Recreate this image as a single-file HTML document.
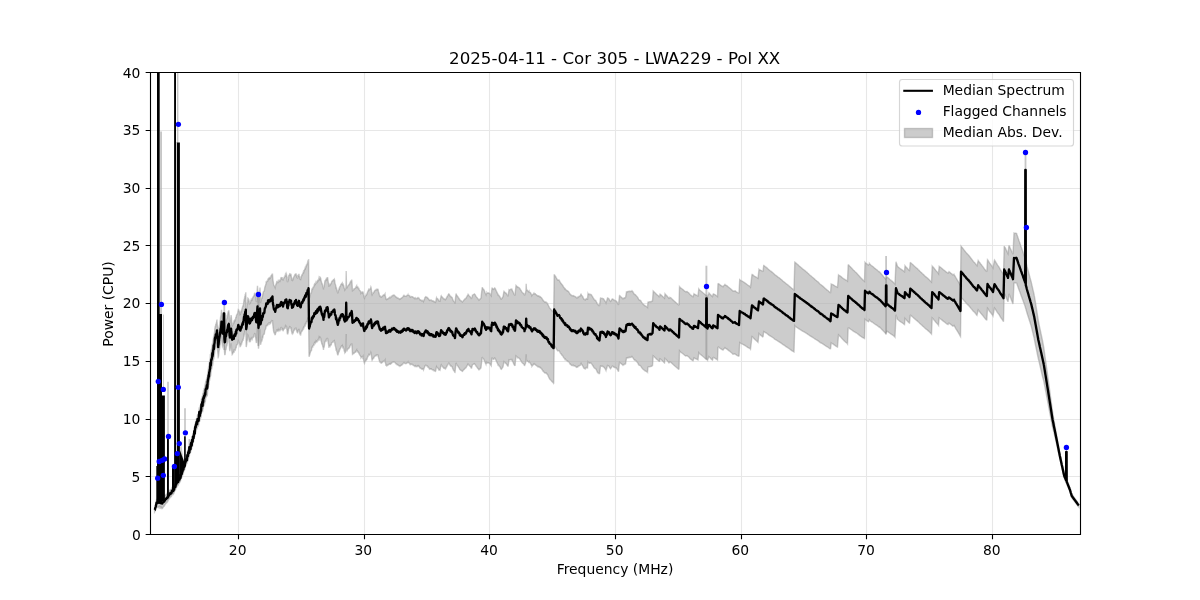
<!DOCTYPE html>
<html lang="en">
<head>
<meta charset="utf-8">
<title>2025-04-11 - Cor 305 - LWA229 - Pol XX</title>
<style>
html,body{margin:0;padding:0;background:#fff;overflow:hidden}
body{width:1200px;height:600px}
svg text{white-space:pre}
</style>
</head>
<body>
<svg width="1200" height="600" viewBox="0 0 1200 600" style="display:block">
<defs><clipPath id="ax"><rect x="150" y="72" width="930" height="462"/></clipPath></defs>
<rect width="1200" height="600" fill="#fff"/>
<g clip-path="url(#ax)">
<path d="M154.6 508.19 L154.9 507.66 L155.2 506.16 L155.5 505.25 L155.8 503.99 L156.1 502.05 L156.4 500.51 L156.5 499.58 L156.7 499.43 L157 499.13 L157.3 498.79 L157.6 498.39 L157.9 497.45 L158.2 496.85 L158.5 496.91 L158.8 497.38 L159.1 496.51 L159.1 496.75 L159.4 497.37 L159.7 496.56 L160 497.29 L160.3 497.78 L160.6 497.15 L160.9 497.62 L161.2 498.13 L161.5 497.43 L161.8 497.97 L162.1 498.34 L162.4 498.38 L162.4 498.16 L162.7 497.53 L163 497.49 L163.3 497.08 L163.6 496.91 L163.9 496.5 L164.2 496.74 L164.5 496.38 L164.8 495.58 L165.1 495.59 L165.4 494.97 L165.7 494.89 L166 494.48 L166.3 494.55 L166.6 493.93 L166.9 493.75 L167.2 493.78 L167.3 493.32 L167.5 493.69 L167.8 492.51 L168.1 492.87 L168.4 492.17 L168.7 491.86 L169 491.79 L169.3 491.34 L169.6 490.89 L169.9 490.06 L170.2 489.8 L170.5 490.2 L170.8 489.58 L171.1 489.42 L171.4 489.4 L171.7 488.64 L172 487.36 L172.3 487.33 L172.6 487.36 L172.9 486.44 L173.2 487.17 L173.5 486.76 L173.8 486.24 L174 485.38 L174.1 485.78 L174.4 484.03 L174.7 483.74 L175 483.41 L175.3 483.32 L175.6 482.29 L175.9 481.07 L176.2 480.86 L176.5 480.24 L176.8 479.6 L177.1 478.76 L177.4 478.65 L177.7 478.13 L178 478.2 L178.3 477.67 L178.6 476.53 L178.9 475.82 L179.2 475.9 L179.5 475.56 L179.8 474.53 L180.1 474.23 L180.4 473.97 L180.5 471.75 L180.7 473.1 L181 470.86 L181.3 470.49 L181.6 470.44 L181.9 469.42 L182.2 467.13 L182.5 467.61 L182.8 465.21 L183.1 465.13 L183.4 465.54 L183.7 463.63 L184 463.28 L184.3 462.82 L184.6 462.27 L184.9 461.26 L185 458.71 L185.2 459.35 L185.5 458.56 L185.8 456.36 L186.1 456.98 L186.4 456.29 L186.7 456.11 L187 455.59 L187.3 451.92 L187.6 451.35 L187.9 451.92 L188.2 449.15 L188.5 448.55 L188.8 448.89 L188.8 447.43 L189.1 448.66 L189.4 447.95 L189.7 443.92 L190 444.77 L190.3 444.78 L190.6 444.47 L190.9 440.81 L191.2 439.41 L191.5 441.15 L191.8 440.29 L192.1 436.51 L192.4 436.48 L192.6 436.92 L192.7 437.05 L193 433.21 L193.3 434.08 L193.6 433.53 L193.9 431.35 L194.2 428.63 L194.2 428.09 L194.5 427.96 L194.8 429.02 L195.1 424.62 L195.4 423.19 L195.7 423.44 L196 420.89 L196.3 420 L196.6 418.2 L196.9 419.11 L197.1 419.01 L197.2 417.45 L197.5 414.99 L197.8 414.64 L198.1 414.56 L198.4 414.87 L198.7 413.89 L199 409.46 L199.3 407.27 L199.6 409.6 L199.9 408.81 L200.2 405.6 L200.3 406.55 L200.5 406.16 L200.8 403.87 L201.1 403.8 L201.4 398.97 L201.7 398.84 L202 397.67 L202.3 395.81 L202.6 398.01 L202.9 393.04 L203.2 394.6 L203.5 390.83 L203.8 390.88 L203.8 391.13 L204.1 388.81 L204.4 388.96 L204.7 387.72 L205 385.48 L205.3 386 L205.6 382.26 L205.9 381.12 L206.2 380.54 L206.5 379.37 L206.8 377.36 L207.1 379.13 L207.4 377.47 L207.6 373.54 L207.7 373.92 L208 371.1 L208.3 369.8 L208.6 366.85 L208.9 365.55 L209 366.52 L209.2 363.04 L209.5 362.19 L209.8 360.05 L210.1 358.72 L210.4 354.16 L210.7 354.82 L210.8 354.92 L211 352.52 L211.3 349.67 L211.6 349.37 L211.9 347.81 L212.2 345.91 L212.3 343.6 L212.5 345.29 L212.8 343.52 L213.1 340.06 L213.4 338.92 L213.7 335.46 L213.8 337.9 L214 335.96 L214.3 333.29 L214.6 331.57 L214.9 327.78 L215 327.44 L215.2 326.53 L215.5 326.43 L215.8 323.88 L216.1 325.05 L216.4 322.71 L216.7 321.55 L217 319.5 L217 321.1 L217.3 324.89 L217.6 327.82 L217.9 330.21 L218.2 335.1 L218.2 333.4 L218.5 333.05 L218.8 330.25 L219.1 327.34 L219.4 325.76 L219.7 323.89 L220 320.81 L220.3 320.15 L220.6 316.95 L220.9 315.97 L221.2 313.69 L221.5 309.76 L221.5 311.07 L221.8 313.45 L222.1 317.67 L222.4 320.35 L222.5 321.21 L222.7 320.67 L223 316.44 L223.3 315.39 L223.6 312.71 L223.6 312.06 L223.9 317.66 L224.2 321.26 L224.5 325.99 L224.8 329.28 L224.8 328.73 L225.1 328.46 L225.4 325 L225.7 323.23 L226 323.02 L226.3 320.65 L226.6 319.08 L226.9 318.62 L227 316.95 L227.2 317.33 L227.5 315.6 L227.8 313.73 L228.1 312.05 L228.4 311.33 L228.7 311.75 L228.8 310.2 L229 312.33 L229.3 316.6 L229.6 321.67 L229.8 322.61 L229.9 323.33 L230.2 320.3 L230.5 320.34 L230.8 317.75 L231.1 315.11 L231.2 316.48 L231.4 317.51 L231.7 321.62 L232 324.52 L232.2 325.84 L232.3 325.67 L232.6 325.15 L232.9 324.39 L233.2 323.38 L233.5 322.59 L233.8 323.69 L234.1 321.11 L234.4 321.37 L234.7 320.03 L235 319.71 L235 320.85 L235.3 320.43 L235.6 318.67 L235.9 316.86 L236.2 317.98 L236.5 315.03 L236.8 314.79 L237.1 314.14 L237.4 313.92 L237.7 312.67 L238 311.12 L238.3 309.57 L238.5 309.74 L238.6 310.1 L238.9 310.96 L239.2 311.68 L239.5 311.54 L239.8 313.1 L240 314.25 L240.1 314.07 L240.4 314.1 L240.7 312.16 L241 312.25 L241.3 310.86 L241.6 310.9 L241.9 308.9 L242.2 308.69 L242.5 306.96 L242.8 306.22 L243 307.08 L243.1 305.28 L243.4 304.93 L243.7 302.61 L244 300.2 L244.3 300.42 L244.6 297.55 L244.9 297.82 L245.2 294.79 L245.5 294.8 L245.8 292.32 L245.8 292.69 L246.1 307.69 L246.2 311.3 L246.4 310.17 L246.7 308.12 L247 304.59 L247.3 303.93 L247.6 301.92 L247.9 298.19 L248 298.27 L248.2 298.47 L248.5 300.53 L248.8 300.22 L249.1 302.4 L249.4 304.16 L249.5 304.43 L249.7 302.73 L250 303.6 L250.3 301.73 L250.6 302.21 L250.9 300.87 L251.2 299.47 L251.5 299.96 L251.5 300.11 L251.8 299.58 L252.1 299.83 L252.4 298.06 L252.7 297.71 L253 297.23 L253 298.03 L253.3 297.09 L253.6 296.32 L253.9 295.82 L254.2 294.74 L254.5 293.48 L254.8 293.73 L255 292.86 L255.1 293.83 L255.4 296.66 L255.7 296.96 L256 299.75 L256.3 301.61 L256.5 302.09 L256.6 300.74 L256.9 296.58 L257.2 290.11 L257.5 285.68 L257.5 285.95 L257.8 291.63 L258.1 299.58 L258.4 305.33 L258.5 307.21 L258.7 304.99 L259 300.4 L259.3 297 L259.6 292.11 L259.9 289.53 L260 287.49 L260.2 292.71 L260.5 301.85 L260.5 302.79 L260.8 301.71 L261.1 300.15 L261.4 298.98 L261.7 297.93 L262 298.06 L262.3 295.19 L262.6 295.67 L262.9 294.5 L263.2 292.28 L263.5 291.68 L263.8 291.29 L264 291.2 L264.1 291.19 L264.4 290.35 L264.7 287.92 L265 286.63 L265.3 286.12 L265.6 285.16 L265.9 284.25 L266.2 282.03 L266.5 282.15 L266.8 281.74 L267 281.08 L267.1 281.1 L267.4 280.94 L267.7 280.89 L268 278.71 L268.3 280.04 L268.6 278.29 L268.9 277.96 L269.2 277.8 L269.5 278.49 L269.8 277.73 L270 277.18 L270.1 277.13 L270.4 277.94 L270.7 277.51 L271 275.86 L271.3 275.6 L271.6 275.37 L271.9 274.57 L272.2 274.78 L272.5 273.61 L272.5 274.32 L272.8 278.11 L273.1 281.01 L273.4 282.56 L273.5 283.81 L273.7 284.64 L274 285.73 L274.3 285.84 L274.6 286.19 L274.9 287.01 L275 286.93 L275.2 287.56 L275.5 286.18 L275.8 284.56 L276.1 284.27 L276.4 283.02 L276.7 282.16 L277 280.96 L277 281.2 L277.3 282.6 L277.6 282.37 L277.9 282.51 L278.2 281.16 L278.5 281.98 L278.8 281.76 L279 281.24 L279.1 281.69 L279.4 280.57 L279.7 280.41 L280 281.06 L280.3 280.36 L280.6 279.9 L280.9 277.9 L281 277.82 L281.2 277.53 L281.5 277.67 L281.8 277.67 L282.1 279.39 L282.4 279.54 L282.7 278.58 L283 279.11 L283 280.53 L283.3 279.35 L283.6 278.55 L283.9 278.25 L284.2 277.16 L284.5 277.07 L284.8 276.65 L285 275.76 L285.1 276.27 L285.4 274.55 L285.7 275.23 L286 275.71 L286.3 273.76 L286.5 274.28 L286.6 275.32 L286.9 277.07 L287.2 280.65 L287.5 282 L287.5 281.99 L287.8 281.55 L288.1 278.5 L288.4 278.92 L288.7 276.16 L289 275.37 L289 275.59 L289.3 275.26 L289.6 274.08 L289.9 274.33 L290.2 274.1 L290.5 275.06 L290.8 274.74 L291 273.92 L291.1 275.31 L291.4 277.26 L291.7 278.37 L292 279.98 L292 280.95 L292.3 279.74 L292.6 278.47 L292.9 279.76 L293.2 279.09 L293.5 277.55 L293.8 276.96 L294 276.56 L294.1 276.94 L294.4 275.65 L294.7 275.5 L295 274.41 L295.3 274.22 L295.6 274.56 L295.9 273.76 L296 273.29 L296.2 274.55 L296.5 276.18 L296.8 275.94 L297.1 277.69 L297.4 277.97 L297.5 278.07 L297.7 278 L298 275.58 L298.3 275.09 L298.6 276.06 L298.9 275.58 L299 273.79 L299.2 276.25 L299.5 276.38 L299.8 278.24 L300 279.06 L300.1 279.2 L300.4 278.73 L300.7 279.11 L301 277.51 L301.3 276.24 L301.6 275.96 L301.9 274.9 L302 274.77 L302.2 275.11 L302.5 274.58 L302.8 273.38 L303.1 272.97 L303.4 271.78 L303.7 272.23 L304 271.07 L304 270.61 L304.3 270.56 L304.6 269.27 L304.9 268.77 L305.2 267.77 L305.5 268.39 L305.8 266.74 L306 267.62 L306.1 266.26 L306.4 265.02 L306.7 265.4 L307 264.75 L307.3 264.35 L307.6 262.18 L307.9 262.69 L308.2 261.89 L308.5 259.87 L308.6 259.85 L308.8 279.63 L309 298.35 L309.1 299.28 L309.4 298.07 L309.7 297.53 L310 295.88 L310.3 295.16 L310.6 293.67 L310.9 293.05 L311.2 292.92 L311.5 292.39 L311.8 289.87 L312 289.03 L312.1 288.83 L312.4 288.87 L312.7 288.91 L313 287.27 L313.3 287.18 L313.6 286.69 L313.9 286.73 L314.2 284.9 L314.5 284.14 L314.8 284.57 L315 283.96 L315.1 283.71 L315.4 284.21 L315.7 283.66 L316 282.2 L316.3 282.72 L316.6 282.84 L316.9 282.7 L317.2 280.71 L317.5 281.75 L317.8 279.78 L318 280.53 L318.1 280.23 L318.4 280.42 L318.7 279.41 L319 277.97 L319.3 278.88 L319.6 277.99 L319.9 278.85 L320.2 277.3 L320.5 277.67 L320.5 278.29 L320.8 278.57 L321.1 280.55 L321.4 281.77 L321.7 282.96 L322 284.34 L322 283.54 L322.3 284.07 L322.6 285.38 L322.9 286.72 L323.2 287.26 L323.5 289.48 L323.5 288.39 L323.8 286.9 L324.1 286.71 L324.4 284.84 L324.7 282.27 L325 280.76 L325 281.56 L325.3 280.86 L325.6 279.84 L325.9 279.66 L326.2 279.85 L326.5 277.97 L326.8 279.1 L327.1 278 L327.4 277.11 L327.5 278.02 L327.7 278.01 L328 280.29 L328.3 282.28 L328.6 283.5 L328.9 286.36 L329 286.68 L329.2 285.57 L329.5 285.16 L329.8 284.62 L330.1 285.02 L330.4 283.93 L330.7 283.94 L331 283.83 L331.3 283.38 L331.6 281.67 L331.9 281.41 L332 281.3 L332.2 281.04 L332.5 280.77 L332.8 280.51 L333.1 280.63 L333.4 279.63 L333.7 279.59 L334 279.57 L334.3 279.13 L334.5 279.78 L334.6 280.04 L334.9 282.59 L335.2 284.02 L335.5 284.63 L335.8 286.13 L336 287.9 L336.1 287.8 L336.4 287.7 L336.7 289.38 L337 290.01 L337.3 291.53 L337.6 292.44 L337.8 293.33 L337.9 292.74 L338.2 292.2 L338.5 290.49 L338.8 289.74 L339.1 288.53 L339.4 288.83 L339.7 287.02 L340 286.55 L340 286.5 L340.3 286.44 L340.6 285.38 L340.9 284.57 L341.2 284.42 L341.5 283.62 L341.8 283.87 L342.1 284.21 L342.4 283.35 L342.7 284.5 L343 283.79 L343 283.48 L343.3 285.18 L343.6 285.25 L343.9 286.49 L344.2 288.29 L344.5 288.37 L344.8 289.79 L345 289.38 L345.1 289.81 L345.4 289.5 L345.7 288.45 L345.9 288.28 L346 282.73 L346.2 271.1 L346.3 276.12 L346.5 287.59 L346.6 288.23 L346.9 287.05 L347.2 287.31 L347.5 286.25 L347.5 286.58 L347.8 285.96 L348.1 285.66 L348.4 285.41 L348.7 285.1 L349 284.58 L349.3 284.31 L349.6 283.86 L349.9 282.56 L350 282.97 L350.2 282.36 L350.5 281.7 L350.8 281.25 L351.1 281.57 L351.4 280.92 L351.7 279.76 L351.8 280.21 L352 282.6 L352.3 287.57 L352.5 290.82 L352.6 290.76 L352.9 289.89 L353.2 289.47 L353.5 289.81 L353.8 289.8 L354.1 289.48 L354.4 288.68 L354.7 288.61 L355 288.46 L355.3 288.33 L355.6 287.58 L355.9 287.67 L356.2 286.64 L356.5 286.13 L356.5 286.21 L356.8 286.83 L357.1 287.14 L357.4 286.81 L357.7 287.51 L358 287.34 L358.3 288.19 L358.6 288.56 L358.9 289 L359 288.89 L359.2 289.63 L359.5 290.08 L359.8 290.45 L360.1 290.96 L360.4 291.07 L360.7 292.01 L361 292.48 L361 292.81 L361.3 292.33 L361.6 292.66 L361.9 292.16 L362.2 292.06 L362.5 292.73 L362.8 291.94 L363 291.47 L363.1 292.51 L363.4 294.17 L363.7 295.34 L364 296.81 L364.3 297.96 L364.5 298.28 L364.6 297.8 L364.9 296.84 L365.2 296.25 L365.5 295.95 L365.8 295.83 L366.1 294.55 L366.4 294.95 L366.7 294.51 L367 294.05 L367.3 292.69 L367.6 291.81 L367.9 291.65 L368 291.29 L368.2 290.62 L368.5 289.99 L368.8 289.34 L369.1 290 L369.4 289.62 L369.7 289.51 L370 289.13 L370.3 288.44 L370.6 288.19 L370.9 286.99 L371 287.22 L371.2 288.29 L371.5 290.63 L371.8 293.25 L372 294.56 L372.1 294.86 L372.4 294.26 L372.7 293.66 L373 293.29 L373.3 292.73 L373.6 292.74 L373.9 292.42 L374.2 291.33 L374.5 291 L374.8 290.87 L375 290 L375.1 290.43 L375.4 290.26 L375.7 289.9 L376 289.93 L376.3 289.38 L376.6 289.67 L376.9 289.84 L377.2 289.37 L377.5 289.19 L377.8 289.14 L378 289.23 L378.1 289.71 L378.4 291.38 L378.7 292.29 L379 293.54 L379.3 294.56 L379.5 295.34 L379.6 295.68 L379.9 296.2 L380.2 295.96 L380.5 296.37 L380.8 296.74 L381.1 297.19 L381.4 296.87 L381.5 297.12 L381.7 297.02 L382 296.34 L382.3 296.34 L382.6 296.26 L382.9 295.38 L383.2 295.34 L383.5 294.95 L383.8 295.13 L384.1 295.34 L384.4 294.91 L384.7 294.4 L385 293.9 L385 294.12 L385.3 295.9 L385.6 297.22 L385.9 298.85 L386 299.61 L386.2 298.89 L386.5 299.45 L386.8 299.08 L387.1 298.96 L387.4 299.24 L387.7 298.85 L388 298.6 L388.3 298.43 L388.6 298.46 L388.9 297.82 L389.2 297.81 L389.5 297.47 L389.8 297.59 L390 297.27 L390.1 297.67 L390.4 297.7 L390.7 297.24 L391 297.19 L391.3 296.97 L391.6 296.68 L391.9 295.87 L392.2 295.88 L392.5 295.59 L392.8 295.45 L393.1 295.23 L393.4 295.47 L393.7 295.31 L394 295.09 L394.3 295.14 L394.5 295.28 L394.6 295.39 L394.9 295.91 L395.2 296.23 L395.5 296.31 L395.8 296.8 L396.1 297.2 L396.4 297.19 L396.7 297.23 L397 297.82 L397.3 297.72 L397.5 297.83 L397.6 297.99 L397.9 298.03 L398.2 298.17 L398.5 298.54 L398.8 298.76 L399.1 298.68 L399.4 298.64 L399.7 298.9 L400 298.95 L400 298.97 L400.3 298.71 L400.6 298.84 L400.9 298.33 L401.2 298.04 L401.5 298.19 L401.8 298.01 L402.1 297.54 L402.4 297.17 L402.7 296.99 L403 296.77 L403.3 296.01 L403.6 295.76 L403.9 295.36 L404 295.63 L404.2 295.61 L404.5 295.75 L404.8 296.09 L405.1 296.22 L405.4 296.23 L405.7 296.19 L406 296.33 L406.3 296.09 L406.6 295.78 L406.9 295.7 L407.2 295.25 L407.5 295.21 L407.8 295.29 L408 294.79 L408.1 295.22 L408.4 295.16 L408.7 295.19 L409 295.37 L409.3 295.57 L409.6 296.02 L409.9 296.61 L410 296.55 L410.2 296.99 L410.5 296.63 L410.8 296.92 L411.1 296.9 L411.4 296.78 L411.7 296.47 L412 296.58 L412.3 296.66 L412.6 296.82 L412.9 297.36 L413.2 297.39 L413.5 297.7 L413.8 297.62 L414.1 297.82 L414.4 298.28 L414.7 298.51 L415 298.2 L415 298.56 L415.3 298.46 L415.6 298.19 L415.9 298.54 L416.2 298.38 L416.5 298.44 L416.8 298.7 L417.1 298.46 L417.4 297.97 L417.7 298.18 L418 297.71 L418.3 298.16 L418.6 298.23 L418.9 298.47 L419 298.21 L419.2 298.53 L419.5 299.19 L419.8 299.53 L420.1 299.94 L420.4 299.84 L420.7 300.08 L421 300.12 L421.3 300.5 L421.6 300.81 L421.9 300.46 L422.2 300.76 L422.5 300.45 L422.8 300.85 L423.1 300.8 L423.4 301.01 L423.5 301.5 L423.7 301.1 L424 300.02 L424.3 299.32 L424.6 298.71 L424.9 297.63 L425 297.46 L425.2 297.34 L425.5 296.95 L425.8 296.69 L426.1 296.88 L426.4 296.98 L426.7 297.03 L427 297.44 L427.3 297.86 L427.6 297.65 L427.9 298.02 L428.2 298.72 L428.5 298.78 L428.8 299.18 L429.1 299.63 L429.4 300.36 L429.7 300.05 L430 300.05 L430 300.33 L430.3 300.38 L430.6 300.36 L430.9 300.17 L431.2 300.51 L431.5 300.25 L431.8 300.55 L432.1 300.65 L432.4 300.89 L432.7 300.83 L433 300.9 L433.3 301.43 L433.6 301.17 L433.9 301.36 L434.2 301.67 L434.5 301.61 L434.8 301.9 L435.1 302.26 L435.4 302.27 L435.5 302.34 L435.7 301.82 L436 300.31 L436.3 298.72 L436.5 297.87 L436.6 298.14 L436.9 298.34 L437.2 298.38 L437.5 298.49 L437.8 299.26 L438.1 299.37 L438.4 300.1 L438.7 300.23 L439 301.08 L439.3 301.04 L439.6 300.94 L439.9 300.95 L440 301.03 L440.2 300.1 L440.5 298.58 L440.8 297.43 L441.1 296 L441.2 295.81 L441.4 296.22 L441.7 296.4 L442 297.03 L442.3 297.16 L442.6 297.4 L442.9 298.06 L443.2 298.18 L443.5 298.6 L443.8 299.01 L444.1 299.22 L444.4 298.98 L444.7 299.42 L445 299.37 L445.3 299.36 L445.5 299.42 L445.6 299.58 L445.9 299.05 L446.2 298.33 L446.5 297.72 L446.8 297.53 L447.1 296.53 L447.4 296.04 L447.7 295.76 L448 295.31 L448.3 294.5 L448.6 294.09 L448.9 293.89 L449 293.93 L449.2 294.28 L449.5 294.84 L449.8 295.42 L450.1 296.13 L450.4 296.19 L450.5 296.51 L450.7 296.44 L451 296.48 L451.3 296.93 L451.6 297.19 L451.9 297.31 L452.2 297.78 L452.5 298.78 L452.8 299.49 L453.1 300.22 L453.4 300.79 L453.7 301.18 L454 301.5 L454.3 301.91 L454.6 302.27 L454.9 303.11 L455 303.13 L455.2 301.18 L455.5 298.37 L455.8 295.74 L456 294.17 L456.1 294.08 L456.4 294.56 L456.7 295.22 L457 295.56 L457.3 296.11 L457.6 296.41 L457.9 296.73 L458.2 297.35 L458.5 297.83 L458.8 298.01 L459.1 298.61 L459.4 299.24 L459.5 299.25 L459.7 299.84 L460 300.14 L460.3 300.15 L460.6 300.71 L460.9 300.78 L461.2 300.87 L461.5 301.29 L461.8 301.49 L462.1 301.69 L462.4 301.99 L462.5 302.01 L462.7 301.54 L463 301.21 L463.3 300.66 L463.6 300.51 L463.9 300.05 L464.2 299.68 L464.5 299.68 L464.8 299.01 L465.1 298.82 L465.4 298.85 L465.7 298.56 L466 298.25 L466 298.44 L466.3 297.53 L466.6 296.97 L466.9 296.58 L467.2 295.82 L467.5 295.57 L467.8 295.15 L468 294.59 L468.1 294.74 L468.4 294.65 L468.7 295.15 L469 295.71 L469.3 296 L469.6 296.24 L469.9 296.66 L470.2 296.85 L470.5 297.24 L470.8 297.53 L471.1 298.35 L471.4 298.49 L471.5 299 L471.7 297.74 L472 297 L472.3 295.73 L472.5 294.72 L472.6 295.06 L472.9 294.88 L473.2 294.69 L473.5 294.49 L473.8 294.29 L474.1 294.14 L474.4 293.98 L474.7 294.42 L475 294.34 L475 294.23 L475.3 295.2 L475.6 295.44 L475.9 296.06 L476.2 296.61 L476.5 297.09 L476.8 297.27 L477.1 297.55 L477.4 298.24 L477.7 298.57 L478 298.96 L478.3 299.05 L478.6 299.65 L478.9 299.95 L479 300.1 L479.2 299.88 L479.5 299.59 L479.8 299.28 L480.1 299.17 L480.4 298.61 L480.7 298.46 L481 297.93 L481 297.92 L481.3 295 L481.6 292.5 L481.9 290.21 L482.2 287.53 L482.2 287.22 L482.5 287.79 L482.8 288.35 L483.1 288.78 L483.4 289.01 L483.7 289.21 L484 289.88 L484.3 290.5 L484.6 291.29 L484.9 291.96 L485.2 293 L485.5 293.64 L485.8 293.97 L486 294.5 L486.1 294 L486.4 293.61 L486.7 293.39 L487 292.94 L487 292.73 L487.3 293.14 L487.6 293.01 L487.9 293.02 L488.2 292.91 L488.5 293.04 L488.8 292.9 L489.1 293.2 L489.4 293.55 L489.7 293.71 L490 293.86 L490 293.63 L490.3 294.23 L490.6 295 L490.9 295.42 L491.2 295.8 L491.2 295.43 L491.5 292.57 L491.8 289.76 L492 288.35 L492.1 288.12 L492.4 288.37 L492.7 288.62 L493 289.09 L493.3 289.23 L493.6 289.32 L493.9 288.7 L494.2 288.46 L494.5 288.62 L494.8 288.03 L495 288.17 L495.1 288.34 L495.4 288.82 L495.7 289.53 L496 290.44 L496.3 290.77 L496.6 291.9 L496.9 292.06 L497.2 292.72 L497.5 293.56 L497.8 293.91 L498 294.74 L498.1 294.64 L498.4 294.84 L498.7 295.21 L499 295.72 L499.3 296.21 L499.6 296.23 L499.9 296.73 L500.2 297.43 L500.5 298.09 L500.8 298.74 L501 298.96 L501.1 298.96 L501.4 299.15 L501.7 298.74 L502 298.07 L502.3 297.93 L502.6 297.1 L502.9 296.99 L503 296.89 L503.2 295.61 L503.5 294.01 L503.8 292.04 L504 291.31 L504.1 291.41 L504.4 291.91 L504.7 292.35 L505 292.37 L505.3 292.92 L505.6 292.99 L505.9 293.24 L506.2 293.25 L506.5 293.97 L506.8 294.29 L507.1 295.04 L507.4 295.18 L507.7 295.73 L508 296.26 L508 296.35 L508.3 294.7 L508.6 292.4 L508.9 290.79 L509 289.91 L509.2 290.09 L509.5 290 L509.8 289.73 L510.1 289.68 L510.4 289.41 L510.7 289.17 L511 289.14 L511.3 289.1 L511.6 289.6 L511.9 289.39 L512 289.8 L512.2 289.93 L512.5 291.1 L512.8 291.36 L513.1 291.97 L513.4 292.64 L513.7 293.57 L514 293.98 L514.3 294.54 L514.6 295.11 L514.9 295.18 L515 295.55 L515.2 293.44 L515.5 290.25 L515.8 287.54 L516 285.42 L516.1 285.5 L516.4 286.02 L516.7 286.43 L517 286.45 L517.3 286.73 L517.6 287.31 L517.9 287.15 L518.2 287.3 L518.5 287.36 L518.8 287.64 L519.1 287.65 L519.4 288.19 L519.7 288.47 L520 288.65 L520 288.86 L520.3 289.55 L520.6 289.92 L520.9 290.32 L521.2 290.61 L521.5 291.39 L521.8 291.71 L522.1 292.14 L522.4 292.48 L522.7 292.75 L523 292.97 L523.3 293.19 L523.6 293.53 L523.9 293.72 L524.2 294.48 L524.5 295.25 L524.5 295.47 L524.8 294.48 L525.1 293.78 L525.4 293.17 L525.7 291.82 L525.8 291.34 L525.9 291.2 L526 288.77 L526.2 283.72 L526.3 285.94 L526.5 290.39 L526.6 290.31 L526.9 290.29 L527 290.19 L527.2 290.1 L527.5 290.74 L527.8 290.81 L528.1 291.11 L528.4 291.15 L528.7 291.69 L529 291.3 L529 291.36 L529.3 291.71 L529.6 291.96 L529.9 292.2 L530.2 292.62 L530.5 292.69 L530.8 293.49 L531.1 293.87 L531.4 294.54 L531.7 294.97 L532 295.58 L532 295.61 L532.3 295.24 L532.6 294.6 L532.9 294.46 L533.2 294.24 L533.5 293.8 L533.5 293.88 L533.8 293.63 L534.1 293.44 L534.4 293.77 L534.7 293.56 L535 293.73 L535.3 293.73 L535.6 294.16 L535.9 294.57 L536.2 294.61 L536.5 294.99 L536.8 295.08 L537.1 295.55 L537.4 295.61 L537.7 295.66 L538 295.73 L538 295.94 L538.3 295.82 L538.6 296.17 L538.9 296.01 L539.2 296.4 L539.5 296.34 L539.8 296.39 L540.1 296.99 L540.4 296.86 L540.7 297.37 L541 297.4 L541.3 297.57 L541.6 297.95 L541.9 298.59 L542.2 298.72 L542.5 299.56 L542.8 299.74 L543 299.96 L543.1 300.46 L543.4 300.41 L543.7 300.92 L544 301.42 L544.3 301.5 L544.6 302.04 L544.9 302.07 L545.2 302.16 L545.5 301.98 L545.8 302.31 L546.1 302.44 L546.4 302.3 L546.7 302.92 L547 303.16 L547 302.86 L547.3 303.55 L547.6 303.93 L547.9 304.04 L548.2 305.04 L548.5 305.85 L548.8 306.5 L549.1 306.88 L549.4 307.72 L549.7 308.16 L550 308.43 L550 308.44 L550.3 308.63 L550.6 308.91 L550.9 309.37 L551.2 309.73 L551.5 310.08 L551.8 310.54 L552.1 310.43 L552.4 310.83 L552.7 311.39 L553 311.74 L553.3 311.78 L553.6 312.42 L553.7 312.27 L553.9 297.45 L554.2 274.31 L554.2 274.47 L554.5 274.88 L554.8 275.37 L555.1 275.71 L555.4 276.25 L555.7 276.69 L556 277.34 L556.3 277.76 L556.6 278.35 L556.9 278.84 L557.2 279.41 L557.5 279.93 L557.8 279.83 L558 279.91 L558.1 279.96 L558.4 279.98 L558.7 279.97 L559 279.95 L559.3 280.58 L559.6 280.94 L559.9 281.63 L560.2 282.23 L560.5 282.69 L560.5 282.68 L560.8 282.99 L561.1 283.36 L561.4 283.89 L561.5 284.2 L561.7 284.16 L562 284.38 L562.3 285.12 L562.6 285.34 L562.9 285.72 L563.2 286.43 L563.5 287.03 L563.8 287.43 L564.1 287.62 L564.4 288.14 L564.7 288.29 L565 288.94 L565 289.03 L565.3 288.85 L565.6 289.38 L565.9 289.82 L566.2 290.06 L566.5 290.15 L566.8 290.44 L567.1 290.87 L567.4 290.82 L567.7 291.32 L568 291.3 L568.3 291.35 L568.6 291.69 L568.9 291.96 L569.2 292.62 L569.5 293.14 L569.8 293.49 L570 294.15 L570.1 294.25 L570.4 294.32 L570.7 294.66 L571 294.84 L571.3 295.35 L571.6 295.46 L571.9 295.75 L572.2 295.69 L572.5 295.73 L572.8 295.54 L573.1 295.81 L573.4 295.6 L573.7 295.98 L574 296.09 L574.3 296.15 L574.6 296.16 L574.9 296.51 L575 296.57 L575.2 296.76 L575.5 296.72 L575.8 297.05 L576.1 297.43 L576.4 297.8 L576.7 297.65 L577 297.85 L577.3 297.78 L577.6 297.28 L577.9 297.47 L578 297.29 L578.2 296.94 L578.5 296.8 L578.8 296.69 L579.1 296.36 L579.4 296.5 L579.7 296.21 L580 296.16 L580 296.39 L580.3 295.77 L580.6 294.87 L580.9 294.13 L581 294.04 L581.2 294.43 L581.5 295.29 L581.8 295.47 L582.1 295.85 L582.4 296.25 L582.7 296.77 L583 297.19 L583.3 298.1 L583.6 298.53 L583.9 299.03 L584 299.37 L584.2 299.38 L584.5 299.66 L584.8 299.5 L585.1 299.56 L585.4 299.72 L585.5 299.82 L585.7 299.29 L586 298.95 L586.3 298.61 L586.6 298.68 L586.9 298.88 L587.2 299.1 L587.5 299.19 L587.5 299.01 L587.8 295.76 L588 293.63 L588.1 293.84 L588.4 294.1 L588.7 293.88 L589 294.31 L589.3 294.47 L589.6 294.17 L589.9 294.54 L590.2 294.41 L590.5 294.53 L590.8 294.47 L591.1 294.6 L591.4 295.07 L591.7 295.41 L592 295.63 L592 295.62 L592.3 296.48 L592.6 296.76 L592.9 297.33 L593.2 297.74 L593.5 298.34 L593.8 298.97 L594.1 299.31 L594.4 299.7 L594.7 299.95 L595 300.01 L595 300.18 L595.3 300.26 L595.6 300.36 L595.9 300.88 L596.2 301.47 L596.5 302.08 L596.8 302.62 L597.1 303.64 L597.4 303.95 L597.5 304.18 L597.7 304.43 L598 304.83 L598.3 304.79 L598.6 304.95 L598.9 305.45 L599.2 305.76 L599.5 305.74 L599.5 305.98 L599.8 303.4 L600.1 301.37 L600.4 298.7 L600.5 298.24 L600.7 298.38 L601 298.16 L601.3 298.45 L601.6 298.38 L601.9 298.3 L602.2 298.22 L602.5 298.64 L602.8 298.66 L603.1 298.87 L603.4 298.87 L603.5 298.84 L603.7 299.15 L604 299.79 L604.3 299.97 L604.6 300.45 L604.9 300.98 L605.2 301.24 L605.5 301.78 L605.8 302.33 L606 302.87 L606.1 302.43 L606.4 301.53 L606.7 300.99 L607 299.79 L607.3 298.79 L607.5 297.98 L607.6 297.9 L607.9 298.22 L608.2 298.37 L608.5 298.4 L608.8 298.7 L609.1 299.1 L609.4 299.92 L609.7 300.46 L610 300.64 L610.3 301.11 L610.5 301.49 L610.6 301.4 L610.9 301 L611.2 300.53 L611.5 300.05 L611.8 299.59 L612.1 299.02 L612.4 298.91 L612.5 298.91 L612.7 298.94 L613 299.22 L613.3 299.61 L613.6 299.88 L613.9 299.83 L614.2 300.32 L614.5 300.48 L614.8 300.44 L615.1 300.58 L615.4 300.58 L615.7 300.72 L616 301 L616 300.75 L616.3 301.33 L616.6 301.35 L616.9 301.91 L617.2 302.55 L617.5 302.93 L617.8 303.44 L618.1 304.21 L618.4 304.6 L618.5 304.93 L618.7 302.85 L619 300.08 L619.3 297.53 L619.5 295.53 L619.6 295.46 L619.9 295.95 L620.2 296.11 L620.5 296.39 L620.8 296.9 L621.1 297.01 L621.4 297.35 L621.7 297.55 L622 297.83 L622.3 298.24 L622.6 298.39 L622.9 298.72 L623 298.86 L623.2 298.61 L623.5 298.37 L623.8 298.17 L624.1 298.3 L624.4 297.83 L624.7 297.72 L625 297.82 L625.3 297.8 L625.5 297.74 L625.6 297.27 L625.9 295.46 L626.2 293.65 L626.5 292.01 L626.5 291.94 L626.8 292.04 L627.1 291.73 L627.4 291.86 L627.7 291.51 L628 291.6 L628.3 291.51 L628.6 291.33 L628.9 291.57 L629.2 291.5 L629.5 291.21 L629.8 291.41 L630.1 291.5 L630.4 291.37 L630.7 291.29 L631 291.43 L631.3 291.19 L631.6 291.14 L631.9 291.06 L632 290.86 L632.2 291.18 L632.5 291.34 L632.8 291.8 L633.1 292.17 L633.4 292.88 L633.7 293.13 L634 293.78 L634.3 294.2 L634.6 294.15 L634.9 294.66 L635.2 294.73 L635.5 294.7 L635.8 295.2 L636.1 295.48 L636.4 295.92 L636.7 296.16 L637 296.43 L637.3 296.9 L637.6 297.2 L637.9 297.8 L638 297.95 L638.2 298.31 L638.5 299.12 L638.8 299.5 L639.1 299.9 L639.4 299.96 L639.7 300.04 L640 300.11 L640.3 300.52 L640.6 300.55 L640.9 300.98 L641.2 301.55 L641.5 302.17 L641.8 302.5 L642.1 302.98 L642.4 303.4 L642.7 303.66 L643 304.07 L643.3 304.36 L643.6 304.61 L643.9 304.82 L644.2 305.02 L644.5 305.15 L644.8 305.69 L645 305.84 L645.1 305.74 L645.4 305.88 L645.7 306.15 L646 306.16 L646.3 306.46 L646.6 306.79 L646.9 306.76 L647.2 306.88 L647.5 307.24 L647.5 307.22 L647.8 303.95 L648 302.11 L648.1 302.09 L648.4 302 L648.7 301.9 L649 301.87 L649.3 301.87 L649.6 301.86 L649.9 301.69 L650.2 301.7 L650.5 301.64 L650.8 301.72 L651.1 301.5 L651.4 301.44 L651.7 301.44 L652 301.05 L652.3 300.87 L652.5 300.77 L652.6 299.54 L652.9 295.32 L653.2 291.02 L653.2 291.01 L653.5 291.26 L653.8 291.71 L654.1 291.87 L654.4 292.24 L654.7 292.51 L655 292.81 L655.3 293.04 L655.6 293.31 L655.9 293.68 L656.2 294.08 L656.5 294.4 L656.8 294.55 L657.1 294.8 L657.4 295.08 L657.7 295.25 L658 295.46 L658.3 295.74 L658.6 296.11 L658.9 296.41 L659.2 296.84 L659.5 297.15 L659.5 297.19 L659.8 295.41 L660 294.14 L660.1 294.17 L660.4 294.41 L660.7 294.74 L661 294.93 L661.3 295.08 L661.6 295.41 L661.9 295.73 L662.2 296.03 L662.5 296.32 L662.8 296.61 L663.1 296.85 L663.4 297.19 L663.7 297.42 L664 297.82 L664.3 298.11 L664.5 298.28 L664.6 297.4 L664.9 294.77 L665 293.8 L665.2 294.05 L665.5 294.39 L665.8 294.79 L666.1 295.05 L666.4 295.35 L666.7 295.68 L667 296.07 L667.3 296.29 L667.6 296.68 L667.9 297.01 L668.2 297.37 L668.5 297.76 L668.8 298.17 L669 298.36 L669.1 298.31 L669.4 298.08 L669.7 297.66 L670 297.35 L670 297.31 L670.3 297.47 L670.6 297.68 L670.9 297.9 L671.2 298.2 L671.5 298.51 L671.8 298.75 L672.1 298.97 L672.4 299.33 L672.7 299.67 L673 299.84 L673.3 300.18 L673.6 300.42 L673.9 300.8 L674.2 301.03 L674.5 301.41 L674.8 301.59 L675.1 301.87 L675.4 302.09 L675.7 302.34 L676 302.57 L676.3 302.99 L676.6 303.19 L676.9 303.47 L677.2 303.78 L677.5 304.02 L677.8 304.25 L678.1 304.47 L678.4 304.79 L678.7 304.99 L679 305.12 L679 305.2 L679.3 294.05 L679.5 286.77 L679.6 286.91 L679.9 287.13 L680.2 287.43 L680.5 287.84 L680.8 288.06 L681.1 288.31 L681.4 288.39 L681.7 288.59 L682 288.77 L682.3 289.04 L682.6 289.26 L682.9 289.61 L683.2 289.79 L683.5 290.11 L683.8 290.38 L684.1 290.56 L684.4 290.9 L684.7 291.19 L685 291.34 L685.3 291.6 L685.5 291.77 L685.6 291.84 L685.9 291.77 L686.2 291.74 L686.5 291.61 L686.8 291.55 L687 291.48 L687.1 291.56 L687.4 291.91 L687.7 292.07 L688 292.26 L688.3 292.43 L688.6 292.76 L688.9 293 L689.2 293.45 L689.5 293.81 L689.8 294.19 L690.1 294.56 L690.4 294.82 L690.7 295.02 L691 295.23 L691.3 295.5 L691.6 295.63 L691.9 295.89 L692.2 296.23 L692.5 296.51 L692.8 296.74 L693 296.83 L693.1 296.64 L693.4 295.75 L693.7 294.78 L694 293.89 L694 293.88 L694.3 294.08 L694.6 294.18 L694.9 294.33 L695.2 294.63 L695.5 294.72 L695.8 294.89 L696.1 295.03 L696.4 295.16 L696.7 295.32 L697 295.45 L697.3 295.67 L697.6 295.81 L697.9 295.97 L698 296.01 L698.2 294.13 L698.5 291.53 L698.8 289.06 L698.8 289 L699.1 289.4 L699.4 289.63 L699.7 289.93 L700 290.19 L700.3 290.43 L700.6 290.72 L700.9 290.92 L701.2 291.29 L701.5 291.51 L701.8 291.76 L702.1 292.01 L702.4 292.22 L702.7 292.49 L703 292.71 L703.3 292.95 L703.6 293.16 L703.9 293.51 L704.2 293.79 L704.5 294.1 L704.8 294.37 L705.1 294.57 L705.4 294.73 L705.7 294.97 L706 295.32 L706 295.32 L706.3 295.52 L706.6 295.73 L706.9 295.98 L707.2 296.24 L707.5 296.6 L707.5 296.53 L707.8 295.79 L708.1 295.16 L708.4 294.38 L708.7 293.74 L709 293.06 L709 293.03 L709.3 293.3 L709.6 293.67 L709.9 293.94 L710.2 294.3 L710.5 294.63 L710.8 294.92 L711.1 295.35 L711.4 295.59 L711.7 295.92 L712 296.21 L712.3 296.4 L712.5 296.57 L712.6 296.26 L712.9 294.92 L713.2 293.67 L713.2 293.69 L713.5 293.8 L713.8 294.03 L714.1 294.17 L714.4 294.34 L714.7 294.5 L715 294.71 L715.3 294.9 L715.6 295.16 L715.9 295.32 L716.2 295.56 L716.5 295.69 L716.8 295.89 L717.1 296.15 L717.4 296.31 L717.5 296.43 L717.7 291.16 L718 283.33 L718 283.4 L718.3 283.51 L718.6 283.78 L718.9 283.92 L719.2 284.1 L719.5 284.42 L719.8 284.66 L720.1 284.82 L720.4 285.11 L720.7 285.34 L721 285.57 L721.3 285.68 L721.6 285.93 L721.9 286.18 L722.2 286.23 L722.5 286.49 L722.8 286.6 L723 286.73 L723.1 286.55 L723.4 286.15 L723.7 285.73 L724 285.46 L724.3 285.17 L724.6 284.9 L724.9 284.62 L725 284.44 L725.2 284.72 L725.5 285.02 L725.8 285.08 L726.1 285.34 L726.4 285.49 L726.7 285.6 L727 285.84 L727.3 286.11 L727.6 286.38 L727.9 286.56 L728.2 286.96 L728.5 287.14 L728.8 287.44 L729.1 287.56 L729.4 287.84 L729.7 287.97 L730 288.26 L730.3 288.51 L730.6 288.76 L730.9 289.1 L731.2 289.36 L731.5 289.59 L731.8 289.88 L732.1 290.15 L732.4 290.45 L732.7 290.79 L733 290.97 L733 291.04 L733.3 291.03 L733.6 291.02 L733.9 290.98 L734.2 290.89 L734.5 290.95 L734.8 290.86 L735 290.91 L735.1 290.86 L735.4 291.12 L735.7 291.37 L736 291.71 L736.3 291.86 L736.6 292.16 L736.9 292.29 L737.2 292.41 L737.5 292.5 L737.8 292.71 L738.1 292.77 L738.4 292.94 L738.7 293.26 L739 293.46 L739 293.54 L739.3 287.54 L739.6 281.72 L739.7 279.63 L739.9 279.81 L740.2 279.99 L740.5 280.23 L740.8 280.4 L741.1 280.6 L741.4 280.79 L741.7 280.96 L742 281.06 L742.3 281.22 L742.6 281.36 L742.9 281.5 L743.2 281.75 L743.5 282 L743.8 282.2 L744.1 282.41 L744.4 282.49 L744.7 282.78 L745 282.89 L745.3 283.2 L745.6 283.41 L745.9 283.56 L746.2 283.83 L746.5 284.01 L746.8 284.28 L747.1 284.5 L747.4 284.82 L747.7 285.04 L748 285.23 L748.3 285.4 L748.6 285.62 L748.9 285.7 L749.2 285.96 L749.5 286.09 L749.8 286.38 L750.1 286.63 L750.4 286.97 L750.5 287.12 L750.7 285.4 L751 282.96 L751.3 280.46 L751.6 277.82 L751.9 275.3 L752 274.46 L752.2 274.49 L752.5 274.73 L752.8 274.88 L753.1 275.17 L753.4 275.36 L753.7 275.74 L754 275.89 L754.3 276.16 L754.6 276.27 L754.9 276.44 L755.2 276.6 L755.5 276.8 L755.8 276.92 L756.1 277.14 L756.4 277.32 L756.7 277.43 L757 277.68 L757.3 277.75 L757.6 278.06 L757.9 278.35 L758 278.41 L758.2 276.54 L758.5 273.86 L758.8 271.17 L759 269.39 L759.1 269.5 L759.4 269.73 L759.7 269.8 L760 270.02 L760.3 270.11 L760.6 270.37 L760.9 270.43 L761.2 270.55 L761.5 270.69 L761.8 270.83 L762.1 270.97 L762.4 271.26 L762.7 271.41 L763 271.52 L763 271.58 L763.3 268.95 L763.6 266.29 L763.7 265.55 L763.9 265.55 L764.2 265.8 L764.5 266 L764.8 266.24 L765.1 266.54 L765.4 266.73 L765.7 266.9 L766 267.2 L766.3 267.41 L766.6 267.62 L766.9 267.91 L767.2 268.13 L767.5 268.49 L767.8 268.7 L768.1 268.95 L768.4 269.34 L768.7 269.51 L769 269.83 L769.3 270.09 L769.6 270.31 L769.9 270.58 L770.2 270.73 L770.5 270.95 L770.8 271.2 L771.1 271.34 L771.4 271.68 L771.7 271.85 L772 272.09 L772.3 272.33 L772.6 272.57 L772.9 272.77 L773.2 273.01 L773.5 273.3 L773.8 273.57 L774.1 273.96 L774.4 274.2 L774.7 274.61 L775 274.8 L775.3 275.02 L775.6 275.28 L775.9 275.43 L776.2 275.59 L776.5 275.82 L776.8 276.01 L777.1 276.23 L777.4 276.6 L777.7 276.84 L778 277.07 L778.3 277.25 L778.6 277.49 L778.9 277.65 L779.2 277.86 L779.5 278.2 L779.8 278.34 L780.1 278.54 L780.4 278.85 L780.7 279.05 L781 279.3 L781.3 279.45 L781.6 279.77 L781.9 280.06 L782.2 280.34 L782.5 280.62 L782.8 281.01 L783.1 281.25 L783.4 281.44 L783.7 281.61 L784 281.87 L784.3 282.05 L784.6 282.2 L784.9 282.58 L785.2 282.87 L785.5 283.2 L785.8 283.46 L786.1 283.65 L786.4 283.91 L786.7 284.07 L787 284.27 L787.3 284.52 L787.6 284.69 L787.9 284.88 L788.2 285.22 L788.5 285.51 L788.8 285.75 L789.1 285.9 L789.4 286.19 L789.7 286.42 L790 286.74 L790.3 287.08 L790.6 287.24 L790.9 287.58 L791.2 287.8 L791.5 288.05 L791.8 288.34 L792.1 288.52 L792.4 288.77 L792.7 289.06 L793 289.19 L793.3 289.4 L793.6 289.65 L793.9 289.86 L794 289.92 L794.2 282.94 L794.5 272.64 L794.8 262.18 L794.8 262.17 L795.1 262.31 L795.4 262.61 L795.7 262.88 L796 263.18 L796.3 263.31 L796.6 263.6 L796.9 263.9 L797.2 264.17 L797.5 264.32 L797.8 264.68 L798.1 264.88 L798.4 265.19 L798.7 265.52 L799 265.81 L799.3 265.97 L799.6 266.25 L799.9 266.6 L800.2 266.8 L800.5 267.06 L800.8 267.28 L801.1 267.57 L801.4 267.81 L801.7 268.06 L802 268.35 L802.3 268.63 L802.6 268.84 L802.9 269.06 L803.2 269.24 L803.5 269.47 L803.8 269.74 L804.1 269.99 L804.4 270.23 L804.7 270.39 L805 270.69 L805.3 270.95 L805.6 271.14 L805.9 271.42 L806.2 271.72 L806.5 271.96 L806.8 272.21 L807.1 272.39 L807.4 272.68 L807.7 273.05 L808 273.32 L808.3 273.56 L808.6 273.82 L808.9 274.12 L809.2 274.44 L809.5 274.68 L809.8 274.98 L810.1 275.18 L810.4 275.51 L810.7 275.68 L811 276.04 L811.3 276.2 L811.6 276.41 L811.9 276.77 L812.2 276.95 L812.5 277.22 L812.8 277.43 L813.1 277.69 L813.4 277.97 L813.7 278.24 L814 278.55 L814.3 278.8 L814.6 279.11 L814.9 279.34 L815.2 279.66 L815.5 279.93 L815.8 280.22 L816.1 280.44 L816.4 280.61 L816.7 280.89 L817 281.18 L817.3 281.42 L817.6 281.56 L817.9 281.8 L818.2 282.1 L818.5 282.42 L818.8 282.71 L819.1 283.05 L819.4 283.4 L819.7 283.78 L820 283.98 L820.3 284.29 L820.6 284.52 L820.9 284.68 L821.2 284.99 L821.5 285.12 L821.8 285.39 L822.1 285.59 L822.4 285.85 L822.7 286.07 L823 286.37 L823.3 286.65 L823.6 286.86 L823.9 287.14 L824.2 287.49 L824.5 287.66 L824.8 287.98 L825.1 288.28 L825.4 288.57 L825.7 288.78 L826 289.09 L826.3 289.32 L826.6 289.63 L826.9 289.84 L827.2 290.08 L827.5 290.24 L827.8 290.41 L828.1 290.82 L828.4 291.01 L828.7 291.32 L829 291.59 L829.3 291.94 L829.6 292.27 L829.9 292.58 L830.2 292.8 L830.5 293.02 L830.5 293.13 L830.8 289.18 L831.1 285.34 L831.2 284.04 L831.4 284.19 L831.7 284.23 L832 284.38 L832.3 284.44 L832.6 284.53 L832.9 284.74 L833.2 284.84 L833.5 285.03 L833.8 285.29 L834.1 285.42 L834.4 285.57 L834.7 285.78 L835 285.98 L835.3 286.15 L835.6 286.3 L835.9 286.48 L836.2 286.56 L836.5 286.72 L836.8 286.9 L837.1 287.04 L837.4 287.05 L837.5 287.12 L837.7 284.69 L838 281.06 L838.3 277.41 L838.5 274.98 L838.6 275.07 L838.9 275.22 L839.2 275.46 L839.5 275.53 L839.8 275.83 L840.1 275.89 L840.4 276.15 L840.7 276.33 L841 276.64 L841.3 276.86 L841.6 277.12 L841.9 277.44 L842.2 277.66 L842.5 277.9 L842.8 278.13 L843.1 278.28 L843.4 278.58 L843.7 278.74 L844 278.94 L844.3 279.15 L844.6 279.36 L844.9 279.45 L845.2 279.64 L845.5 279.81 L845.8 280.08 L846.1 280.17 L846.4 280.36 L846.7 280.45 L847 280.71 L847.3 280.83 L847.5 281.06 L847.6 278.61 L847.9 271.63 L848.2 264.48 L848.2 264.51 L848.5 264.85 L848.8 265.13 L849.1 265.5 L849.4 265.76 L849.7 266.2 L850 266.48 L850.3 266.78 L850.6 267.08 L850.9 267.37 L851.2 267.63 L851.5 267.94 L851.8 268.27 L852.1 268.6 L852.4 269.01 L852.7 269.33 L853 269.68 L853.3 269.94 L853.6 270.29 L853.9 270.54 L854.2 270.82 L854.5 271.11 L854.8 271.42 L855.1 271.67 L855.4 271.93 L855.7 272.19 L856 272.54 L856.3 272.72 L856.6 273.05 L856.9 273.4 L857.2 273.68 L857.5 274.07 L857.8 274.4 L858.1 274.71 L858.4 275.06 L858.7 275.36 L859 275.73 L859.3 276.08 L859.6 276.47 L859.9 276.86 L860.2 277.16 L860.5 277.51 L860.8 277.76 L861.1 278.11 L861.4 278.39 L861.7 278.68 L862 279.06 L862.3 279.3 L862.6 279.64 L862.9 279.91 L863.2 280.23 L863.5 280.42 L863.8 280.65 L864.1 280.98 L864.4 281.22 L864.5 281.32 L864.7 273.66 L865 262.41 L865 262.32 L865.3 262.67 L865.6 262.91 L865.9 263.13 L866.2 263.3 L866.5 263.61 L866.8 263.92 L867.1 264.14 L867.4 264.4 L867.7 264.58 L868 264.79 L868.3 265.05 L868.5 265.16 L868.6 265 L868.9 264.48 L869.2 264.02 L869.5 263.66 L869.5 263.59 L869.8 263.99 L870.1 264.2 L870.4 264.57 L870.7 264.9 L871 265.23 L871.3 265.46 L871.6 265.67 L871.9 265.89 L872.2 266 L872.5 266.22 L872.8 266.48 L873.1 266.75 L873.4 267.09 L873.7 267.33 L874 267.62 L874.3 267.87 L874.6 268.1 L874.9 268.29 L875.2 268.62 L875.5 268.84 L875.8 269.08 L876.1 269.33 L876.4 269.49 L876.7 269.72 L877 269.95 L877.3 270.16 L877.6 270.45 L877.9 270.76 L878.2 271.05 L878.5 271.29 L878.8 271.65 L879.1 271.83 L879.4 272.04 L879.7 272.26 L880 272.51 L880 272.43 L880.3 272.8 L880.6 273.06 L880.9 273.44 L881.2 273.76 L881.5 274.22 L881.8 274.54 L882.1 274.84 L882.4 275.28 L882.7 275.58 L883 275.96 L883.3 276.28 L883.6 276.66 L883.9 277 L884.2 277.34 L884.5 277.72 L884.8 278 L885.1 278.47 L885.4 278.83 L885.5 278.98 L885.7 278.7 L886 278.3 L886.3 277.94 L886.6 277.53 L886.9 277.13 L887 277.07 L887.2 277.17 L887.5 277.36 L887.8 277.6 L888.1 277.88 L888.4 278.13 L888.7 278.39 L889 278.58 L889.3 278.9 L889.6 279.21 L889.9 279.43 L890.2 279.68 L890.5 279.91 L890.8 280.21 L891.1 280.36 L891.4 280.7 L891.7 280.95 L892 281.15 L892.3 281.42 L892.6 281.62 L892.9 281.86 L893.2 282.15 L893.5 282.41 L893.8 282.73 L894.1 283 L894.4 283.37 L894.7 283.57 L895 283.95 L895 283.92 L895.3 277.26 L895.6 270.73 L895.9 264.07 L896 261.8 L896.2 262.48 L896.5 263.27 L896.8 264.23 L897.1 265.17 L897.4 266.11 L897.5 266.42 L897.7 266.6 L898 266.84 L898.3 267.02 L898.6 267.34 L898.9 267.6 L899.2 267.82 L899.5 268.13 L899.8 268.44 L900.1 268.59 L900.4 268.78 L900.7 268.98 L901 269.19 L901.3 269.4 L901.6 269.61 L901.9 269.74 L902.2 269.94 L902.5 270.14 L902.8 270.41 L903.1 270.64 L903.4 270.83 L903.7 271.15 L904 271.38 L904.3 271.69 L904.5 271.82 L904.6 270.68 L904.9 267.04 L905 265.82 L905.2 266.11 L905.5 266.38 L905.8 266.78 L906.1 267.09 L906.4 267.39 L906.7 267.73 L907 268.11 L907.3 268.35 L907.6 268.64 L907.9 269.06 L908.2 269.26 L908.5 269.58 L908.8 269.91 L909.1 270.25 L909.4 270.57 L909.5 270.6 L909.7 268.51 L910 265.48 L910.3 262.28 L910.3 262.32 L910.6 262.59 L910.9 262.9 L911.2 263.27 L911.5 263.46 L911.8 263.74 L912.1 264.02 L912.4 264.29 L912.7 264.54 L913 264.83 L913.3 265.08 L913.6 265.4 L913.9 265.69 L914.2 265.93 L914.5 266.14 L914.8 266.47 L915.1 266.76 L915.4 266.95 L915.7 267.26 L916 267.59 L916.3 267.83 L916.6 268.05 L916.9 268.29 L917.2 268.54 L917.5 268.8 L917.8 269.1 L918.1 269.42 L918.4 269.7 L918.7 269.95 L919 270.26 L919.3 270.56 L919.6 270.91 L919.9 271.22 L920.2 271.52 L920.5 271.76 L920.8 272.09 L921.1 272.34 L921.4 272.55 L921.7 272.83 L922 273.18 L922.3 273.47 L922.6 273.74 L922.9 273.99 L923.2 274.28 L923.5 274.57 L923.8 274.85 L924.1 275.09 L924.4 275.44 L924.7 275.73 L925 276.05 L925.3 276.35 L925.6 276.57 L925.9 276.9 L926.2 277.1 L926.5 277.38 L926.8 277.52 L927.1 277.77 L927.4 278.04 L927.7 278.41 L928 278.63 L928.3 278.94 L928.6 279.12 L928.9 279.49 L929.2 279.69 L929.5 280.08 L929.8 280.31 L930.1 280.65 L930.4 280.92 L930.7 281.23 L931 281.49 L931.3 281.87 L931.5 282.09 L931.6 279.8 L931.9 272.97 L932.2 266.09 L932.2 266.07 L932.5 266.38 L932.8 266.68 L933.1 266.99 L933.4 267.33 L933.7 267.73 L934 268.1 L934.3 268.41 L934.6 268.81 L934.9 269.24 L935.2 269.6 L935.5 269.99 L935.8 270.35 L936.1 270.69 L936.4 271 L936.7 271.37 L937 271.74 L937.3 272 L937.6 272.37 L937.9 272.68 L938.2 273.11 L938.5 273.58 L938.5 273.46 L938.8 270.34 L939.1 267.21 L939.2 266.24 L939.4 266.4 L939.7 266.69 L940 266.95 L940.3 267.14 L940.6 267.33 L940.9 267.57 L941.2 267.78 L941.5 267.96 L941.8 268.28 L942.1 268.5 L942.4 268.9 L942.7 269.08 L943 269.42 L943.3 269.69 L943.6 269.81 L943.9 270.02 L944.2 270.28 L944.5 270.46 L944.8 270.69 L945.1 271.01 L945.4 271.33 L945.7 271.59 L946 271.82 L946.3 272.12 L946.6 272.33 L946.9 272.41 L947.2 272.65 L947.5 272.81 L947.8 273.01 L948 273.12 L948.1 272.99 L948.4 272.57 L948.7 272.21 L949 271.72 L949 271.72 L949.3 272.02 L949.6 272.17 L949.9 272.41 L950.2 272.66 L950.5 272.86 L950.8 273.11 L951.1 273.34 L951.4 273.55 L951.7 273.82 L952 274.17 L952.3 274.4 L952.6 274.63 L952.9 274.81 L953 274.92 L953.2 274.85 L953.5 274.58 L953.8 274.5 L954 274.25 L954.1 274.48 L954.4 275.01 L954.7 275.53 L955 276.03 L955.3 276.57 L955.6 277.14 L955.9 277.7 L956.2 278.13 L956.5 278.6 L956.8 279.09 L957.1 279.65 L957.4 280.04 L957.7 280.53 L958 281.12 L958.3 281.53 L958.6 282.12 L958.9 282.6 L959.2 283.19 L959.5 283.69 L959.8 284.33 L960.1 284.81 L960.4 285.48 L960.5 285.61 L960.7 269.85 L961 246.19 L961 246.17 L961.3 246.5 L961.6 246.85 L961.9 247.26 L962.2 247.59 L962.5 247.93 L962.8 248.32 L963.1 248.75 L963.4 249.03 L963.7 249.43 L964 249.86 L964.3 250.23 L964.6 250.6 L964.9 250.95 L965.2 251.32 L965.5 251.74 L965.8 252.14 L966.1 252.44 L966.4 252.88 L966.7 253.2 L967 253.54 L967.3 253.89 L967.6 254.14 L967.9 254.53 L968.2 254.77 L968.5 255.04 L968.8 255.52 L969.1 255.85 L969.4 256.28 L969.7 256.57 L970 256.97 L970.3 257.39 L970.6 257.82 L970.9 258.1 L971.2 258.54 L971.5 258.94 L971.8 259.28 L972.1 259.7 L972.4 260.17 L972.7 260.53 L973 260.96 L973.3 261.37 L973.6 261.73 L973.9 261.96 L974.2 262.29 L974.5 262.55 L974.8 262.86 L975.1 263.26 L975.4 263.7 L975.7 264.05 L976 264.53 L976.3 264.93 L976.6 265.37 L976.9 265.65 L977 265.76 L977.2 264.88 L977.5 263.63 L977.8 262.28 L978.1 261.1 L978.2 260.59 L978.4 260.9 L978.7 261.27 L979 261.64 L979.3 262.1 L979.6 262.48 L979.9 262.85 L980.2 263.16 L980.5 263.59 L980.8 264 L981.1 264.32 L981.4 264.78 L981.7 265.19 L982 265.6 L982.3 265.94 L982.6 266.28 L982.9 266.69 L983.2 267.18 L983.5 267.51 L983.8 267.98 L984.1 268.4 L984.4 268.79 L984.7 269.24 L985 269.53 L985.3 269.97 L985.6 270.32 L985.9 270.75 L986.2 271.07 L986.5 271.39 L986.8 271.74 L986.8 271.77 L987.1 266.54 L987.4 261.47 L987.5 259.72 L987.7 259.95 L988 260.46 L988.3 261 L988.6 261.46 L988.9 261.93 L989.2 262.47 L989.5 262.94 L989.8 263.31 L990.1 263.63 L990.4 263.99 L990.7 264.41 L991 264.8 L991.3 265.3 L991.6 265.66 L991.9 266.2 L992.2 266.56 L992.5 267.04 L992.8 267.52 L993 267.9 L993.1 267.39 L993.4 265.72 L993.7 264.19 L994 262.67 L994.3 261.08 L994.5 260.09 L994.6 260.21 L994.9 260.65 L995.2 261.15 L995.5 261.63 L995.8 262.12 L996.1 262.64 L996.4 263.11 L996.7 263.67 L997 264.22 L997.3 264.68 L997.6 265.16 L997.9 265.55 L998.2 265.95 L998.5 266.35 L998.8 266.75 L999.1 267.24 L999.4 267.79 L999.7 268.36 L1000 268.91 L1000.3 269.47 L1000.6 270.02 L1000.9 270.43 L1001.2 270.86 L1001.5 271.3 L1001.8 271.75 L1002.1 272.2 L1002.4 272.62 L1002.7 273.21 L1003 273.65 L1003.3 274.15 L1003.5 274.59 L1003.6 270.47 L1003.9 258.35 L1004.2 245.99 L1004.2 245.99 L1004.5 246.58 L1004.8 247.1 L1005.1 247.54 L1005.4 248.18 L1005.7 248.74 L1006 249.45 L1006.3 250.14 L1006.6 250.78 L1006.9 251.39 L1007.2 252.05 L1007.5 252.6 L1007.8 253.13 L1008 253.6 L1008.1 252.74 L1008.4 250.25 L1008.7 247.81 L1009 245.32 L1009 245.37 L1009.3 246.01 L1009.6 246.61 L1009.9 247.29 L1010.2 247.93 L1010.5 248.69 L1010.8 249.29 L1011.1 250.02 L1011.4 250.71 L1011.7 251.39 L1012 252.03 L1012.3 252.68 L1012.6 253.32 L1012.9 254 L1013 254.29 L1013.2 250 L1013.5 243.68 L1013.8 237.31 L1014 233.06 L1014.1 233.1 L1014.4 233.19 L1014.7 233.16 L1015 233.18 L1015.3 233.22 L1015.6 233.21 L1015.9 233.22 L1016.2 233.25 L1016.5 233.32 L1016.5 233.24 L1016.8 234.12 L1017.1 235.07 L1017.4 235.9 L1017.7 236.78 L1018 237.68 L1018.3 238.61 L1018.6 239.47 L1018.9 240.33 L1019.2 241.13 L1019.5 242.04 L1019.8 242.82 L1020.1 243.74 L1020.4 244.62 L1020.7 245.49 L1021 246.41 L1021.3 247.27 L1021.6 248.12 L1021.9 249.01 L1022.2 249.87 L1022.5 250.69 L1022.8 251.57 L1023.1 252.45 L1023.4 253.39 L1023.7 254.26 L1024 255.11 L1024.3 256.04 L1024.6 256.85 L1024.9 257.73 L1025 258 L1025.2 258.84 L1025.5 260.1 L1025.8 261.32 L1026.1 262.49 L1026.4 263.75 L1026.7 265.05 L1027 266.26 L1027.1 266.72 L1027.3 267.46 L1027.6 268.6 L1027.9 269.73 L1028.2 270.84 L1028.5 271.94 L1028.8 273.1 L1029.1 274.21 L1029.4 275.35 L1029.7 276.43 L1030 277.57 L1030.3 278.72 L1030.6 279.86 L1030.9 280.96 L1031.2 282.07 L1031.25 282.2 L1031.5 283.29 L1031.8 284.64 L1032.1 285.97 L1032.4 287.24 L1032.7 288.55 L1033 289.86 L1033.3 291.18 L1033.6 292.48 L1033.9 293.78 L1034.2 295.12 L1034.2 295.07 L1034.5 296.84 L1034.8 298.54 L1035.1 300.33 L1035.4 302.22 L1035.7 304.12 L1036 305.99 L1036.3 307.92 L1036.6 309.81 L1036.9 311.7 L1037.2 313.62 L1037.5 315.51 L1037.8 317.44 L1038.1 319.32 L1038.3 320.6 L1038.4 321.13 L1038.7 322.69 L1039 324.28 L1039.3 325.66 L1039.6 327.05 L1039.9 328.48 L1040.2 329.86 L1040.5 331.26 L1040.8 332.67 L1041.1 334.05 L1041.4 335.41 L1041.7 336.84 L1042 338.24 L1042.3 339.64 L1042.6 341.14 L1042.9 342.78 L1043.2 344.45 L1043.5 346.09 L1043.75 347.48 L1043.8 347.81 L1044.1 349.96 L1044.4 352.14 L1044.7 354.33 L1045 356.49 L1045.3 358.65 L1045.6 360.79 L1045.9 362.94 L1046.2 365.09 L1046.5 367.27 L1046.8 369.43 L1047.1 371.62 L1047.4 373.75 L1047.7 375.91 L1047.9 377.34 L1048 378.04 L1048.3 380.26 L1048.6 382.48 L1048.9 384.68 L1049.2 386.89 L1049.5 389.06 L1049.8 391.3 L1050.1 393.55 L1050.4 395.79 L1050.7 398 L1051 400.29 L1051.3 402.53 L1051.6 404.77 L1051.9 406.98 L1052.2 409.28 L1052.5 411.51 L1052.5 411.48 L1052.8 413.33 L1053.1 415.13 L1053.4 416.95 L1053.7 418.81 L1054 420.64 L1054.3 422.29 L1054.6 423.93 L1054.9 425.6 L1055.2 427.25 L1055.5 428.92 L1055.8 430.57 L1056.1 432.26 L1056.4 433.93 L1056.7 435.58 L1056.7 435.58 L1057 437.25 L1057.3 438.99 L1057.6 440.66 L1057.9 442.33 L1058.2 444.04 L1058.5 445.73 L1058.8 447.45 L1059.1 449.14 L1059.4 450.79 L1059.7 452.52 L1060 454.17 L1060 454.2 L1060.3 455.6 L1060.6 456.94 L1060.9 458.35 L1061.2 459.71 L1061.5 461.07 L1061.8 462.5 L1062.1 463.87 L1062.4 465.22 L1062.7 466.6 L1063 467.98 L1063.3 469.39 L1063.6 470.78 L1063.9 472.13 L1064.2 473.48 L1064.2 473.48 L1064.5 474.22 L1064.8 474.97 L1065.1 475.66 L1065.4 476.41 L1065.7 477.1 L1066 477.84 L1066.3 478.58 L1066.6 479.3 L1066.7 479.51 L1066.9 480.03 L1067.2 480.8 L1067.5 481.57 L1067.8 482.35 L1068.1 483.14 L1068.4 483.87 L1068.7 484.65 L1069 485.43 L1069.3 486.22 L1069.6 486.99 L1069.9 487.72 L1070 488 L1070.2 488.7 L1070.5 489.73 L1070.8 490.79 L1071.1 491.78 L1071.4 492.85 L1071.7 493.9 L1071.7 493.91 L1072 494.28 L1072.3 494.75 L1072.6 495.15 L1072.9 495.6 L1073.2 496.01 L1073.5 496.45 L1073.8 496.84 L1074.1 497.31 L1074.4 497.7 L1074.7 498.15 L1075 498.55 L1075.3 498.96 L1075.6 499.4 L1075.9 499.84 L1076.2 500.28 L1076.5 500.68 L1076.8 501.1 L1077.1 501.56 L1077.4 501.97 L1077.7 502.38 L1078 502.82 L1078.3 503.22 L1078.6 503.66 L1078.8 503.93 L1078.8 507.05 L1078.6 506.8 L1078.3 506.39 L1078 506.02 L1077.7 505.61 L1077.4 505.23 L1077.1 504.85 L1076.8 504.42 L1076.5 504.03 L1076.2 503.66 L1075.9 503.25 L1075.6 502.84 L1075.3 502.43 L1075 502.05 L1074.7 501.68 L1074.4 501.26 L1074.1 500.9 L1073.8 500.46 L1073.5 500.1 L1073.2 499.69 L1072.9 499.31 L1072.6 498.89 L1072.3 498.52 L1072 498.08 L1071.7 497.74 L1071.7 497.73 L1071.4 496.71 L1071.1 495.67 L1070.8 494.71 L1070.5 493.68 L1070.2 492.68 L1070 492 L1069.9 491.73 L1069.6 491.03 L1069.3 490.29 L1069 489.53 L1068.7 488.78 L1068.4 488.03 L1068.1 487.33 L1067.8 486.57 L1067.5 485.82 L1067.2 485.08 L1066.9 484.34 L1066.7 483.84 L1066.6 483.64 L1066.3 482.95 L1066 482.24 L1065.7 481.53 L1065.4 480.87 L1065.1 480.15 L1064.8 479.49 L1064.5 478.77 L1064.2 478.06 L1064.2 478.06 L1063.9 476.74 L1063.6 475.42 L1063.3 474.06 L1063 472.68 L1062.7 471.33 L1062.4 469.98 L1062.1 468.66 L1061.8 467.32 L1061.5 465.92 L1061.2 464.59 L1060.9 463.26 L1060.6 461.88 L1060.3 460.57 L1060 459.2 L1060 459.17 L1059.7 457.87 L1059.4 456.49 L1059.1 455.19 L1058.8 453.85 L1058.5 452.48 L1058.2 451.14 L1057.9 449.78 L1057.6 448.46 L1057.3 447.14 L1057 445.75 L1056.7 444.43 L1056.7 444.43 L1056.4 443.13 L1056.1 441.81 L1055.8 440.47 L1055.5 439.17 L1055.2 437.85 L1054.9 436.55 L1054.6 435.23 L1054.3 433.94 L1054 432.64 L1053.7 431.5 L1053.4 430.31 L1053.1 429.17 L1052.8 428.05 L1052.5 426.89 L1052.5 426.92 L1052.2 425.37 L1051.9 423.76 L1051.6 422.22 L1051.3 420.67 L1051 419.11 L1050.7 417.5 L1050.4 415.98 L1050.1 414.41 L1049.8 412.84 L1049.5 411.25 L1049.2 409.67 L1048.9 408.04 L1048.6 406.43 L1048.3 404.79 L1048 403.17 L1047.9 402.66 L1047.7 401.61 L1047.4 400.04 L1047.1 398.49 L1046.8 396.89 L1046.5 395.32 L1046.2 393.72 L1045.9 392.16 L1045.6 390.6 L1045.3 389.05 L1045 387.49 L1044.7 385.93 L1044.4 384.34 L1044.1 382.76 L1043.8 381.21 L1043.75 380.98 L1043.5 380.09 L1043.2 379.05 L1042.9 377.98 L1042.6 376.94 L1042.3 375.7 L1042 374.38 L1041.7 373.07 L1041.4 371.72 L1041.1 370.45 L1040.8 369.16 L1040.5 367.83 L1040.2 366.52 L1039.9 365.22 L1039.6 363.88 L1039.3 362.58 L1039 361.28 L1038.7 360.14 L1038.4 359.03 L1038.3 358.65 L1038.1 357.67 L1037.8 356.24 L1037.5 354.76 L1037.2 353.32 L1036.9 351.85 L1036.6 350.41 L1036.3 348.97 L1036 347.49 L1035.7 346.07 L1035.4 344.62 L1035.1 343.18 L1034.8 341.59 L1034.5 339.96 L1034.2 338.27 L1034.2 338.32 L1033.9 337.06 L1033.6 335.83 L1033.3 334.6 L1033 333.36 L1032.7 332.12 L1032.4 330.89 L1032.1 329.69 L1031.8 328.44 L1031.5 327.17 L1031.25 326.14 L1031.2 326.02 L1030.9 325.03 L1030.6 324.13 L1030.3 323.19 L1030 322.24 L1029.7 321.3 L1029.4 320.41 L1029.1 319.48 L1028.8 318.57 L1028.5 317.6 L1028.2 316.71 L1027.9 315.79 L1027.6 314.86 L1027.3 313.93 L1027.1 313.32 L1027 312.93 L1026.7 311.91 L1026.4 310.82 L1026.1 309.76 L1025.8 308.78 L1025.5 307.76 L1025.2 306.71 L1025 306 L1024.9 305.75 L1024.6 304.93 L1024.3 304.17 L1024 303.29 L1023.7 302.5 L1023.4 301.68 L1023.1 300.8 L1022.8 299.97 L1022.5 299.14 L1022.2 298.38 L1021.9 297.57 L1021.6 296.74 L1021.3 295.94 L1021 295.14 L1020.7 294.27 L1020.4 293.46 L1020.1 292.63 L1019.8 291.77 L1019.5 291.04 L1019.2 290.18 L1018.9 289.44 L1018.6 288.64 L1018.3 287.83 L1018 286.95 L1017.7 286.11 L1017.4 285.28 L1017.1 284.51 L1016.8 283.61 L1016.5 282.79 L1016.5 282.87 L1016.2 282.85 L1015.9 282.87 L1015.6 282.92 L1015.3 282.98 L1015 283 L1014.7 283.03 L1014.4 283.12 L1014.1 283.09 L1014 283.06 L1013.8 287.25 L1013.5 293.53 L1013.2 299.76 L1013 303.99 L1012.9 303.67 L1012.6 302.9 L1012.3 302.17 L1012 301.43 L1011.7 300.7 L1011.4 299.93 L1011.1 299.15 L1010.8 298.33 L1010.5 297.64 L1010.2 296.79 L1009.9 296.06 L1009.6 295.29 L1009.3 294.6 L1009 293.87 L1009 293.82 L1008.7 296.22 L1008.4 298.57 L1008.1 300.97 L1008 301.8 L1007.8 301.27 L1007.5 300.65 L1007.2 300.01 L1006.9 299.26 L1006.6 298.56 L1006.3 297.83 L1006 297.05 L1005.7 296.25 L1005.4 295.6 L1005.1 294.87 L1004.8 294.34 L1004.5 293.73 L1004.2 293.05 L1004.2 293.05 L1003.9 305.36 L1003.6 317.51 L1003.5 321.64 L1003.3 321.22 L1003 320.75 L1002.7 320.34 L1002.4 319.77 L1002.1 319.38 L1001.8 318.96 L1001.5 318.54 L1001.2 318.12 L1000.9 317.72 L1000.6 317.33 L1000.3 316.81 L1000 316.29 L999.7 315.76 L999.4 315.21 L999.1 314.69 L998.8 314.23 L998.5 313.86 L998.2 313.49 L997.9 313.11 L997.6 312.75 L997.3 312.31 L997 311.87 L996.7 311.35 L996.4 310.82 L996.1 310.38 L995.8 309.88 L995.5 309.42 L995.2 308.97 L994.9 308.49 L994.6 308.08 L994.5 307.98 L994.3 308.98 L994 310.6 L993.7 312.15 L993.4 313.71 L993.1 315.4 L993 315.93 L992.8 315.56 L992.5 315.11 L992.2 314.65 L991.9 314.33 L991.6 313.81 L991.3 313.48 L991 313.01 L990.7 312.64 L990.4 312.25 L990.1 311.93 L989.8 311.63 L989.5 311.29 L989.2 310.85 L988.9 310.34 L988.6 309.89 L988.3 309.46 L988 308.94 L987.7 308.47 L987.5 308.25 L987.4 310.01 L987.1 315.11 L986.8 320.37 L986.8 320.34 L986.5 320.01 L986.2 319.73 L985.9 319.44 L985.6 319.03 L985.3 318.71 L985 318.3 L984.7 318.03 L984.4 317.62 L984.1 317.25 L983.8 316.86 L983.5 316.42 L983.2 316.11 L982.9 315.66 L982.6 315.27 L982.3 314.96 L982 314.64 L981.7 314.26 L981.4 313.88 L981.1 313.45 L980.8 313.16 L980.5 312.78 L980.2 312.38 L979.9 312.09 L979.6 311.75 L979.3 311.4 L979 310.97 L978.7 310.62 L978.4 310.28 L978.2 309.99 L978.1 310.51 L977.8 311.72 L977.5 313.09 L977.2 314.37 L977 315.27 L976.9 315.17 L976.6 314.92 L976.3 314.5 L976 314.13 L975.7 313.68 L975.4 313.36 L975.1 312.95 L974.8 312.58 L974.5 312.29 L974.2 312.06 L973.9 311.76 L973.6 311.56 L973.3 311.23 L973 310.84 L972.7 310.44 L972.4 310.11 L972.1 309.66 L971.8 309.27 L971.5 308.97 L971.2 308.59 L970.9 308.18 L970.6 307.93 L970.3 307.52 L970 307.13 L969.7 306.76 L969.4 306.5 L969.1 306.09 L968.8 305.79 L968.5 305.34 L968.2 305.1 L967.9 304.89 L967.6 304.53 L967.3 304.3 L967 303.99 L966.7 303.67 L966.4 303.38 L966.1 302.97 L965.8 302.69 L965.5 302.32 L965.2 301.93 L964.9 301.59 L964.6 301.26 L964.3 300.93 L964 300.58 L963.7 300.18 L963.4 299.8 L963.1 299.55 L962.8 299.16 L962.5 298.79 L962.2 298.48 L961.9 298.18 L961.6 297.79 L961.3 297.48 L961 297.17 L961 297.19 L960.7 320.86 L960.5 336.63 L960.4 336.49 L960.1 335.84 L959.8 335.37 L959.5 334.74 L959.2 334.25 L958.9 333.66 L958.6 333.2 L958.3 332.61 L958 332.22 L957.7 331.63 L957.4 331.15 L957.1 330.77 L956.8 330.22 L956.5 329.74 L956.2 329.27 L955.9 328.86 L955.6 328.31 L955.3 327.75 L955 327.21 L954.7 326.72 L954.4 326.21 L954.1 325.69 L954 325.47 L953.8 325.72 L953.5 325.81 L953.2 326.09 L953 326.16 L952.9 326.06 L952.6 325.89 L952.3 325.66 L952 325.45 L951.7 325.11 L951.4 324.85 L951.1 324.65 L950.8 324.42 L950.5 324.18 L950.2 323.99 L949.9 323.75 L949.6 323.52 L949.3 323.38 L949 323.09 L949 323.09 L948.7 323.59 L948.4 323.96 L948.1 324.38 L948 324.52 L947.8 324.41 L947.5 324.22 L947.2 324.07 L946.9 323.85 L946.6 323.77 L946.3 323.57 L946 323.28 L945.7 323.06 L945.4 322.81 L945.1 322.5 L944.8 322.19 L944.5 321.97 L944.2 321.8 L943.9 321.54 L943.6 321.35 L943.3 321.23 L943 320.98 L942.7 320.64 L942.4 320.47 L942.1 320.08 L941.8 319.87 L941.5 319.56 L941.2 319.39 L940.9 319.19 L940.6 318.96 L940.3 318.77 L940 318.6 L939.7 318.35 L939.4 318.07 L939.2 317.91 L939.1 318.89 L938.8 322.03 L938.5 325.16 L938.5 325.27 L938.2 324.81 L937.9 324.39 L937.6 324.09 L937.3 323.73 L937 323.47 L936.7 323.12 L936.4 322.76 L936.1 322.46 L935.8 322.13 L935.5 321.78 L935.2 321.39 L934.9 321.04 L934.6 320.62 L934.3 320.23 L934 319.93 L933.7 319.57 L933.4 319.18 L933.1 318.84 L932.8 318.55 L932.5 318.26 L932.2 317.96 L932.2 317.98 L931.9 324.86 L931.6 331.71 L931.5 334 L931.3 333.78 L931 333.42 L930.7 333.16 L930.4 332.86 L930.1 332.61 L929.8 332.27 L929.5 332.05 L929.2 331.67 L928.9 331.48 L928.6 331.12 L928.3 330.94 L928 330.65 L927.7 330.43 L927.4 330.08 L927.1 329.81 L926.8 329.57 L926.5 329.45 L926.2 329.17 L925.9 328.98 L925.6 328.66 L925.3 328.45 L925 328.16 L924.7 327.84 L924.4 327.56 L924.1 327.22 L923.8 327 L923.5 326.72 L923.2 326.45 L922.9 326.17 L922.6 325.92 L922.3 325.66 L922 325.38 L921.7 325.04 L921.4 324.77 L921.1 324.57 L920.8 324.33 L920.5 324.01 L920.2 323.78 L919.9 323.48 L919.6 323.18 L919.3 322.84 L919 322.56 L918.7 322.25 L918.4 322.01 L918.1 321.74 L917.8 321.43 L917.5 321.14 L917.2 320.89 L916.9 320.65 L916.6 320.42 L916.3 320.21 L916 319.97 L915.7 319.65 L915.4 319.36 L915.1 319.17 L914.8 318.9 L914.5 318.57 L914.2 318.37 L913.9 318.14 L913.6 317.86 L913.3 317.55 L913 317.3 L912.7 317.03 L912.4 316.79 L912.1 316.53 L911.8 316.25 L911.5 315.98 L911.2 315.8 L910.9 315.45 L910.6 315.14 L910.3 314.88 L910.3 314.84 L910 318.05 L909.7 321.09 L909.5 323.18 L909.4 323.16 L909.1 322.84 L908.8 322.51 L908.5 322.19 L908.2 321.89 L907.9 321.7 L907.6 321.29 L907.3 321 L907 320.77 L906.7 320.4 L906.4 320.07 L906.1 319.78 L905.8 319.48 L905.5 319.09 L905.2 318.82 L905 318.54 L904.9 319.77 L904.6 323.41 L904.5 324.56 L904.3 324.44 L904 324.13 L903.7 323.92 L903.4 323.6 L903.1 323.42 L902.8 323.2 L902.5 322.94 L902.2 322.75 L901.9 322.56 L901.6 322.44 L901.3 322.24 L901 322.03 L900.7 321.84 L900.4 321.64 L900.1 321.46 L899.8 321.32 L899.5 321.02 L899.2 320.72 L898.9 320.51 L898.6 320.26 L898.3 319.95 L898 319.78 L897.7 319.55 L897.5 319.38 L897.4 319.07 L897.1 318.14 L896.8 317.2 L896.5 316.26 L896.2 315.48 L896 314.8 L895.9 317.08 L895.6 323.78 L895.3 330.35 L895 337.04 L895 337.08 L894.7 336.74 L894.4 336.58 L894.1 336.25 L893.8 336.02 L893.5 335.74 L893.2 335.51 L892.9 335.26 L892.6 335.06 L892.3 334.9 L892 334.67 L891.7 334.5 L891.4 334.29 L891.1 333.99 L890.8 333.88 L890.5 333.62 L890.2 333.43 L889.9 333.22 L889.6 333.03 L889.3 332.76 L889 332.49 L888.7 332.34 L888.4 332.11 L888.1 331.9 L887.8 331.65 L887.5 331.46 L887.2 331.31 L887 331.23 L886.9 331.31 L886.6 331.74 L886.3 332.19 L886 332.59 L885.7 333.03 L885.5 333.33 L885.4 333.2 L885.1 332.88 L884.8 332.45 L884.5 332.21 L884.2 331.86 L883.9 331.56 L883.6 331.26 L883.3 330.92 L883 330.64 L882.7 330.29 L882.4 330.04 L882.1 329.63 L881.8 329.38 L881.5 329.09 L881.2 328.67 L880.9 328.39 L880.6 328.05 L880.3 327.83 L880 327.5 L880 327.57 L879.7 327.36 L879.4 327.18 L879.1 327.01 L878.8 326.87 L878.5 326.55 L878.2 326.35 L877.9 326.1 L877.6 325.83 L877.3 325.58 L877 325.4 L876.7 325.21 L876.4 325.02 L876.1 324.9 L875.8 324.69 L875.5 324.49 L875.2 324.3 L874.9 324.01 L874.6 323.86 L874.3 323.67 L874 323.46 L873.7 323.21 L873.4 323.01 L873.1 322.71 L872.8 322.47 L872.5 322.25 L872.2 322.07 L871.9 322 L871.6 321.81 L871.3 321.64 L871 321.45 L870.7 321.17 L870.4 320.87 L870.1 320.54 L869.8 320.37 L869.5 320.01 L869.5 320.08 L869.2 320.48 L868.9 320.98 L868.6 321.54 L868.5 321.71 L868.3 321.63 L868 321.4 L867.7 321.23 L867.4 321.09 L867.1 320.87 L866.8 320.68 L866.5 320.41 L866.2 320.15 L865.9 320.01 L865.6 319.83 L865.3 319.63 L865 319.32 L865 319.41 L864.7 330.77 L864.5 338.5 L864.4 338.43 L864.1 338.3 L863.8 338.08 L863.5 337.95 L863.2 337.87 L862.9 337.66 L862.6 337.49 L862.3 337.26 L862 337.13 L861.7 336.86 L861.4 336.67 L861.1 336.51 L860.8 336.26 L860.5 336.12 L860.2 335.87 L859.9 335.68 L859.6 335.4 L859.3 335.12 L859 334.87 L858.7 334.61 L858.4 334.42 L858.1 334.18 L857.8 333.98 L857.5 333.74 L857.2 333.47 L856.9 333.29 L856.6 333.05 L856.3 332.83 L856 332.75 L855.7 332.51 L855.4 332.36 L855.1 332.21 L854.8 332.06 L854.5 331.86 L854.2 331.67 L853.9 331.5 L853.6 331.36 L853.3 331.12 L853 330.97 L852.7 330.72 L852.4 330.51 L852.1 330.21 L851.8 329.99 L851.5 329.76 L851.2 329.55 L850.9 329.41 L850.6 329.22 L850.3 329.03 L850 328.84 L849.7 328.66 L849.4 328.34 L849.1 328.17 L848.8 327.92 L848.5 327.74 L848.2 327.51 L848.2 327.48 L847.9 334.54 L847.6 341.42 L847.5 343.84 L847.3 343.55 L847 343.33 L846.7 342.98 L846.4 342.81 L846.1 342.52 L845.8 342.34 L845.5 341.98 L845.2 341.72 L844.9 341.43 L844.6 341.25 L844.3 340.94 L844 340.64 L843.7 340.35 L843.4 340.09 L843.1 339.7 L842.8 339.46 L842.5 339.14 L842.2 338.81 L841.9 338.49 L841.6 338.08 L841.3 337.72 L841 337.41 L840.7 337.01 L840.4 336.74 L840.1 336.39 L839.8 336.23 L839.5 335.84 L839.2 335.68 L838.9 335.34 L838.6 335.1 L838.5 334.98 L838.3 337.39 L838 340.99 L837.7 344.58 L837.5 346.98 L837.4 346.9 L837.1 346.85 L836.8 346.67 L836.5 346.45 L836.2 346.24 L835.9 346.12 L835.6 345.9 L835.3 345.71 L835 345.5 L834.7 345.26 L834.4 345.01 L834.1 344.82 L833.8 344.64 L833.5 344.34 L833.2 344.12 L832.9 343.98 L832.6 343.72 L832.3 343.59 L832 343.49 L831.7 343.29 L831.4 343.22 L831.2 343.04 L831.1 343.91 L830.8 346.47 L830.5 349.13 L830.5 349.02 L830.2 348.87 L829.9 348.71 L829.6 348.47 L829.3 348.21 L829 347.93 L828.7 347.73 L828.4 347.48 L828.1 347.36 L827.8 347.01 L827.5 346.92 L827.2 346.82 L826.9 346.65 L826.6 346.5 L826.3 346.27 L826 346.1 L825.7 345.86 L825.4 345.72 L825.1 345.49 L824.8 345.26 L824.5 345.01 L824.2 344.91 L823.9 344.62 L823.6 344.42 L823.3 344.28 L823 344.06 L822.7 343.83 L822.4 343.67 L822.1 343.48 L821.8 343.35 L821.5 343.15 L821.2 343.09 L820.9 342.84 L820.6 342.76 L820.3 342.58 L820 342.34 L819.7 342.22 L819.4 341.9 L819.1 341.62 L818.8 341.34 L818.5 341.13 L818.2 340.87 L817.9 340.64 L817.6 340.47 L817.3 340.39 L817 340.23 L816.7 340 L816.4 339.79 L816.1 339.69 L815.8 339.53 L815.5 339.31 L815.2 339.11 L814.9 338.85 L814.6 338.69 L814.3 338.45 L814 338.27 L813.7 338.03 L813.4 337.83 L813.1 337.61 L812.8 337.42 L812.5 337.27 L812.2 337.08 L811.9 336.96 L811.6 336.67 L811.3 336.52 L811 336.43 L810.7 336.14 L810.4 336.04 L810.1 335.78 L809.8 335.65 L809.5 335.41 L809.2 335.24 L808.9 334.99 L808.6 334.76 L808.3 334.56 L808 334.39 L807.7 334.19 L807.4 333.88 L807.1 333.66 L806.8 333.55 L806.5 333.36 L806.2 333.2 L805.9 332.96 L805.6 332.75 L805.3 332.63 L805 332.44 L804.7 332.2 L804.4 332.12 L804.1 331.94 L803.8 331.76 L803.5 331.55 L803.2 331.4 L802.9 331.28 L802.6 331.13 L802.3 330.99 L802 330.77 L801.7 330.55 L801.4 330.37 L801.1 330.2 L800.8 329.97 L800.5 329.82 L800.2 329.63 L799.9 329.5 L799.6 329.21 L799.3 329 L799 328.91 L798.7 328.69 L798.4 328.43 L798.1 328.19 L797.8 328.05 L797.5 327.75 L797.2 327.67 L796.9 327.47 L796.6 327.24 L796.3 327.02 L796 326.95 L795.7 326.72 L795.4 326.52 L795.1 326.28 L794.8 325.77 L794.8 325.78 L794.5 335.64 L794.2 345.34 L794 351.92 L793.9 351.88 L793.6 351.71 L793.3 351.49 L793 351.32 L792.7 351.23 L792.4 350.98 L792.1 350.77 L791.8 350.64 L791.5 350.39 L791.2 350.18 L790.9 350 L790.6 349.7 L790.3 349.57 L790 349.27 L789.7 348.99 L789.4 348.8 L789.1 348.55 L788.8 348.45 L788.5 348.24 L788.2 347.99 L787.9 347.7 L787.6 347.54 L787.3 347.42 L787 347.2 L786.7 347.04 L786.4 346.92 L786.1 346.7 L785.8 346.56 L785.5 346.33 L785.2 346.04 L784.9 345.79 L784.6 345.46 L784.3 345.34 L784 345.2 L783.7 344.98 L783.4 344.85 L783.1 344.71 L782.8 344.5 L782.5 344.15 L782.2 343.91 L781.9 343.67 L781.6 343.42 L781.3 343.14 L781 343.03 L780.7 342.82 L780.4 342.67 L780.1 342.4 L779.8 342.23 L779.5 342.13 L779.2 341.83 L778.9 341.66 L778.6 341.55 L778.3 341.34 L778 341.21 L777.7 341.01 L777.4 340.81 L777.1 340.48 L776.8 340.3 L776.5 340.15 L776.2 339.96 L775.9 339.85 L775.6 339.73 L775.3 339.51 L775 339.33 L774.7 339.18 L774.4 338.82 L774.1 338.61 L773.8 338.27 L773.5 338.04 L773.2 337.79 L772.9 337.59 L772.6 337.42 L772.3 337.22 L772 337.02 L771.7 336.82 L771.4 336.69 L771.1 336.4 L770.8 336.3 L770.5 336.09 L770.2 335.9 L769.9 335.79 L769.6 335.56 L769.3 335.38 L769 335.16 L768.7 334.88 L768.4 334.75 L768.1 334.41 L767.8 334.19 L767.5 334.02 L767.2 333.7 L766.9 333.52 L766.6 333.27 L766.3 333.1 L766 332.94 L765.7 332.67 L765.4 332.54 L765.1 332.39 L764.8 332.13 L764.5 331.93 L764.2 331.78 L763.9 331.52 L763.7 331.45 L763.6 332.15 L763.3 334.72 L763 337.25 L763 337.19 L762.7 336.98 L762.4 336.72 L762.1 336.33 L761.8 336.09 L761.5 335.86 L761.2 335.62 L760.9 335.4 L760.6 335.24 L760.3 334.88 L760 334.69 L759.7 334.37 L759.4 334.19 L759.1 333.87 L759 333.73 L758.8 335.44 L758.5 338.03 L758.2 340.6 L758 342.41 L757.9 342.32 L757.6 341.92 L757.3 341.52 L757 341.35 L756.7 341 L756.4 340.79 L756.1 340.5 L755.8 340.18 L755.5 339.96 L755.2 339.67 L754.9 339.41 L754.6 339.14 L754.3 338.93 L754 338.56 L753.7 338.31 L753.4 337.83 L753.1 337.53 L752.8 337.14 L752.5 336.9 L752.2 336.56 L752 336.46 L751.9 337.31 L751.6 339.85 L751.3 342.51 L751 345.04 L750.7 347.51 L750.5 349.24 L750.4 349.1 L750.1 348.78 L749.8 348.56 L749.5 348.3 L749.2 348.19 L748.9 347.96 L748.6 347.91 L748.3 347.71 L748 347.56 L747.7 347.4 L747.4 347.2 L747.1 346.91 L746.8 346.71 L746.5 346.47 L746.2 346.32 L745.9 346.07 L745.6 345.94 L745.3 345.76 L745 345.47 L744.7 345.39 L744.4 345.12 L744.1 345.07 L743.8 344.88 L743.5 344.71 L743.2 344.48 L742.9 344.26 L742.6 344.15 L742.3 344.03 L742 343.9 L741.7 343.82 L741.4 343.67 L741.1 343.51 L740.8 343.33 L740.5 343.19 L740.2 342.97 L739.9 342.81 L739.7 342.63 L739.6 344.73 L739.3 350.56 L739 356.56 L739 356.48 L738.7 356.29 L738.4 355.98 L738.1 355.81 L737.8 355.75 L737.5 355.55 L737.2 355.47 L736.9 355.36 L736.6 355.23 L736.3 354.94 L736 354.79 L735.7 354.46 L735.4 354.22 L735.1 353.96 L735 354.01 L734.8 353.96 L734.5 354.07 L734.2 354.01 L733.9 354.11 L733.6 354.16 L733.3 354.17 L733 354.19 L733 354.12 L732.7 353.95 L732.4 353.61 L732.1 353.31 L731.8 353.06 L731.5 352.77 L731.2 352.55 L730.9 352.3 L730.6 351.96 L730.3 351.71 L730 351.47 L729.7 351.19 L729.4 351.06 L729.1 350.79 L728.8 350.68 L728.5 350.39 L728.2 350.21 L727.9 349.81 L727.6 349.64 L727.3 349.38 L727 349.11 L726.7 348.88 L726.4 348.77 L726.1 348.63 L725.8 348.38 L725.5 348.32 L725.2 348.03 L725 347.76 L724.9 347.94 L724.6 348.22 L724.3 348.5 L724 348.8 L723.7 349.08 L723.4 349.5 L723.1 349.91 L723 350.08 L722.8 349.96 L722.5 349.86 L722.2 349.61 L721.9 349.56 L721.6 349.32 L721.3 349.08 L721 348.97 L720.7 348.74 L720.4 348.53 L720.1 348.24 L719.8 348.08 L719.5 347.85 L719.2 347.54 L718.9 347.36 L718.6 347.23 L718.3 346.97 L718 346.86 L718 346.79 L717.7 354.63 L717.5 359.9 L717.4 359.78 L717.1 359.63 L716.8 359.38 L716.5 359.19 L716.2 359.06 L715.9 358.82 L715.6 358.67 L715.3 358.42 L715 358.24 L714.7 358.03 L714.4 357.88 L714.1 357.71 L713.8 357.58 L713.5 357.36 L713.2 357.26 L713.2 357.23 L712.9 358.49 L712.6 359.84 L712.5 360.15 L712.3 359.98 L712 359.8 L711.7 359.51 L711.4 359.2 L711.1 358.96 L710.8 358.54 L710.5 358.25 L710.2 357.92 L709.9 357.58 L709.6 357.31 L709.3 356.95 L709 356.69 L709 356.71 L708.7 357.4 L708.4 358.05 L708.1 358.83 L707.8 359.47 L707.5 360.21 L707.5 360.29 L707.2 359.93 L706.9 359.68 L706.6 359.43 L706.3 359.23 L706 359.03 L706 359.03 L705.7 358.69 L705.4 358.46 L705.1 358.31 L704.8 358.11 L704.5 357.85 L704.2 357.55 L703.9 357.27 L703.6 356.93 L703.3 356.72 L703 356.49 L702.7 356.28 L702.4 356.01 L702.1 355.81 L701.8 355.56 L701.5 355.32 L701.2 355.1 L700.9 354.74 L700.6 354.55 L700.3 354.27 L700 354.04 L699.7 353.78 L699.4 353.49 L699.1 353.26 L698.8 352.87 L698.8 352.93 L698.5 355.41 L698.2 358.01 L698 359.9 L697.9 359.85 L697.6 359.7 L697.3 359.57 L697 359.35 L696.7 359.23 L696.4 359.08 L696.1 358.95 L695.8 358.82 L695.5 358.66 L695.2 358.57 L694.9 358.28 L694.6 358.13 L694.3 358.04 L694 357.85 L694 357.85 L693.7 358.76 L693.4 359.73 L693.1 360.62 L693 360.81 L692.8 360.73 L692.5 360.51 L692.2 360.23 L691.9 359.9 L691.6 359.65 L691.3 359.53 L691 359.26 L690.7 359.06 L690.4 358.86 L690.1 358.61 L689.8 358.25 L689.5 357.87 L689.2 357.52 L688.9 357.07 L688.6 356.85 L688.3 356.52 L688 356.36 L687.7 356.17 L687.4 356.01 L687.1 355.67 L687 355.59 L686.8 355.67 L686.5 355.74 L686.2 355.88 L685.9 355.91 L685.6 355.99 L685.5 355.91 L685.3 355.76 L685 355.5 L684.7 355.35 L684.4 355.07 L684.1 354.74 L683.8 354.56 L683.5 354.3 L683.2 353.99 L682.9 353.81 L682.6 353.47 L682.3 353.25 L682 353 L681.7 352.81 L681.4 352.62 L681.1 352.55 L680.8 352.3 L680.5 352.09 L680.2 351.69 L679.9 351.4 L679.6 351.19 L679.5 351.04 L679.3 358.33 L679 369.49 L679 369.41 L678.7 369.28 L678.4 369.09 L678.1 368.77 L677.8 368.56 L677.5 368.33 L677.2 368.1 L676.9 367.8 L676.6 367.52 L676.3 367.33 L676 366.92 L675.7 366.7 L675.4 366.45 L675.1 366.24 L674.8 365.96 L674.5 365.79 L674.2 365.41 L673.9 365.19 L673.6 364.82 L673.3 364.58 L673 364.25 L672.7 364.08 L672.4 363.76 L672.1 363.4 L671.8 363.18 L671.5 362.95 L671.2 362.65 L670.9 362.35 L670.6 362.14 L670.3 361.94 L670 361.79 L670 361.82 L669.7 362.14 L669.4 362.56 L669.1 362.81 L669 362.85 L668.8 362.67 L668.5 362.26 L668.2 361.89 L667.9 361.53 L667.6 361.2 L667.3 360.82 L667 360.61 L666.7 360.23 L666.4 359.9 L666.1 359.6 L665.8 359.35 L665.5 358.96 L665.2 358.62 L665 358.38 L664.9 359.35 L664.6 361.99 L664.5 362.87 L664.3 362.7 L664 362.42 L663.7 362.02 L663.4 361.8 L663.1 361.47 L662.8 361.24 L662.5 360.95 L662.2 360.66 L661.9 360.38 L661.6 360.06 L661.3 359.74 L661 359.59 L660.7 359.41 L660.4 359.09 L660.1 358.86 L660 358.82 L659.8 360.1 L659.5 361.89 L659.5 361.85 L659.2 361.54 L658.9 361.12 L658.6 360.83 L658.3 360.46 L658 360.18 L657.7 359.98 L657.4 359.82 L657.1 359.54 L656.8 359.3 L656.5 359.16 L656.2 358.84 L655.9 358.45 L655.6 358.09 L655.3 357.83 L655 357.6 L654.7 357.3 L654.4 357.04 L654.1 356.67 L653.8 356.52 L653.5 356.08 L653.2 355.84 L653.2 355.85 L652.9 360.16 L652.6 364.38 L652.5 365.61 L652.3 365.72 L652 365.9 L651.7 366.3 L651.4 366.31 L651.1 366.37 L650.8 366.6 L650.5 366.52 L650.2 366.59 L649.9 366.59 L649.6 366.76 L649.3 366.78 L649 366.79 L648.7 366.82 L648.4 366.93 L648.1 367.03 L648 367.05 L647.8 368.89 L647.5 372.17 L647.5 372.19 L647.2 371.83 L646.9 371.72 L646.6 371.76 L646.3 371.43 L646 371.13 L645.7 371.13 L645.4 370.87 L645.1 370.74 L645 370.84 L644.8 370.7 L644.5 370.19 L644.2 370.07 L643.9 369.89 L643.6 369.7 L643.3 369.47 L643 369.2 L642.7 368.81 L642.4 368.57 L642.1 368.17 L641.8 367.71 L641.5 367.4 L641.2 366.8 L640.9 366.25 L640.6 365.84 L640.3 365.83 L640 365.44 L639.7 365.39 L639.4 365.32 L639.1 365.29 L638.8 364.9 L638.5 364.55 L638.2 363.76 L638 363.41 L637.9 363.26 L637.6 362.69 L637.3 362.41 L637 361.96 L636.7 361.71 L636.4 361.48 L636.1 361.07 L635.8 360.8 L635.5 360.33 L635.2 360.37 L634.9 360.32 L634.6 359.84 L634.3 359.9 L634 359.5 L633.7 358.88 L633.4 358.64 L633.1 357.96 L632.8 357.6 L632.5 357.17 L632.2 357.02 L632 356.72 L631.9 356.92 L631.6 357.02 L631.3 357.09 L631 357.35 L630.7 357.23 L630.4 357.33 L630.1 357.48 L629.8 357.41 L629.5 357.23 L629.2 357.54 L628.9 357.63 L628.6 357.41 L628.3 357.61 L628 357.72 L627.7 357.65 L627.4 358.02 L627.1 357.91 L626.8 358.24 L626.5 358.16 L626.5 358.23 L626.2 359.89 L625.9 361.72 L625.6 363.55 L625.5 364.02 L625.3 364.1 L625 364.14 L624.7 364.06 L624.4 364.19 L624.1 364.67 L623.8 364.57 L623.5 364.79 L623.2 365.05 L623 365.31 L622.9 365.17 L622.6 364.86 L622.3 364.74 L622 364.35 L621.7 364.09 L621.4 363.9 L621.1 363.58 L620.8 363.5 L620.5 363.01 L620.2 362.74 L619.9 362.6 L619.6 362.14 L619.5 362.21 L619.3 364.23 L619 366.8 L618.7 369.59 L618.5 371.67 L618.4 371.35 L618.1 370.98 L617.8 370.23 L617.5 369.74 L617.2 369.39 L616.9 368.76 L616.6 368.23 L616.3 368.22 L616 367.67 L616 367.91 L615.7 367.66 L615.4 367.54 L615.1 367.55 L614.8 367.43 L614.5 367.49 L614.2 367.35 L613.9 366.88 L613.6 366.95 L613.3 366.7 L613 366.33 L612.7 366.07 L612.5 366.05 L612.4 366.06 L612.1 366.19 L611.8 366.78 L611.5 367.26 L611.2 367.76 L610.9 368.24 L610.6 368.67 L610.5 368.76 L610.3 368.39 L610 367.95 L609.7 367.79 L609.4 367.27 L609.1 366.47 L608.8 366.09 L608.5 365.8 L608.2 365.8 L607.9 365.67 L607.6 365.37 L607.5 365.45 L607.3 366.27 L607 367.29 L606.7 368.51 L606.4 369.07 L606.1 369.99 L606 370.44 L605.8 369.92 L605.5 369.39 L605.2 368.86 L604.9 368.62 L604.6 368.11 L604.3 367.65 L604 367.5 L603.7 366.87 L603.5 366.57 L603.4 366.61 L603.1 366.64 L602.8 366.44 L602.5 366.44 L602.2 366.04 L601.9 366.14 L601.6 366.24 L601.3 366.33 L601 366.06 L600.7 366.3 L600.5 366.17 L600.4 366.64 L600.1 369.33 L599.8 371.38 L599.5 373.98 L599.5 373.74 L599.2 373.78 L598.9 373.49 L598.6 373.01 L598.3 372.87 L598 372.93 L597.7 372.55 L597.5 372.32 L597.4 372.08 L597.1 371.8 L596.8 370.79 L596.5 370.28 L596.2 369.68 L595.9 369.12 L595.6 368.62 L595.3 368.53 L595 368.47 L595 368.31 L594.7 368.26 L594.4 368.04 L594.1 367.67 L593.8 367.35 L593.5 366.74 L593.2 366.15 L592.9 365.76 L592.6 365.21 L592.3 364.95 L592 364.11 L592 364.13 L591.7 363.92 L591.4 363.61 L591.1 363.16 L590.8 363.04 L590.5 363.13 L590.2 363.03 L589.9 363.17 L589.6 362.82 L589.3 363.14 L589 363.01 L588.7 362.59 L588.4 362.83 L588.1 362.6 L588 362.39 L587.8 364.53 L587.5 367.8 L587.5 367.98 L587.2 367.91 L586.9 367.71 L586.6 367.53 L586.3 367.48 L586 367.84 L585.7 368.2 L585.5 368.74 L585.4 368.65 L585.1 368.51 L584.8 368.47 L584.5 368.65 L584.2 368.39 L584 368.39 L583.9 368.05 L583.6 367.58 L583.3 367.16 L583 366.28 L582.7 365.88 L582.4 365.38 L582.1 365 L581.8 364.63 L581.5 364.47 L581.2 363.64 L581 363.25 L580.9 363.35 L580.6 364.11 L580.3 365.03 L580 365.68 L580 365.45 L579.7 365.52 L579.4 365.82 L579.1 365.71 L578.8 366.06 L578.5 366.19 L578.2 366.34 L578 366.71 L577.9 366.89 L577.6 366.73 L577.3 367.25 L577 367.33 L576.7 367.15 L576.4 367.32 L576.1 366.97 L575.8 366.61 L575.5 366.31 L575.2 366.36 L575 366.19 L574.9 366.13 L574.6 365.8 L574.3 365.81 L574 365.77 L573.7 365.68 L573.4 365.32 L573.1 365.55 L572.8 365.3 L572.5 365.51 L572.2 365.49 L571.9 365.57 L571.6 365.3 L571.3 365.21 L571 364.72 L570.7 364.56 L570.4 364.24 L570.1 364.19 L570 364.1 L569.8 363.44 L569.5 363.12 L569.2 362.62 L568.9 361.98 L568.6 361.73 L568.3 361.4 L568 361.38 L567.7 361.41 L567.4 360.94 L567.1 361.01 L566.8 360.59 L566.5 360.33 L566.2 360.25 L565.9 360.04 L565.6 359.62 L565.3 359.11 L565 359.31 L565 359.21 L564.7 358.58 L564.4 358.46 L564.1 357.96 L563.8 357.78 L563.5 357.4 L563.2 356.82 L562.9 356.13 L562.6 355.77 L562.3 355.58 L562 354.86 L561.7 354.65 L561.5 354.71 L561.4 354.4 L561.1 353.89 L560.8 353.54 L560.5 353.26 L560.5 353.26 L560.2 352.82 L559.9 352.24 L559.6 351.57 L559.3 351.23 L559 350.62 L558.7 350.66 L558.4 350.69 L558.1 350.69 L558 350.65 L557.8 350.58 L557.5 350.7 L557.2 350.2 L556.9 349.65 L556.6 349.18 L556.3 348.61 L556 348.21 L555.7 347.58 L555.4 347.16 L555.1 346.64 L554.8 346.32 L554.5 345.84 L554.2 345.45 L554.2 345.29 L553.9 368.45 L553.7 383.27 L553.6 383.41 L553.3 382.77 L553 382.72 L552.7 382.37 L552.4 381.8 L552.1 381.4 L551.8 381.51 L551.5 381.04 L551.2 380.68 L550.9 380.32 L550.6 379.85 L550.3 379.57 L550 379.37 L550 379.37 L549.7 379.08 L549.4 378.64 L549.1 377.8 L548.8 377.41 L548.5 376.76 L548.2 375.95 L547.9 374.94 L547.6 374.82 L547.3 374.44 L547 373.74 L547 374.04 L546.7 373.8 L546.4 373.17 L546.1 373.31 L545.8 373.17 L545.5 372.84 L545.2 373.02 L544.9 372.92 L544.6 372.88 L544.3 372.33 L544 372.25 L543.7 371.75 L543.4 371.23 L543.1 371.28 L543 370.77 L542.8 370.55 L542.5 370.37 L542.2 369.52 L541.9 369.39 L541.6 368.74 L541.3 368.36 L541 368.18 L540.7 368.15 L540.4 367.64 L540.1 367.75 L539.8 367.15 L539.5 367.1 L539.2 367.15 L538.9 366.76 L538.6 366.91 L538.3 366.56 L538 366.67 L538 366.46 L537.7 366.39 L537.4 366.33 L537.1 366.26 L536.8 365.79 L536.5 365.69 L536.2 365.31 L535.9 365.27 L535.6 364.85 L535.3 364.42 L535 364.42 L534.7 364.23 L534.4 364.44 L534.1 364.1 L533.8 364.29 L533.5 364.53 L533.5 364.46 L533.2 364.89 L532.9 365.1 L532.6 365.24 L532.3 365.87 L532 366.24 L532 366.21 L531.7 365.6 L531.4 365.16 L531.1 364.48 L530.8 364.1 L530.5 363.3 L530.2 363.22 L529.9 362.8 L529.6 362.55 L529.3 362.3 L529 361.94 L529 361.88 L528.7 362.26 L528.4 361.72 L528.1 361.68 L527.8 361.37 L527.5 361.29 L527.2 360.64 L527 360.74 L526.9 360.83 L526.6 360.85 L526.5 360.92 L526.3 356.47 L526.2 354.26 L526 359.3 L525.9 361.73 L525.8 361.86 L525.7 362.34 L525.4 363.69 L525.1 364.29 L524.8 364.99 L524.5 365.97 L524.5 365.76 L524.2 364.98 L523.9 364.21 L523.6 364.02 L523.3 363.68 L523 363.44 L522.7 363.23 L522.4 362.95 L522.1 362.6 L521.8 362.17 L521.5 361.85 L521.2 361.06 L520.9 360.76 L520.6 360.36 L520.3 359.98 L520 359.28 L520 359.08 L519.7 358.9 L519.4 358.61 L519.1 358.06 L518.8 358.05 L518.5 357.77 L518.2 357.7 L517.9 357.55 L517.6 357.7 L517.3 357.12 L517 356.83 L516.7 356.8 L516.4 356.39 L516.1 355.86 L516 355.78 L515.8 357.9 L515.5 360.6 L515.2 363.79 L515 365.9 L514.9 365.52 L514.6 365.45 L514.3 364.88 L514 364.3 L513.7 363.89 L513.4 362.96 L513.1 362.28 L512.8 361.67 L512.5 361.4 L512.2 360.22 L512 360.09 L511.9 359.68 L511.6 359.89 L511.3 359.39 L511 359.41 L510.7 359.44 L510.4 359.68 L510.1 359.94 L509.8 359.99 L509.5 360.25 L509.2 360.34 L509 360.16 L508.9 361.03 L508.6 362.64 L508.3 364.93 L508 366.58 L508 366.49 L507.7 365.95 L507.4 365.4 L507.1 365.25 L506.8 364.49 L506.5 364.18 L506.2 363.45 L505.9 363.44 L505.6 363.17 L505.3 363.1 L505 362.54 L504.7 362.52 L504.4 362.08 L504.1 361.57 L504 361.47 L503.8 362.19 L503.5 364.16 L503.2 365.76 L503 367.03 L502.9 367.13 L502.6 367.23 L502.3 368.06 L502 368.2 L501.7 368.86 L501.4 369.26 L501.1 369.07 L501 369.07 L500.8 368.85 L500.5 368.19 L500.2 367.52 L499.9 366.82 L499.6 366.32 L499.3 366.29 L499 365.8 L498.7 365.29 L498.4 364.91 L498.1 364.7 L498 364.8 L497.8 363.96 L497.5 363.61 L497.2 362.77 L496.9 362.1 L496.6 361.94 L496.3 360.8 L496 360.47 L495.7 359.55 L495.4 358.84 L495.1 358.35 L495 358.18 L494.8 358.03 L494.5 358.62 L494.2 358.45 L493.9 358.69 L493.6 359.3 L493.3 359.21 L493 359.07 L492.7 358.59 L492.4 358.33 L492.1 358.08 L492 358.31 L491.8 359.72 L491.5 362.51 L491.2 365.37 L491.2 365.75 L490.9 365.36 L490.6 364.94 L490.3 364.16 L490 363.55 L490 363.79 L489.7 363.63 L489.4 363.46 L489.1 363.11 L488.8 362.81 L488.5 362.94 L488.2 362.81 L487.9 362.91 L487.6 362.89 L487.3 363.02 L487 362.61 L487 362.81 L486.7 363.26 L486.4 363.47 L486.1 363.86 L486 364.36 L485.8 363.83 L485.5 363.49 L485.2 362.84 L484.9 361.8 L484.6 361.13 L484.3 360.33 L484 359.7 L483.7 359.02 L483.4 358.83 L483.1 358.59 L482.8 358.16 L482.5 357.59 L482.2 357.02 L482.2 357.33 L481.9 360 L481.6 362.28 L481.3 364.78 L481 367.69 L481 367.7 L480.7 368.23 L480.4 368.37 L480.1 368.93 L479.8 369.03 L479.5 369.34 L479.2 369.62 L479 369.84 L478.9 369.69 L478.6 369.38 L478.3 368.78 L478 368.68 L477.7 368.29 L477.4 367.95 L477.1 367.25 L476.8 366.97 L476.5 366.78 L476.2 366.31 L475.9 365.75 L475.6 365.12 L475.3 364.87 L475 363.9 L475 364.01 L474.7 364.09 L474.4 363.64 L474.1 363.8 L473.8 363.94 L473.5 364.14 L473.2 364.33 L472.9 364.52 L472.6 364.69 L472.5 364.35 L472.3 365.35 L472 366.62 L471.7 367.36 L471.5 368.61 L471.4 368.1 L471.1 367.96 L470.8 367.13 L470.5 366.83 L470.2 366.44 L469.9 366.25 L469.6 365.82 L469.3 365.58 L469 365.28 L468.7 364.71 L468.4 364.21 L468.1 364.29 L468 364.15 L467.8 364.7 L467.5 365.12 L467.2 365.37 L466.9 366.11 L466.6 366.5 L466.3 367.06 L466 367.96 L466 367.77 L465.7 368.08 L465.4 368.36 L465.1 368.33 L464.8 368.51 L464.5 369.18 L464.2 369.17 L463.9 369.53 L463.6 370 L463.3 370.13 L463 370.68 L462.7 371 L462.5 371.48 L462.4 371.45 L462.1 371.14 L461.8 370.94 L461.5 370.74 L461.2 370.31 L460.9 370.22 L460.6 370.14 L460.3 369.57 L460 369.56 L459.7 369.26 L459.5 368.66 L459.4 368.65 L459.1 368.02 L458.8 367.41 L458.5 367.22 L458.2 366.74 L457.9 366.12 L457.6 365.79 L457.3 365.49 L457 364.93 L456.7 364.58 L456.4 363.92 L456.1 363.43 L456 363.52 L455.8 365.09 L455.5 367.72 L455.2 370.51 L455 372.46 L454.9 372.44 L454.6 371.6 L454.3 371.23 L454 370.82 L453.7 370.5 L453.4 370.1 L453.1 369.52 L452.8 368.79 L452.5 368.07 L452.2 367.07 L451.9 366.59 L451.6 366.46 L451.3 366.21 L451 365.75 L450.7 365.71 L450.5 365.77 L450.4 365.45 L450.1 365.38 L449.8 364.67 L449.5 364.08 L449.2 363.52 L449 363.16 L448.9 363.13 L448.6 363.32 L448.3 363.73 L448 364.53 L447.7 364.98 L447.4 365.25 L447.1 365.73 L446.8 366.73 L446.5 366.91 L446.2 367.52 L445.9 368.24 L445.6 368.76 L445.5 368.59 L445.3 368.53 L445 368.53 L444.7 368.59 L444.4 368.14 L444.1 368.37 L443.8 368.16 L443.5 367.74 L443.2 367.31 L442.9 367.2 L442.6 366.53 L442.3 366.28 L442 366.15 L441.7 365.52 L441.4 365.32 L441.2 364.91 L441.1 365.11 L440.8 366.53 L440.5 367.68 L440.2 369.19 L440 370.12 L439.9 370.03 L439.6 370.02 L439.3 370.11 L439 370.15 L438.7 369.29 L438.4 369.16 L438.1 368.42 L437.8 368.3 L437.5 367.53 L437.2 367.41 L436.9 367.37 L436.6 367.16 L436.5 366.89 L436.3 367.74 L436 369.33 L435.7 370.83 L435.5 371.34 L435.4 371.28 L435.1 371.27 L434.8 370.89 L434.5 370.58 L434.2 370.63 L433.9 370.3 L433.6 370.09 L433.3 370.33 L433 369.79 L432.7 369.7 L432.4 369.74 L432.1 369.49 L431.8 369.37 L431.5 369.05 L431.2 369.29 L430.9 368.94 L430.6 369.11 L430.3 369.12 L430 369.05 L430 368.77 L429.7 368.75 L429.4 369.04 L429.1 368.29 L428.8 367.83 L428.5 367.41 L428.2 367.34 L427.9 366.62 L427.6 366.23 L427.3 366.43 L427 365.99 L426.7 365.56 L426.4 365.5 L426.1 365.38 L425.8 365.17 L425.5 365.41 L425.2 365.79 L425 365.89 L424.9 366.06 L424.6 367.12 L424.3 367.72 L424 368.4 L423.7 369.46 L423.5 369.85 L423.4 369.36 L423.1 369.13 L422.8 369.16 L422.5 368.74 L422.2 369.04 L421.9 368.73 L421.6 369.06 L421.3 368.73 L421 368.33 L420.7 368.28 L420.4 368.02 L420.1 368.1 L419.8 367.67 L419.5 367.31 L419.2 366.64 L419 366.31 L418.9 366.56 L418.6 366.3 L418.3 366.22 L418 365.75 L417.7 366.21 L417.4 365.98 L417.1 366.45 L416.8 366.67 L416.5 366.4 L416.2 366.32 L415.9 366.46 L415.6 366.1 L415.3 366.35 L415 366.43 L415 366.07 L414.7 366.36 L414.4 366.12 L414.1 365.64 L413.8 365.42 L413.5 365.49 L413.2 365.16 L412.9 365.11 L412.6 364.56 L412.3 364.38 L412 364.28 L411.7 364.15 L411.4 364.45 L411.1 364.55 L410.8 364.55 L410.5 364.25 L410.2 364.59 L410 364.14 L409.9 364.19 L409.6 363.59 L409.3 363.12 L409 362.9 L408.7 362.71 L408.4 362.66 L408.1 362.7 L408 362.27 L407.8 362.76 L407.5 362.66 L407.2 362.68 L406.9 363.12 L406.6 363.18 L406.3 363.47 L406 363.69 L405.7 363.54 L405.4 363.56 L405.1 363.53 L404.8 363.39 L404.5 363.04 L404.2 362.88 L404 362.88 L403.9 362.61 L403.6 362.99 L403.3 363.22 L403 363.97 L402.7 364.17 L402.4 364.33 L402.1 364.69 L401.8 365.14 L401.5 365.31 L401.2 365.13 L400.9 365.41 L400.6 365.9 L400.3 365.75 L400 366 L400 365.98 L399.7 365.91 L399.4 365.63 L399.1 365.66 L398.8 365.72 L398.5 365.48 L398.2 365.09 L397.9 364.94 L397.6 364.89 L397.5 364.72 L397.3 364.59 L397 364.68 L396.7 364.08 L396.4 364.02 L396.1 364.01 L395.8 363.59 L395.5 363.09 L395.2 362.99 L394.9 362.65 L394.6 362.11 L394.5 362 L394.3 361.84 L394 361.78 L393.7 361.98 L393.4 362.13 L393.1 361.87 L392.8 362.07 L392.5 362.19 L392.2 362.47 L391.9 362.44 L391.6 363.24 L391.3 363.51 L391 363.71 L390.7 363.74 L390.4 364.18 L390.1 364.14 L390 363.74 L389.8 364.05 L389.5 363.91 L389.2 364.23 L388.9 364.23 L388.6 364.84 L388.3 364.8 L388 364.95 L387.7 365.19 L387.4 365.56 L387.1 365.26 L386.8 365.37 L386.5 365.72 L386.2 365.14 L386 365.85 L385.9 365.08 L385.6 363.43 L385.3 362.1 L385 360.31 L385 360.08 L384.7 360.57 L384.4 361.06 L384.1 361.47 L383.8 361.24 L383.5 361.05 L383.2 361.42 L382.9 361.44 L382.6 362.31 L382.3 362.37 L382 362.35 L381.7 363.02 L381.5 363.11 L381.4 362.85 L381.1 363.15 L380.8 362.68 L380.5 362.3 L380.2 361.87 L379.9 362.09 L379.6 361.56 L379.5 361.21 L379.3 360.42 L379 359.39 L378.7 358.12 L378.4 357.2 L378.1 355.51 L378 355.02 L377.8 354.92 L377.5 354.95 L377.2 355.11 L376.9 355.56 L376.6 355.38 L376.3 355.07 L376 355.61 L375.7 355.55 L375.4 355.9 L375.1 356.06 L375 355.62 L374.8 356.48 L374.5 356.59 L374.2 356.91 L373.9 357.97 L373.6 358.28 L373.3 358.25 L373 358.8 L372.7 359.15 L372.4 359.74 L372.1 360.32 L372 360.01 L371.8 358.69 L371.5 356.05 L371.2 353.7 L371 352.62 L370.9 352.38 L370.6 353.56 L370.3 353.79 L370 354.46 L369.7 354.83 L369.4 354.92 L369.1 355.28 L368.8 354.61 L368.5 355.24 L368.2 355.86 L368 356.51 L367.9 356.87 L367.6 357.01 L367.3 357.88 L367 359.21 L366.7 359.66 L366.4 360.09 L366.1 359.67 L365.8 360.93 L365.5 361.03 L365.2 361.32 L364.9 361.89 L364.6 362.83 L364.5 363.31 L364.3 362.97 L364 361.81 L363.7 360.31 L363.4 359.1 L363.1 357.4 L363 356.36 L362.8 356.81 L362.5 357.56 L362.2 356.86 L361.9 356.92 L361.6 357.38 L361.3 357.03 L361 357.47 L361 357.14 L360.7 356.63 L360.4 355.66 L360.1 355.52 L359.8 354.97 L359.5 354.57 L359.2 354.08 L359 353.32 L358.9 353.42 L358.6 352.94 L358.3 352.54 L358 351.66 L357.7 351.79 L357.4 351.06 L357.1 351.35 L356.8 351.01 L356.5 350.36 L356.5 350.27 L356.2 350.75 L355.9 351.75 L355.6 351.63 L355.3 352.34 L355 352.44 L354.7 352.56 L354.4 352.58 L354.1 353.36 L353.8 353.64 L353.5 353.61 L353.2 353.25 L352.9 353.63 L352.6 354.47 L352.5 354.51 L352.3 351.24 L352 346.24 L351.8 343.82 L351.7 343.36 L351.4 344.49 L351.1 345.1 L350.8 344.75 L350.5 345.17 L350.2 345.8 L350 346.38 L349.9 345.96 L349.6 347.22 L349.3 347.64 L349 347.87 L348.7 348.36 L348.4 348.64 L348.1 348.85 L347.8 349.12 L347.5 349.7 L347.5 349.37 L347.2 350.4 L346.9 350.1 L346.6 351.26 L346.5 350.6 L346.3 339.11 L346.2 334.08 L346 345.68 L345.9 351.22 L345.7 351.37 L345.4 352.38 L345.1 352.66 L345 352.22 L344.8 352.6 L344.5 351.15 L344.2 351.04 L343.9 349.2 L343.6 347.93 L343.3 347.83 L343 346.09 L343 346.41 L342.7 347.08 L342.4 345.89 L342.1 346.73 L341.8 346.35 L341.5 346.06 L341.2 346.83 L340.9 346.94 L340.6 347.72 L340.3 348.75 L340 348.77 L340 348.83 L339.7 349.26 L339.4 351.04 L339.1 350.7 L338.8 351.88 L338.5 352.59 L338.2 354.27 L337.9 354.77 L337.8 355.36 L337.6 354.44 L337.3 353.5 L337 351.94 L336.7 351.28 L336.4 349.56 L336.1 349.63 L336 349.71 L335.8 347.92 L335.5 346.39 L335.2 345.75 L334.9 344.28 L334.6 341.7 L334.5 341.43 L334.3 340.76 L334 341.17 L333.7 341.15 L333.4 341.15 L333.1 342.12 L332.8 341.96 L332.5 342.19 L332.2 342.42 L332 342.67 L331.9 342.76 L331.6 342.98 L331.3 344.66 L331 345.08 L330.7 345.16 L330.4 345.11 L330.1 346.17 L329.8 345.73 L329.5 346.24 L329.2 346.62 L329 347.7 L328.9 347.37 L328.6 344.48 L328.3 343.23 L328 341.2 L327.7 338.89 L327.5 338.87 L327.4 337.95 L327.1 338.8 L326.8 339.87 L326.5 338.71 L326.2 340.55 L325.9 340.33 L325.6 340.48 L325.3 341.47 L325 342.13 L325 341.33 L324.7 342.8 L324.4 345.34 L324.1 347.18 L323.8 347.33 L323.5 348.79 L323.5 349.88 L323.2 347.63 L322.9 347.05 L322.6 345.68 L322.3 344.33 L322 343.77 L322 344.56 L321.7 343.16 L321.4 341.93 L321.1 340.68 L320.8 338.66 L320.5 338.35 L320.5 337.73 L320.2 337.32 L319.9 338.82 L319.6 337.89 L319.3 338.71 L319 337.73 L318.7 339.1 L318.4 340.04 L318.1 339.78 L318 340.05 L317.8 339.26 L317.5 341.16 L317.2 340.06 L316.9 341.97 L316.6 342.04 L316.3 341.85 L316 341.26 L315.7 342.65 L315.4 343.13 L315.1 342.56 L315 342.78 L314.8 343.34 L314.5 342.84 L314.2 343.54 L313.9 345.3 L313.6 345.18 L313.3 345.61 L313 345.62 L312.7 347.19 L312.4 347.08 L312.1 346.98 L312 347.14 L311.8 347.94 L311.5 350.39 L311.2 350.85 L310.9 350.91 L310.6 351.46 L310.3 352.87 L310 353.52 L309.7 355.1 L309.4 355.58 L309.1 356.72 L309 355.76 L308.8 336.99 L308.6 317.17 L308.5 317.16 L308.2 319.12 L307.9 319.85 L307.6 319.26 L307.3 321.36 L307 321.7 L306.7 322.27 L306.4 321.82 L306.1 322.99 L306 324.33 L305.8 323.4 L305.5 324.98 L305.2 324.29 L304.9 325.22 L304.6 325.65 L304.3 326.86 L304 326.85 L304 327.3 L303.7 328.4 L303.4 327.88 L303.1 328.99 L302.8 329.34 L302.5 330.46 L302.2 330.92 L302 330.53 L301.9 330.64 L301.6 331.63 L301.3 331.84 L301 333.04 L300.7 334.57 L300.4 334.12 L300.1 334.52 L300 334.35 L299.8 333.49 L299.5 331.56 L299.2 331.36 L299 328.85 L298.9 330.62 L298.6 331.03 L298.3 329.98 L298 330.4 L297.7 332.76 L297.5 332.77 L297.4 332.65 L297.1 332.3 L296.8 330.48 L296.5 330.65 L296.2 328.95 L296 327.64 L295.9 328.09 L295.6 328.82 L295.3 328.41 L295 328.53 L294.7 329.55 L294.4 329.63 L294.1 330.85 L294 330.44 L293.8 330.79 L293.5 331.32 L293.2 332.79 L292.9 333.38 L292.6 332.03 L292.3 333.22 L292 334.36 L292 333.39 L291.7 331.72 L291.4 330.53 L291.1 328.51 L291 327.1 L290.8 327.87 L290.5 328.12 L290.2 327.09 L289.9 327.25 L289.6 326.93 L289.3 328.04 L289 328.3 L289 328.08 L288.7 328.79 L288.4 331.48 L288.1 330.99 L287.8 333.98 L287.5 334.34 L287.5 334.36 L287.2 332.93 L286.9 329.28 L286.6 327.47 L286.5 326.39 L286.3 325.83 L286 327.71 L285.7 327.11 L285.4 326.3 L285.1 327.9 L285 327.35 L284.8 328.16 L284.5 328.46 L284.2 328.42 L283.9 329.39 L283.6 329.57 L283.3 330.25 L283 331.3 L283 329.89 L282.7 329.23 L282.4 330.06 L282.1 329.79 L281.8 327.95 L281.5 327.83 L281.2 327.56 L281 327.77 L280.9 327.81 L280.6 329.69 L280.3 330.02 L280 330.61 L279.7 329.83 L279.4 329.87 L279.1 330.87 L279 330.37 L278.8 330.81 L278.5 330.91 L278.2 329.96 L277.9 331.2 L277.6 330.93 L277.3 331.04 L277 329.52 L277 329.28 L276.7 330.35 L276.4 331.1 L276.1 332.22 L275.8 332.39 L275.5 333.89 L275.2 335.15 L275 334.43 L274.9 334.47 L274.6 333.53 L274.3 333.05 L274 332.83 L273.7 331.61 L273.5 330.69 L273.4 329.41 L273.1 327.73 L272.8 324.71 L272.5 320.8 L272.5 320.09 L272.2 321.14 L271.9 320.8 L271.6 321.47 L271.3 321.59 L271 321.72 L270.7 323.25 L270.4 323.56 L270.1 322.63 L270 322.63 L269.8 323.1 L269.5 323.74 L269.2 322.92 L268.9 322.96 L268.6 323.17 L268.3 324.8 L268 323.35 L267.7 325.41 L267.4 325.33 L267.1 325.37 L267 325.31 L266.8 325.89 L266.5 326.17 L266.2 325.93 L265.9 328.03 L265.6 328.81 L265.3 329.66 L265 330.04 L264.7 331.2 L264.4 333.51 L264.1 334.23 L264 334.2 L263.8 334.23 L263.5 334.55 L263.2 335.06 L262.9 337.2 L262.6 338.29 L262.3 337.72 L262 340.52 L261.7 340.3 L261.4 341.27 L261.1 342.36 L260.8 343.84 L260.5 344.83 L260.5 343.9 L260.2 334.67 L260 329.4 L259.9 331.42 L259.6 333.91 L259.3 338.72 L259 342.04 L258.7 346.54 L258.5 348.71 L258.4 346.81 L258.1 340.97 L257.8 332.94 L257.5 327.17 L257.5 326.91 L257.2 331.26 L256.9 337.65 L256.6 341.73 L256.5 343.05 L256.3 342.51 L256 340.57 L255.7 337.7 L255.4 337.31 L255.1 334.4 L255 333.41 L254.8 334.22 L254.5 333.89 L254.2 335.07 L253.9 336.07 L253.6 336.48 L253.3 337.17 L253 338.03 L253 337.23 L252.7 337.53 L252.4 337.69 L252.1 339.27 L251.8 338.84 L251.5 339.18 L251.5 339.03 L251.2 338.36 L250.9 339.56 L250.6 340.72 L250.3 340.05 L250 341.74 L249.7 340.68 L249.5 342.26 L249.4 341.93 L249.1 339.98 L248.8 337.62 L248.5 337.74 L248.2 335.49 L248 335.17 L247.9 335.02 L247.6 338.57 L247.3 340.4 L247 340.87 L246.7 344.21 L246.4 346.08 L246.2 347.08 L246.1 343.4 L245.8 328.22 L245.8 327.85 L245.5 330.14 L245.2 329.95 L244.9 332.79 L244.6 332.34 L244.3 335.02 L244 334.61 L243.7 336.84 L243.4 338.97 L243.1 339.13 L243 340.87 L242.8 339.89 L242.5 340.44 L242.2 341.99 L241.9 342.01 L241.6 343.82 L241.3 343.6 L241 344.81 L240.7 344.52 L240.4 346.28 L240.1 346.06 L240 346.18 L239.8 344.9 L239.5 343.16 L239.2 343.12 L238.9 342.21 L238.6 341.16 L238.5 340.74 L238.3 340.5 L238 341.93 L237.7 343.37 L237.4 344.51 L237.1 344.62 L236.8 345.16 L236.5 345.29 L236.2 348.12 L235.9 346.9 L235.6 348.6 L235.3 350.25 L235 350.55 L235 349.41 L234.7 349.62 L234.4 350.86 L234.1 350.49 L233.8 352.95 L233.5 351.74 L233.2 352.42 L232.9 353.32 L232.6 353.96 L232.3 354.37 L232.2 354.51 L232 353.11 L231.7 350.1 L231.4 345.88 L231.2 344.78 L231.1 343.37 L230.8 345.9 L230.5 348.38 L230.2 348.22 L229.9 351.15 L229.8 350.38 L229.6 349.37 L229.3 344.19 L229 339.81 L228.8 337.61 L228.7 339.12 L228.4 338.59 L228.1 339.2 L227.8 340.77 L227.5 342.53 L227.2 344.14 L227 343.69 L226.9 345.33 L226.6 345.68 L226.3 347.13 L226 349.39 L225.7 349.49 L225.4 351.15 L225.1 354.5 L224.8 354.65 L224.8 355.2 L224.5 351.79 L224.2 346.94 L223.9 343.22 L223.6 337.5 L223.6 338.15 L223.3 340.71 L223 341.64 L222.7 345.75 L222.5 346.21 L222.4 345.31 L222.1 342.51 L221.8 338.17 L221.5 335.67 L221.5 334.36 L221.2 338.17 L220.9 340.33 L220.6 341.19 L220.3 344.27 L220 344.81 L219.7 347.77 L219.4 349.52 L219.1 350.98 L218.8 353.77 L218.5 356.45 L218.2 356.68 L218.2 358.38 L217.9 353.37 L217.6 350.86 L217.3 347.81 L217 343.9 L217 342.3 L216.7 344.23 L216.4 345.27 L216.1 347.49 L215.8 346.2 L215.5 348.63 L215.2 348.61 L215 349.44 L214.9 349.72 L214.6 353.33 L214.3 354.87 L214 357.36 L213.8 359.18 L213.7 356.68 L213.4 359.96 L213.1 360.92 L212.8 364.2 L212.5 365.79 L212.3 363.98 L212.2 366.23 L211.9 367.95 L211.6 369.33 L211.3 369.45 L211 372.12 L210.8 374.4 L210.7 374.24 L210.4 373.4 L210.1 377.78 L209.8 378.93 L209.5 380.89 L209.2 381.56 L209 384.92 L208.9 383.89 L208.6 385.01 L208.3 387.78 L208 388.9 L207.7 391.54 L207.6 391.1 L207.4 394.91 L207.1 396.39 L206.8 394.44 L206.5 396.27 L206.2 397.26 L205.9 397.66 L205.6 398.62 L205.3 402.18 L205 401.48 L204.7 403.48 L204.4 404.48 L204.1 404.09 L203.8 406.17 L203.8 405.92 L203.5 405.63 L203.2 409.16 L202.9 407.36 L202.6 412.09 L202.3 409.65 L202 411.27 L201.7 412.2 L201.4 412.09 L201.1 416.68 L200.8 416.51 L200.5 418.56 L200.3 418.79 L200.2 417.76 L199.9 420.73 L199.6 421.28 L199.3 418.71 L199 420.66 L198.7 424.85 L198.4 425.59 L198.1 425.04 L197.8 424.88 L197.5 424.99 L197.2 427.21 L197.1 428.69 L196.9 428.63 L196.6 427.48 L196.3 429.04 L196 429.69 L195.7 432 L195.4 431.51 L195.1 432.7 L194.8 437.01 L194.5 435.94 L194.2 436.06 L194.2 436.6 L193.9 439.31 L193.6 441.48 L193.3 442.01 L193 441.13 L192.7 444.96 L192.6 444.83 L192.4 444.37 L192.1 444.4 L191.8 448.17 L191.5 449.01 L191.2 447.26 L190.9 448.65 L190.6 452.29 L190.3 452.59 L190 452.57 L189.7 451.71 L189.4 455.72 L189.1 456.42 L188.8 455.18 L188.8 456.65 L188.5 456.29 L188.2 456.88 L187.9 459.64 L187.6 459.05 L187.3 459.62 L187 463.27 L186.7 463.78 L186.4 463.94 L186.1 464.63 L185.8 463.99 L185.5 466.18 L185.2 466.95 L185 466.31 L184.9 468.86 L184.6 469.85 L184.3 470.39 L184 470.84 L183.7 471.18 L183.4 473.08 L183.1 472.65 L182.8 472.72 L182.5 475.11 L182.2 474.62 L181.9 476.89 L181.6 477.91 L181.3 477.95 L181 478.3 L180.7 480.52 L180.5 479.17 L180.4 481.39 L180.1 481.63 L179.8 481.92 L179.5 482.94 L179.2 483.27 L178.9 483.17 L178.6 483.87 L178.3 485 L178 485.52 L177.7 485.44 L177.4 485.94 L177.1 486.04 L176.8 486.88 L176.5 487.5 L176.2 488.11 L175.9 488.31 L175.6 489.51 L175.3 490.53 L175 490.61 L174.7 490.93 L174.4 491.21 L174.1 492.95 L174 492.54 L173.8 493.39 L173.5 493.9 L173.2 494.3 L172.9 493.55 L172.6 494.47 L172.3 494.42 L172 494.44 L171.7 495.71 L171.4 496.45 L171.1 496.46 L170.8 496.61 L170.5 497.22 L170.2 496.81 L169.9 497.11 L169.6 498.06 L169.3 498.64 L169 499.22 L168.7 499.41 L168.4 499.85 L168.1 500.68 L167.8 500.45 L167.5 501.77 L167.3 501.48 L167.2 501.98 L166.9 502.08 L166.6 502.39 L166.3 503.14 L166 503.2 L165.7 503.73 L165.4 503.94 L165.1 504.69 L164.8 504.81 L164.5 505.74 L164.2 506.23 L163.9 506.11 L163.6 506.65 L163.3 506.95 L163 507.49 L162.7 507.53 L162.4 508.16 L162.4 508.38 L162.1 508.34 L161.8 507.97 L161.5 507.43 L161.2 508.13 L160.9 507.62 L160.6 507.15 L160.3 507.78 L160 507.29 L159.7 506.56 L159.4 507.37 L159.1 506.75 L159.1 506.51 L158.8 507.38 L158.5 506.91 L158.2 506.85 L157.9 507.21 L157.6 507.43 L157.3 507.11 L157 506.73 L156.7 506.31 L156.5 505.98 L156.4 506.67 L156.1 507.49 L155.8 508.71 L155.5 509.25 L155.2 510.11 L154.9 511.56 L154.6 512.02Z" fill="#808080" fill-opacity="0.4" stroke="#808080" stroke-opacity="0.4" stroke-width="1.389" stroke-linejoin="miter"/>
</g>
<g clip-path="url(#ax)">
<path d="M180.2 446.5 L181.5 446 L183.9 462.5 L180.2 452Z" fill="#808080" fill-opacity="0.4"/>
<path d="M161.05 131.5 V314" stroke="#808080" stroke-opacity="0.45" stroke-width="1.9" fill="none"/>
<path d="M163.5 314.6 V389" stroke="#808080" stroke-opacity="0.45" stroke-width="0.9" fill="none"/>
<path d="M168 381.7 V438" stroke="#808080" stroke-opacity="0.45" stroke-width="1.7" fill="none"/>
<path d="M176.5 142 V455" stroke="#808080" stroke-opacity="0.45" stroke-width="0.9" fill="none"/>
<path d="M177.7 72 V143" stroke="#808080" stroke-opacity="0.45" stroke-width="1.4" fill="none"/>
<path d="M185 408.3 V433" stroke="#808080" stroke-opacity="0.45" stroke-width="1.7" fill="none"/>
<path d="M189.3 439 V446.5" stroke="#808080" stroke-opacity="0.45" stroke-width="1.5" fill="none"/>
<path d="M224.3 302.5 V350" stroke="#808080" stroke-opacity="0.45" stroke-width="1.8" fill="none"/>
<path d="M258.4 294.5 V346" stroke="#808080" stroke-opacity="0.45" stroke-width="1.8" fill="none"/>
<path d="M706.4 265.75 V359.5" stroke="#808080" stroke-opacity="0.45" stroke-width="1.9" fill="none"/>
<path d="M886.1 256 V334.5" stroke="#808080" stroke-opacity="0.45" stroke-width="1.8" fill="none"/>
<path d="M1025.5 152.5 V170" stroke="#808080" stroke-opacity="0.45" stroke-width="1.8" fill="none"/>
</g>
<path d="M238.5 72 V534 M364.5 72 V534 M489.5 72 V534 M615.5 72 V534 M741.5 72 V534 M866.5 72 V534 M992.5 72 V534 M150 534.5 H1080 M150 476.5 H1080 M150 419.5 H1080 M150 361.5 H1080 M150 303.5 H1080 M150 245.5 H1080 M150 188.5 H1080 M150 130.5 H1080 M150 72.5 H1080" fill="none" stroke="#b0b0b0" stroke-opacity="0.3" stroke-width="1.111"/>
<g clip-path="url(#ax)">
<path d="M154.6 509.93 L154.9 509.72 L155.2 508.11 L155.5 507.35 L155.8 506.55 L156.1 504.79 L156.4 503.59 L156.5 502.6 L156.7 502.77 L157 502.93 L157.3 503.02 L157.6 503.04 L157.9 502.28 L158.2 501.66 L158.5 501.81 L158.8 502.56 L159.1 501.38 L159.1 501.73 L159.4 502.57 L159.7 501.35 L160 502.33 L160.3 502.99 L160.6 502.03 L160.9 502.64 L161.2 503.32 L161.5 502.25 L161.8 502.98 L162.1 503.46 L162.4 503.47 L162.4 503.15 L162.7 502.38 L163 502.49 L163.3 501.95 L163.6 501.77 L163.9 501.24 L164.2 501.66 L164.5 501.2 L164.8 500.1 L165.1 500.18 L165.4 499.34 L165.7 499.28 L166 498.77 L166.3 498.93 L166.6 498.09 L166.9 497.9 L167.2 497.99 L167.3 497.35 L167.5 497.95 L167.8 496.31 L168.1 496.91 L168.4 495.97 L168.7 495.59 L169 495.58 L169.3 495 L169.6 494.43 L169.9 493.31 L170.2 493.08 L170.5 493.83 L170.8 493.11 L171.1 493.06 L171.4 493.21 L171.7 492.29 L172 490.61 L172.3 490.75 L172.6 490.98 L172.9 489.81 L173.2 491.06 L173.5 490.65 L173.8 490.07 L174 488.93 L174.1 489.62 L174.4 487.34 L174.7 487.18 L175 486.98 L175.3 487.11 L175.6 485.89 L175.9 484.39 L176.2 484.35 L176.5 483.72 L176.8 483.07 L177.1 482.1 L177.4 482.22 L177.7 481.74 L178 482.11 L178.3 481.61 L178.6 480.22 L178.9 479.46 L179.2 479.86 L179.5 479.64 L179.8 478.4 L180.1 478.24 L180.4 478.14 L180.5 474.97 L180.7 477.21 L181 474.34 L181.3 474.19 L181.6 474.51 L181.9 473.41 L182.2 470.45 L182.5 471.55 L182.8 468.43 L183.1 468.71 L183.4 469.71 L183.7 467.31 L184 467.2 L184.3 466.92 L184.6 466.51 L184.9 465.43 L185 461.81 L185.2 463.04 L185.5 462.32 L185.8 459.51 L186.1 460.87 L186.4 460.28 L186.7 460.46 L187 460.13 L187.3 455.17 L187.6 454.76 L187.9 456.05 L188.2 452.39 L188.5 451.95 L188.8 452.9 L188.8 450.74 L189.1 453.03 L189.4 452.46 L189.7 447 L190 448.73 L190.3 449.21 L190.6 449.23 L190.9 444.32 L191.2 442.73 L191.5 445.78 L191.8 444.99 L192.1 439.89 L192.4 440.32 L192.6 441.29 L192.7 441.66 L193 436.53 L193.3 438.36 L193.6 438.11 L193.9 435.43 L194.2 431.94 L194.2 431.15 L194.5 431.51 L194.8 433.64 L195.1 427.73 L195.4 426.35 L195.7 427.43 L196 424.38 L196.3 423.79 L196.6 421.84 L196.9 423.92 L197.1 424.26 L197.2 422.17 L197.5 419.22 L197.8 419.41 L198.1 419.98 L198.4 421.15 L198.7 420.4 L199 414.52 L199.3 411.96 L199.6 416.13 L199.9 415.67 L200.2 411.59 L200.3 413.24 L200.5 413.13 L200.8 410.42 L201.1 411.03 L201.4 404.52 L201.7 405.04 L202 404 L202.3 401.93 L202.6 405.91 L202.9 399.21 L203.2 402.25 L203.5 397.33 L203.8 398.11 L203.8 398.48 L204.1 395.78 L204.4 396.77 L204.7 395.67 L205 393.09 L205.3 394.6 L205.6 389.72 L205.9 388.74 L206.2 388.6 L206.5 387.56 L206.8 385.28 L207.1 388.65 L207.4 386.89 L207.6 381.48 L207.7 382.45 L208 379.43 L208.3 378.69 L208.6 375.46 L208.9 374.73 L209 376.58 L209.2 372.07 L209.5 371.84 L209.8 369.67 L210.1 368.74 L210.4 362.94 L210.7 364.99 L210.8 365.5 L211 362.51 L211.3 359.17 L211.6 359.66 L211.9 358.25 L212.2 356.35 L212.3 353.17 L212.5 356.35 L212.8 354.62 L213.1 350.36 L213.4 349.59 L213.7 345.34 L213.8 349.32 L214 347.16 L214.3 344.29 L214.6 342.85 L214.9 338.29 L215 338.15 L215.2 337.19 L215.5 337.67 L215.8 334.45 L216.1 336.84 L216.4 333.94 L216.7 332.81 L217 330.34 L217 332.76 L217.3 336.8 L217.6 339.52 L217.9 341.44 L218.2 347.13 L218.2 344.56 L218.5 345.19 L218.8 342.11 L219.1 338.88 L219.4 337.65 L219.7 336 L220 332.5 L220.3 332.65 L220.6 328.97 L220.9 328.64 L221.2 326.34 L221.5 321.57 L221.5 323.55 L221.8 325.58 L222.1 330.4 L222.4 332.88 L222.5 333.66 L222.7 333.68 L223 328.52 L223.3 328.12 L223.6 325.23 L223.6 324.25 L223.7 327.33 L223.8 313.5 L224.2 313.5 L224.3 335.33 L224.5 339.33 L224.8 342.35 L224.8 341.51 L225.1 342.01 L225.4 337.65 L225.7 335.87 L226 336.46 L226.3 333.75 L226.6 332.23 L226.9 332.39 L227 330.13 L227.2 331.16 L227.5 329.22 L227.8 327.06 L228.1 325.14 L228.4 324.68 L228.7 325.95 L228.8 323.8 L229 325.7 L229.3 330.17 L229.6 335.96 L229.8 336.13 L229.9 337.54 L230.2 333.86 L230.5 334.87 L230.8 331.86 L231.1 328.74 L231.2 331.11 L231.4 331.54 L231.7 336.12 L232 338.84 L232.2 339.72 L232.3 339.58 L232.6 339.17 L232.9 338.48 L233.2 337.4 L233.5 336.66 L233.8 338.82 L234.1 335.35 L234.4 336.12 L234.7 334.4 L235 334.24 L235 335.99 L235.3 335.83 L235.6 333.6 L235.9 331.33 L236.2 333.61 L236.5 329.66 L236.8 329.85 L237.1 329.43 L237.4 329.65 L237.7 328.38 L238 326.65 L238.3 324.92 L238.5 325.61 L238.6 326.04 L238.9 327 L239.2 327.64 L239.5 326.9 L239.8 328.78 L240 330.2 L240.1 330.07 L240.4 330.56 L240.7 328.05 L241 328.71 L241.3 327.09 L241.6 327.67 L241.9 325.12 L242.2 325.31 L242.5 323.25 L242.8 322.73 L243 324.47 L243.1 322 L243.4 322.39 L243.7 319.76 L244 316.89 L244.3 318.05 L244.6 314.44 L244.9 315.67 L245.2 311.81 L245.5 312.67 L245.8 309.71 L245.8 310.28 L246.1 326.06 L246.2 329.17 L246.4 328.3 L246.7 326.44 L247 322.29 L247.3 322.55 L247.6 320.72 L247.9 316.21 L248 316.77 L248.2 316.74 L248.5 319.41 L248.8 318.38 L249.1 321.21 L249.4 323.38 L249.5 323.61 L249.7 321.26 L250 323.05 L250.3 320.59 L250.6 321.81 L250.9 320.21 L251.2 318.53 L251.5 319.76 L251.5 319.99 L251.8 319.44 L252.1 320.08 L252.4 317.6 L252.7 317.32 L253 316.82 L253 318.08 L253.3 317.02 L253.6 316.23 L253.9 315.9 L254.2 314.64 L254.5 313.11 L254.8 313.95 L255 312.88 L255.1 314.06 L255.4 317.48 L255.7 316.96 L256 320.32 L256.3 322.22 L256.5 322.32 L256.6 321.2 L256.9 317.65 L257.2 310.5 L257.5 306.54 L257.5 306.95 L257.8 312.12 L258.1 320.84 L258.4 326.21 L258.5 327.96 L258.7 326.02 L259 321.13 L259.3 318.11 L259.6 312.75 L259.9 310.97 L260 308.5 L260.2 313.39 L260.5 322.8 L260.5 324.27 L260.8 323.13 L261.1 321.24 L261.4 319.96 L261.7 318.97 L262 319.85 L262.3 316.01 L262.6 317.43 L262.9 316.26 L263.2 313.35 L263.5 312.94 L263.8 312.84 L264 313.05 L264.1 313.23 L264.4 312.5 L264.7 309.31 L265 307.98 L265.3 307.87 L265.6 307.05 L265.9 306.32 L266.2 303.52 L266.5 304.33 L266.8 304.31 L267 303.68 L267.1 303.75 L267.4 303.62 L267.7 303.69 L268 300.5 L268.3 302.9 L268.6 300.46 L268.9 300.25 L269.2 300.31 L269.5 301.65 L269.8 300.54 L270 299.73 L270.1 299.73 L270.4 301.23 L270.7 300.76 L271 298.37 L271.3 298.3 L271.6 298.27 L271.9 297.35 L272.2 298.03 L272.5 296.52 L272.5 297.65 L272.8 301.92 L273.1 304.78 L273.4 305.51 L273.5 306.9 L273.7 308.02 L274 309.45 L274.3 309.31 L274.6 309.57 L274.9 310.55 L275 310.33 L275.2 311.78 L275.5 310.27 L275.8 308.37 L276.1 308.48 L276.4 307.08 L276.7 306.29 L277 304.96 L277 305.35 L277.3 307.4 L277.6 306.99 L277.9 307.25 L278.2 305.11 L278.5 306.45 L278.8 306.13 L279 305.31 L279.1 306.16 L279.4 304.71 L279.7 304.8 L280 306.19 L280.3 305.41 L280.6 305.03 L280.9 302.36 L281 302.39 L281.2 301.98 L281.5 302.27 L281.8 302.34 L282.1 305.14 L282.4 305.27 L282.7 303.55 L283 304.2 L283 306.47 L283.3 304.88 L283.6 303.91 L283.9 303.78 L284.2 302.52 L284.5 302.87 L284.8 302.68 L285 301.57 L285.1 302.47 L285.4 299.96 L285.7 301.3 L286 302.3 L286.3 299.38 L286.5 300.33 L286.6 301.55 L286.9 302.98 L287.2 307.35 L287.5 308.16 L287.5 308.14 L287.8 308.25 L288.1 304.16 L288.4 305.64 L288.7 302.03 L289 301.58 L289 301.93 L289.3 301.62 L289.6 299.95 L289.9 300.57 L290.2 300.42 L290.5 302.14 L290.8 301.81 L291 300.61 L291.1 302.43 L291.4 304.33 L291.7 304.89 L292 306.22 L292 307.79 L292.3 306.27 L292.6 304.66 L292.9 307.16 L293.2 306.51 L293.5 304.48 L293.8 304.02 L294 303.7 L294.1 304.41 L294.4 302.6 L294.7 302.62 L295 301.14 L295.3 301 L295.6 301.71 L295.9 300.59 L296 299.89 L296.2 301.59 L296.5 303.72 L296.8 302.94 L297.1 305.44 L297.4 305.56 L297.5 305.61 L297.7 305.86 L298 302.47 L298.3 302.14 L298.6 304.04 L298.9 303.6 L299 300.8 L299.2 304.14 L299.5 303.37 L299.8 305.42 L300 306.23 L300.1 306.61 L300.4 306.29 L300.7 307.34 L301 305.2 L301.3 303.58 L301.6 303.52 L301.9 302.17 L302 302.07 L302.2 302.93 L302.5 302.54 L302.8 301.05 L303.1 300.83 L303.4 299.34 L303.7 300.51 L304 299.05 L304 298.32 L304.3 298.71 L304.6 297.1 L304.9 296.74 L305.2 295.57 L305.5 297.04 L305.8 294.8 L306 296.54 L306.1 294.51 L306.4 292.99 L306.7 294.09 L307 293.51 L307.3 293.33 L307.6 290.26 L307.9 291.63 L308.2 290.95 L308.5 288.27 L308.6 288.45 L308.8 308.46 L309 326.74 L309.1 328.46 L309.4 327.07 L309.7 326.76 L310 324.64 L310.3 324.04 L310.6 322.18 L310.9 321.75 L311.2 322.17 L311.5 321.95 L311.8 318.47 L312 317.53 L312.1 317.38 L312.4 317.89 L312.7 318.41 L313 316.11 L313.3 316.37 L313.6 315.96 L313.9 316.42 L314.2 313.82 L314.5 312.91 L314.8 313.96 L315 313.2 L315.1 312.89 L315.4 313.99 L315.7 313.37 L316 311.24 L316.3 312.34 L316.6 312.79 L316.9 312.82 L317.2 309.8 L317.5 311.82 L317.8 308.98 L318 310.5 L318.1 310.12 L318.4 310.76 L318.7 309.41 L319 307.35 L319.3 308.99 L319.6 307.66 L319.9 309.21 L320.2 306.77 L320.5 307.5 L320.5 308.52 L320.8 308.22 L321.1 310.78 L321.4 312.07 L321.7 313.32 L322 314.87 L322 313.56 L322.3 313.8 L322.6 315.26 L322.9 316.76 L323.2 316.95 L323.5 319.91 L323.5 318.11 L323.8 316.63 L324.1 317.42 L324.4 315.43 L324.7 312.26 L325 310.87 L325 312.2 L325.3 311.29 L325.6 309.9 L325.9 309.94 L326.2 310.58 L326.5 307.8 L326.8 310.01 L327.1 308.47 L327.4 307.19 L327.5 308.77 L327.7 308 L328 310.65 L328.3 312.83 L328.6 313.72 L328.9 317.27 L329 317.4 L329.2 315.74 L329.5 315.34 L329.8 314.72 L330.1 315.67 L330.4 314.19 L330.7 314.59 L331 314.79 L331.3 314.42 L331.6 311.92 L331.9 311.91 L332 311.9 L332.2 311.61 L332.5 311.39 L332.8 311.19 L333.1 311.64 L333.4 310.18 L333.7 310.21 L334 310.25 L334.3 309.57 L334.5 310.74 L334.6 310.76 L334.9 313.88 L335.2 315.23 L335.5 315.22 L335.8 316.75 L336 319.11 L336.1 318.78 L336.4 318.1 L336.7 320.47 L337 320.86 L337.3 322.82 L337.6 323.71 L337.8 324.8 L337.9 323.97 L338.2 323.68 L338.5 321.3 L338.8 320.63 L339.1 319.13 L339.4 320.34 L339.7 317.76 L340 317.75 L340 317.64 L340.3 317.94 L340.6 316.43 L340.9 315.36 L341.2 315.5 L341.5 314.34 L341.8 314.89 L342.1 315.62 L342.4 314.13 L342.7 316.34 L343 315.14 L343 314.56 L343.3 316.88 L343.6 316.19 L343.9 317.65 L344.2 320.16 L344.5 319.47 L344.8 321.46 L345 320.33 L345.1 321.27 L345.4 321.12 L345.7 319.58 L345.9 319.56 L346 314.26 L346.2 302.7 L346.3 307.22 L346.5 319 L346.6 320.31 L346.9 318.37 L347.2 319.18 L347.5 317.47 L347.5 318.09 L347.8 317.56 L348.1 317.37 L348.4 317.27 L348.7 317.07 L349 316.46 L349.3 316.33 L349.6 315.99 L349.9 314.06 L350 315.05 L350.2 314.1 L350.5 313.16 L350.8 312.62 L351.1 313.64 L351.4 312.87 L351.7 311.06 L351.8 312.12 L352 313.89 L352.3 319.28 L352.5 322.75 L352.6 322.79 L352.9 321.37 L353.2 320.83 L353.5 321.8 L353.8 322.09 L354.1 321.77 L354.4 320.47 L354.7 320.68 L355 320.71 L355.3 320.77 L355.6 319.6 L355.9 320.16 L356.2 318.48 L356.5 317.87 L356.5 318.04 L356.8 319.19 L357.1 319.7 L357.4 318.9 L357.7 319.88 L358 319.07 L358.3 320.38 L358.6 320.67 L358.9 321.13 L359 320.73 L359.2 322 L359.5 322.53 L359.8 322.87 L360.1 323.53 L360.4 323.31 L360.7 324.74 L361 324.9 L361 325.59 L361.3 324.57 L361.6 325.26 L361.9 324.17 L362.2 323.96 L362.5 325.66 L362.8 324.22 L363 323.37 L363.1 325.1 L363.4 327.15 L363.7 328.15 L364 329.89 L364.3 330.99 L364.5 330.74 L364.6 329.99 L364.9 328.84 L365.2 328.51 L365.5 328.65 L365.8 328.88 L366.1 326.5 L366.4 327.9 L366.7 327.41 L367 326.86 L367.3 324.83 L367.6 323.87 L367.9 324.55 L368 324.07 L368.2 323.08 L368.5 322.43 L368.8 321.4 L369.1 323.24 L369.4 322.68 L369.7 322.75 L370 322.18 L370.3 321.06 L370.6 321.29 L370.9 319.32 L371 320.13 L371.2 320.67 L371.5 323.21 L371.8 326.43 L372 327.19 L372.1 328.08 L372.4 327.12 L372.7 326.15 L373 325.75 L373.3 324.88 L373.6 325.6 L373.9 325.61 L374.2 323.78 L374.5 323.77 L374.8 324.27 L375 322.68 L375.1 323.79 L375.4 323.48 L375.7 322.72 L376 322.94 L376.3 321.68 L376.6 322.54 L376.9 323.02 L377.2 321.91 L377.5 321.51 L377.8 321.45 L378 321.7 L378.1 322.28 L378.4 324.67 L378.7 325.16 L379 326.51 L379.3 327.25 L379.5 328.02 L379.6 328.69 L379.9 329.45 L380.2 328.52 L380.5 329.25 L380.8 329.89 L381.1 330.74 L381.4 329.57 L381.5 329.98 L381.7 330.1 L382 328.9 L382.3 329.5 L382.6 329.88 L382.9 328.13 L383.2 328.35 L383.5 327.52 L383.8 328.21 L384.1 329 L384.4 328.04 L384.7 327.13 L385 326.75 L385 327.37 L385.3 329.44 L385.6 330.27 L385.9 331.95 L386 333.12 L386.2 331.52 L386.5 333.15 L386.8 332.18 L387.1 331.9 L387.4 332.75 L387.7 331.71 L388 331.33 L388.3 331.31 L388.6 331.87 L388.9 330.52 L389.2 330.96 L389.5 330.36 L389.8 330.88 L390 330.05 L390.1 331.25 L390.4 331.47 L390.7 330.26 L391 330.27 L391.3 330.36 L391.6 330.26 L391.9 328.6 L392.2 329.4 L392.5 329.29 L392.8 329.13 L393.1 328.48 L393.4 329.21 L393.7 328.7 L394 328.04 L394.3 328.22 L394.5 328.76 L394.6 328.81 L394.9 329.66 L395.2 329.88 L395.5 329.34 L395.8 330.06 L396.1 330.95 L396.4 330.55 L396.7 330.31 L397 331.8 L397.3 331.09 L397.5 331.03 L397.6 331.46 L397.9 331.23 L398.2 331.34 L398.5 332.21 L398.8 332.62 L399.1 332.06 L399.4 331.71 L399.7 332.37 L400 332.34 L400 332.4 L400.3 331.9 L400.6 332.71 L400.9 331.49 L401.2 331.01 L401.5 332 L401.8 331.88 L402.1 330.79 L402.4 330.34 L402.7 330.68 L403 330.9 L403.3 329.31 L403.6 329.43 L403.9 328.69 L404 329.56 L404.2 329.2 L404.5 329.24 L404.8 329.94 L405.1 329.92 L405.4 329.52 L405.7 329.76 L406 330.58 L406.3 330.16 L406.6 329.49 L406.9 329.61 L407.2 328.52 L407.5 328.83 L407.8 329.52 L408 328.14 L408.1 329.57 L408.4 329.34 L408.7 329.18 L409 328.98 L409.3 328.83 L409.6 329.55 L409.9 330.7 L410 330.25 L410.2 331.17 L410.5 330.09 L410.8 331.14 L411.1 331.17 L411.4 330.9 L411.7 329.94 L412 330.08 L412.3 329.98 L412.6 330.13 L412.9 331.53 L413.2 331.27 L413.5 331.92 L413.8 331.25 L414.1 331.54 L414.4 332.69 L414.7 333.05 L415 331.64 L415 332.84 L415.3 332.48 L415.6 331.53 L415.9 332.65 L416.2 332.08 L416.5 332.23 L416.8 333.27 L417.1 332.75 L417.4 331.42 L417.7 332.42 L418 331.12 L418.3 332.67 L418.6 332.39 L418.9 332.68 L419 331.67 L419.2 332.07 L419.5 333.28 L419.8 333.45 L420.1 334.42 L420.4 333.66 L420.7 334.06 L421 333.75 L421.3 334.62 L421.6 335.5 L421.9 334.31 L422.2 335.26 L422.5 334.18 L422.8 335.48 L423.1 334.98 L423.4 334.72 L423.5 336.02 L423.7 335.76 L424 333.77 L424.3 333.05 L424.6 332.61 L424.9 331.87 L425 332.23 L425.2 332.01 L425.5 330.97 L425.8 330.36 L426.1 331.25 L426.4 331.33 L426.7 330.98 L427 331.84 L427.3 332.74 L427.6 331.5 L427.9 332.1 L428.2 333.46 L428.5 332.68 L428.8 333.05 L429.1 333.56 L429.4 335.03 L429.7 333.94 L430 333.91 L430 334.85 L430.3 335.08 L430.6 335.05 L430.9 334.47 L431.2 335.41 L431.5 334.23 L431.8 334.89 L432.1 334.91 L432.4 335.37 L432.7 334.89 L433 334.91 L433.3 336.47 L433.6 335.38 L433.9 335.83 L434.2 336.66 L434.5 335.85 L434.8 336.23 L435.1 336.84 L435.4 336.25 L435.5 336.26 L435.7 336.49 L436 334.66 L436.3 332.72 L436.5 332.12 L436.6 332.89 L436.9 333.17 L437.2 332.9 L437.5 332.67 L437.8 334.19 L438.1 333.54 L438.4 334.94 L438.7 334.34 L439 336.15 L439.3 335.91 L439.6 335.48 L439.9 335.41 L440 335.66 L440.2 334.84 L440.5 333.2 L440.8 332.21 L441.1 330.06 L441.2 330.26 L441.4 331.08 L441.7 330.89 L442 332.16 L442.3 331.76 L442.6 331.74 L442.9 333.1 L443.2 332.65 L443.5 333.23 L443.8 333.75 L444.1 334.22 L444.4 333.21 L444.7 334.46 L445 334.04 L445.3 333.78 L445.5 333.81 L445.6 334.75 L445.9 334.18 L446.2 332.98 L446.5 332.13 L446.8 332.71 L447.1 330.55 L447.4 330.1 L447.7 330.35 L448 330.02 L448.3 328.52 L448.6 328.33 L448.9 328.01 L449 328.25 L449.2 328.52 L449.5 329.01 L449.8 329.6 L450.1 330.6 L450.4 330.37 L450.5 331.47 L450.7 330.96 L451 330.65 L451.3 331.75 L451.6 332.17 L451.9 331.78 L452.2 331.84 L452.5 333.6 L452.8 334.44 L453.1 335.34 L453.4 335.7 L453.7 335.95 L454 335.98 L454.3 336.26 L454.6 336.41 L454.9 338.16 L455 337.87 L455.2 335.59 L455.5 332.6 L455.8 330.16 L456 329.15 L456.1 328.42 L456.4 328.7 L456.7 329.76 L457 330.05 L457.3 331.04 L457.6 331.16 L457.9 331.39 L458.2 332.62 L458.5 332.94 L458.8 332.26 L459.1 333.02 L459.4 333.85 L459.5 333.44 L459.7 334.86 L460 335.16 L460.3 334.61 L460.6 335.91 L460.9 335.56 L461.2 335.26 L461.5 336.16 L461.8 336.42 L462.1 336.67 L462.4 337.28 L462.5 337.24 L462.7 336.17 L463 335.86 L463.3 334.83 L463.6 335.16 L463.9 334.41 L464.2 333.97 L464.5 334.81 L464.8 333.19 L465.1 333.13 L465.4 333.8 L465.7 333.4 L466 332.93 L466 333.57 L466.3 331.99 L466.6 331.39 L466.9 331.36 L467.2 330.13 L467.5 330.57 L467.8 330.44 L468 329.74 L468.1 329.96 L468.4 328.92 L468.7 329.84 L469 330.97 L469.3 331.19 L469.6 331.14 L469.9 331.63 L470.2 331.37 L470.5 331.76 L470.8 331.82 L471.1 333.63 L471.4 333.05 L471.5 334.38 L471.7 331.97 L472 332.17 L472.3 330.57 L472.5 329 L472.6 330.07 L472.9 329.94 L473.2 329.74 L473.5 329.55 L473.8 329.32 L474.1 329.28 L474.4 328.67 L474.7 329.8 L475 329.15 L475 328.79 L475.3 330.61 L475.6 330.02 L475.9 330.84 L476.2 331.69 L476.5 332.28 L476.8 331.9 L477.1 331.86 L477.4 333.19 L477.7 333.54 L478 334.09 L478.3 333.63 L478.6 334.89 L478.9 335.14 L479 335.39 L479.2 335.05 L479.5 334.66 L479.8 334.22 L480.1 334.47 L480.4 333.17 L480.7 333.54 L481 333.15 L481 333.12 L481.3 329.46 L481.6 327.17 L481.9 325.61 L482.2 322.75 L482.2 321.72 L482.5 322.67 L482.8 323.62 L483.1 324.1 L483.4 323.94 L483.7 323.65 L484 324.46 L484.3 324.86 L484.6 325.82 L484.9 326.37 L485.2 328.15 L485.5 328.79 L485.8 328.84 L486 329.87 L486.1 328.52 L486.4 328.18 L486.7 328.46 L487 327.91 L487 327.23 L487.3 328.55 L487.6 328.09 L487.9 328.09 L488.2 327.71 L488.5 328.12 L488.8 327.36 L489.1 327.93 L489.4 328.66 L489.7 328.79 L490 328.85 L490 328.07 L490.3 328.99 L490.6 330.53 L490.9 330.9 L491.2 331.15 L491.2 329.9 L491.5 327.05 L491.8 324.41 L492 323.71 L492.1 322.76 L492.4 323.04 L492.7 323.33 L493 324.35 L493.3 324.25 L493.6 324.73 L493.9 323.21 L494.2 322.94 L494.5 324.02 L494.8 322.58 L495 323.42 L495.1 323.47 L495.4 323.5 L495.7 324.26 L496 325.73 L496.3 325.23 L496.6 327.44 L496.9 326.56 L497.2 327.36 L497.5 328.75 L497.8 328.49 L498 330.34 L498.1 329.59 L498.4 329.38 L498.7 329.87 L499 330.81 L499.3 331.67 L499.6 331 L499.9 331.66 L500.2 332.56 L500.5 333.31 L500.8 334.05 L501 333.81 L501.1 333.87 L501.4 334.63 L501.7 334.26 L502 333.04 L502.3 333.56 L502.6 331.8 L502.9 332.43 L503 332.42 L503.2 330.76 L503.5 329.3 L503.8 326.61 L504 326.78 L504.1 326.7 L504.4 327.08 L504.7 327.53 L505 327.07 L505.3 328.41 L505.6 328.11 L505.9 328.46 L506.2 327.98 L506.5 329.22 L506.8 329.09 L507.1 330.44 L507.4 329.76 L507.7 330.41 L508 331.05 L508 331.35 L508.3 330.24 L508.6 326.96 L508.9 325.98 L509 324.51 L509.2 325.08 L509.5 324.9 L509.8 324.48 L510.1 324.79 L510.4 324.37 L510.7 324.04 L511 324.4 L511.3 323.95 L511.6 325.28 L511.9 324.26 L512 325.5 L512.2 324.69 L512.5 326.76 L512.8 326.02 L513.1 326.57 L513.4 327.35 L513.7 328.97 L514 328.84 L514.3 329.46 L514.6 330.48 L514.9 329.82 L515 330.77 L515.2 328.5 L515.5 325.05 L515.8 323.18 L516 320.44 L516.1 320.44 L516.4 321.42 L516.7 322.01 L517 321.34 L517.3 321.51 L517.6 323.02 L517.9 322.27 L518.2 322.54 L518.5 322.52 L518.8 323.21 L519.1 322.77 L519.4 323.69 L519.7 323.71 L520 323.39 L520 324.08 L520.3 325.17 L520.6 325.18 L520.9 325.42 L521.2 325.3 L521.5 326.84 L521.8 326.82 L522.1 327.17 L522.4 327.57 L522.7 327.9 L523 328.02 L523.3 328.2 L523.6 328.73 L523.9 328.46 L524.2 329.42 L524.5 330.44 L524.5 331.15 L524.8 329.66 L525.1 329.1 L525.4 328.87 L525.7 327.42 L525.8 326.84 L525.9 326.6 L526 324.14 L526.2 318.65 L526.3 320.8 L526.5 325.16 L526.6 325.13 L526.9 325.69 L527 325.59 L527.2 324.86 L527.5 326.39 L527.8 326.02 L528.1 326.44 L528.4 325.96 L528.7 327.37 L529 326.12 L529 326.33 L529.3 326.96 L529.6 327.25 L529.9 327.54 L530.2 328.41 L530.5 327.48 L530.8 328.99 L531.1 329.1 L531.4 330.2 L531.7 330.47 L532 331.24 L532 331.32 L532.3 330.86 L532.6 329.51 L532.9 329.82 L533.2 329.86 L533.5 329.43 L533.5 329.68 L533.8 328.87 L534.1 328.23 L534.4 329.36 L534.7 328.65 L535 329.25 L535.3 328.58 L535.6 329.34 L535.9 330.07 L536.2 329.55 L536.5 330.14 L536.8 330.04 L537.1 331.34 L537.4 331.27 L537.7 331.18 L538 331.11 L538 331.83 L538.3 330.92 L538.6 331.76 L538.9 330.93 L539.2 331.91 L539.5 331.38 L539.8 331.23 L540.1 332.82 L540.4 332.01 L540.7 333.3 L541 332.99 L541.3 333.15 L541.6 333.54 L541.9 334.53 L542.2 333.82 L542.5 335.5 L542.8 334.95 L543 334.92 L543.1 336.33 L543.4 335.38 L543.7 336.31 L544 337.2 L544.3 336.67 L544.6 337.7 L544.9 337.65 L545.2 337.8 L545.5 337.03 L545.8 337.96 L546.1 338.24 L546.4 337.34 L546.7 338.86 L547 339.09 L547 338.11 L547.3 339.49 L547.6 339.85 L547.9 339.08 L548.2 340.76 L548.5 341.81 L548.8 342.3 L549.1 341.94 L549.4 343.08 L549.7 343.69 L550 343.76 L550 343.78 L550.3 343.66 L550.6 343.85 L550.9 344.64 L551.2 345.12 L551.5 345.65 L551.8 346.52 L552.1 345.47 L552.4 346.15 L552.7 347.28 L553 347.59 L553.3 346.86 L553.6 348.11 L553.7 347.33 L553.9 333.43 L554.2 309.54 L554.2 310.07 L554.5 310.33 L554.8 310.86 L555.1 310.86 L555.4 311.55 L555.7 311.9 L556 312.9 L556.3 313.1 L556.6 313.86 L556.9 314.28 L557.2 314.98 L557.5 315.82 L557.8 315.24 L558 315.33 L558.1 315.45 L558.4 315.39 L558.7 315.22 L559 315.01 L559.3 315.94 L559.6 315.99 L559.9 317.11 L560.2 317.94 L560.5 318.3 L560.5 318.28 L560.8 317.96 L561.1 318.12 L561.4 318.82 L561.5 319.53 L561.7 319 L562 319.19 L562.3 320.88 L562.6 320.4 L562.9 320.46 L563.2 321.64 L563.5 322.42 L563.8 322.56 L564.1 322.4 L564.4 323.32 L564.7 322.97 L565 324.32 L565 324.64 L565.3 323.49 L565.6 324.58 L565.9 325.28 L566.2 325.3 L566.5 324.87 L566.8 325.06 L567.1 325.9 L567.4 325.4 L567.7 326.72 L568 326.36 L568.3 326.18 L568.6 326.99 L568.9 326.67 L569.2 327.64 L569.5 328.14 L569.8 328.05 L570 329.45 L570.1 329.43 L570.4 328.96 L570.7 329.54 L571 329.57 L571.3 330.75 L571.6 330.56 L571.9 331.13 L572.2 330.88 L572.5 330.93 L572.8 330.22 L573.1 331.05 L573.4 330.28 L573.7 331.18 L574 331.15 L574.3 330.99 L574.6 330.63 L574.9 331.43 L575 331.51 L575.2 331.76 L575.5 331.06 L575.8 331.56 L576.1 332.26 L576.4 332.93 L576.7 332.12 L577 333.01 L577.3 333.01 L577.6 331.57 L577.9 332.42 L578 331.89 L578.2 331.26 L578.5 331.2 L578.8 331.23 L579.1 330.53 L579.4 331.36 L579.7 330.82 L580 330.64 L580 331.42 L580.3 330.89 L580.6 329.45 L580.9 328.54 L581 328.75 L581.2 328.94 L581.5 330.29 L581.8 329.83 L582.1 330.03 L582.4 330.31 L582.7 330.98 L583 331.31 L583.3 333.06 L583.6 333.24 L583.9 333.62 L584 334.34 L584.2 334.01 L584.5 334.37 L584.8 333.63 L585.1 333.81 L585.4 334.3 L585.5 334.63 L585.7 333.52 L586 333.34 L586.3 332.82 L586.6 332.89 L586.9 333.37 L587.2 333.94 L587.5 334.08 L587.5 333.47 L587.8 329.65 L588 327.78 L588.1 328.38 L588.4 328.9 L588.7 327.87 L589 329 L589.3 329.2 L589.6 328.07 L589.9 329.28 L590.2 328.82 L590.5 329.19 L590.8 328.93 L591.1 329.07 L591.4 329.73 L591.7 329.94 L592 329.78 L592 329.75 L592.3 331.2 L592.6 330.74 L592.9 331.42 L593.2 331.58 L593.5 332.38 L593.8 333.24 L594.1 333.18 L594.4 333.79 L594.7 334.22 L595 334.04 L595 334.59 L595.3 334.41 L595.6 334.31 L595.9 335.23 L596.2 335.63 L596.5 336.13 L596.8 336.36 L597.1 338.22 L597.4 337.68 L597.5 338.13 L597.7 338.58 L598 339.32 L598.3 338.62 L598.6 338.58 L598.9 339.68 L599.2 340.24 L599.5 339.69 L599.5 340.49 L599.8 337.21 L600.1 335.74 L600.4 332.16 L600.5 332.39 L600.7 332.74 L601 331.88 L601.3 332.75 L601.6 332.41 L601.9 332.04 L602.2 331.66 L602.5 332.7 L602.8 332.42 L603.1 332.8 L603.4 332.43 L603.5 332.22 L603.7 332.6 L604 333.79 L604.3 333.43 L604.6 334.07 L604.9 334.89 L605.2 334.82 L605.5 335.56 L605.8 336.03 L606 336.94 L606.1 336.11 L606.4 335.08 L606.7 335.25 L607 333.21 L607.3 332.67 L607.5 331.84 L607.6 331.48 L607.9 332.19 L608.2 332.34 L608.5 332.08 L608.8 332.22 L609.1 332.39 L609.4 333.97 L609.7 334.61 L610 334.07 L610.3 334.57 L610.5 335.28 L610.6 335.32 L610.9 334.97 L611.2 334.41 L611.5 333.84 L611.8 333.31 L612.1 332.11 L612.4 332.48 L612.5 332.69 L612.7 332.3 L613 332.52 L613.3 333.06 L613.6 333.46 L613.9 332.86 L614.2 334.09 L614.5 334.19 L614.8 333.66 L615.1 333.81 L615.4 333.73 L615.7 334.1 L616 334.92 L616 334.1 L616.3 335.21 L616.6 334.47 L616.9 335.07 L617.2 335.98 L617.5 335.98 L617.8 336.45 L618.1 337.77 L618.4 337.81 L618.5 338.5 L618.7 335.95 L619 333.24 L619.3 331.27 L619.5 328.95 L619.6 328.42 L619.9 329.2 L620.2 329.03 L620.5 329.27 L620.8 330.27 L621.1 329.91 L621.4 330.34 L621.7 330.39 L622 330.7 L622.3 331.44 L622.6 331.29 L622.9 331.76 L623 332.02 L623.2 331.53 L623.5 331.22 L623.8 331.02 L624.1 331.93 L624.4 330.86 L624.7 330.85 L625 331.23 L625.3 331.23 L625.5 331.07 L625.6 330.8 L625.9 328.62 L626.2 326.44 L626.5 325.23 L626.5 325 L626.8 325.47 L627.1 324.57 L627.4 325.11 L627.7 324.1 L628 324.55 L628.3 324.41 L628.6 323.97 L628.9 324.92 L629.2 324.84 L629.5 323.97 L629.8 324.62 L630.1 324.89 L630.4 324.43 L630.7 324.13 L631 324.57 L631.3 324.03 L631.6 324.15 L631.9 324.15 L632 323.59 L632.2 324.26 L632.5 324.26 L632.8 324.79 L633.1 324.86 L633.4 326 L633.7 325.66 L634 326.62 L634.3 327.08 L634.6 326.51 L634.9 327.78 L635.2 327.6 L635.5 327.1 L635.8 328.34 L636.1 328.48 L636.4 329.11 L636.7 329.12 L637 329.2 L637.3 329.94 L637.6 329.81 L637.9 330.47 L638 330.54 L638.2 330.86 L638.5 332.27 L638.8 332.21 L639.1 332.6 L639.4 332.52 L639.7 332.55 L640 332.51 L640.3 333.61 L640.6 333.42 L640.9 333.59 L641.2 334.27 L641.5 335.1 L641.8 334.99 L642.1 335.38 L642.4 335.97 L642.7 336.2 L643 336.93 L643.3 337.26 L643.6 337.47 L643.9 337.52 L644.2 337.57 L644.5 337.4 L644.8 338.55 L645 338.63 L645.1 338.26 L645.4 338.58 L645.7 338.96 L646 338.49 L646.3 339 L646.6 339.63 L646.9 339.03 L647.2 339.09 L647.5 340.05 L647.5 339.97 L647.8 336.08 L648 334.63 L648.1 334.66 L648.4 334.62 L648.7 334.44 L649 334.37 L649.3 334.4 L649.6 334.39 L649.9 333.87 L650.2 333.93 L650.5 333.94 L650.8 334.43 L651.1 333.91 L651.4 333.95 L651.7 334.16 L652 333.23 L652.3 333.11 L652.5 333.06 L652.6 332.2 L652.9 327.87 L653.2 323.23 L653.2 323.18 L653.5 323.49 L653.8 324.34 L654.1 324.23 L654.4 324.84 L654.7 325.09 L655 325.44 L655.3 325.45 L655.6 325.59 L655.9 326.07 L656.2 326.64 L656.5 326.99 L656.8 326.88 L657.1 327.16 L657.4 327.58 L657.7 327.57 L658 327.71 L658.3 328.01 L658.6 328.46 L658.9 328.67 L659.2 329.29 L659.5 329.56 L659.5 329.7 L659.8 327.84 L660 326.46 L660.1 326.4 L660.4 326.66 L660.7 327.21 L661 327.31 L661.3 327.27 L661.6 327.73 L661.9 328.15 L662.2 328.45 L662.5 328.75 L662.8 329.07 L663.1 329.15 L663.4 329.55 L663.7 329.57 L664 330.17 L664.3 330.41 L664.5 330.47 L664.6 329.61 L664.9 327.13 L665 325.99 L665.2 326.28 L665.5 326.63 L665.8 327.16 L666.1 327.22 L666.4 327.48 L666.7 327.84 L667 328.42 L667.3 328.4 L667.6 328.96 L667.9 329.27 L668.2 329.59 L668.5 329.96 L668.8 330.43 L669 330.45 L669.1 330.5 L669.4 330.29 L669.7 329.78 L670 329.59 L670 329.48 L670.3 329.55 L670.6 329.78 L670.9 330.07 L671.2 330.48 L671.5 330.83 L671.8 330.96 L672.1 331.02 L672.4 331.58 L672.7 332.02 L673 331.89 L673.3 332.33 L673.6 332.45 L673.9 333.02 L674.2 333.08 L674.5 333.75 L674.8 333.74 L675.1 334.1 L675.4 334.21 L675.7 334.46 L676 334.58 L676.3 335.29 L676.6 335.28 L676.9 335.55 L677.2 335.89 L677.5 336.07 L677.8 336.34 L678.1 336.54 L678.4 337.1 L678.7 337.27 L679 337.19 L679 337.46 L679.3 326.03 L679.5 318.93 L679.6 319.18 L679.9 319.17 L680.2 319.45 L680.5 320.07 L680.8 320.23 L681.1 320.59 L681.4 320.39 L681.7 320.58 L682 320.73 L682.3 321.08 L682.6 321.21 L682.9 321.75 L683.2 321.75 L683.5 322.19 L683.8 322.48 L684.1 322.51 L684.4 323.05 L684.7 323.44 L685 323.38 L685.3 323.69 L685.5 323.8 L685.6 324.08 L685.9 323.96 L686.2 323.97 L686.5 323.64 L686.8 323.55 L687 323.37 L687.1 323.47 L687.4 324.12 L687.7 324.15 L688 324.29 L688.3 324.36 L688.6 324.96 L688.9 324.88 L689.2 325.54 L689.5 325.87 L689.8 326.3 L690.1 326.67 L690.4 326.9 L690.7 327.06 L691 327.22 L691.3 327.62 L691.6 327.51 L691.9 327.82 L692.2 328.33 L692.5 328.64 L692.8 328.79 L693 328.67 L693.1 328.74 L693.4 327.9 L693.7 326.76 L694 325.83 L694 325.81 L694.3 326.1 L694.6 326.04 L694.9 326.18 L695.2 326.77 L695.5 326.69 L695.8 326.86 L696.1 326.92 L696.4 326.96 L696.7 327.13 L697 327.25 L697.3 327.69 L697.6 327.85 L697.9 328.06 L698 328.12 L698.2 325.95 L698.5 323.3 L698.8 321.06 L698.8 320.86 L699.1 321.47 L699.4 321.56 L699.7 321.83 L700 322.09 L700.3 322.28 L700.6 322.66 L700.9 322.72 L701.2 323.36 L701.5 323.52 L701.8 323.78 L702.1 324.07 L702.4 324.18 L702.7 324.52 L703 324.68 L703.3 324.83 L703.6 324.88 L703.9 325.4 L704.2 325.68 L704.5 326.05 L704.8 326.37 L705.1 326.48 L705.4 326.45 L705.7 326.69 L706 327.3 L706 327.3 L706.2 327.2 L706.3 298.5 L706.7 298.5 L706.8 327.8 L706.9 327.7 L707.2 327.95 L707.5 328.59 L707.5 328.34 L707.8 327.62 L708.1 327.1 L708.4 326.13 L708.7 325.58 L709 324.91 L709 324.83 L709.3 325 L709.6 325.46 L709.9 325.63 L710.2 326.05 L710.5 326.41 L710.8 326.63 L711.1 327.32 L711.4 327.46 L711.7 327.86 L712 328.15 L712.3 328.12 L712.5 328.24 L712.6 328.22 L712.9 326.71 L713.2 325.51 L713.2 325.6 L713.5 325.53 L713.8 325.83 L714.1 325.87 L714.4 326.01 L714.7 326.11 L715 326.39 L715.3 326.58 L715.6 327 L715.9 327.07 L716.2 327.4 L716.5 327.37 L716.8 327.54 L717.1 327.91 L717.4 327.97 L717.5 328.25 L717.7 322.86 L718 314.99 L718 315.22 L718.3 315.13 L718.6 315.58 L718.9 315.61 L719.2 315.68 L719.5 316.18 L719.8 316.4 L720.1 316.4 L720.4 316.81 L720.7 317.03 L721 317.34 L721.3 317.28 L721.6 317.64 L721.9 318.04 L722.2 317.76 L722.5 318.25 L722.8 318.23 L723 318.4 L723.1 318.16 L723.4 317.82 L723.7 317.4 L724 317.27 L724.3 316.97 L724.6 316.71 L724.9 316.44 L725 316.07 L725.2 316.47 L725.5 316.8 L725.8 316.6 L726.1 317.06 L726.4 317.16 L726.7 317.14 L727 317.52 L727.3 317.81 L727.6 318.06 L727.9 318.02 L728.2 318.72 L728.5 318.71 L728.8 319.16 L729.1 319.06 L729.4 319.48 L729.7 319.43 L730 319.88 L730.3 320.16 L730.6 320.33 L730.9 320.77 L731.2 320.95 L731.5 321.04 L731.8 321.32 L732.1 321.58 L732.4 321.97 L732.7 322.51 L733 322.48 L733 322.72 L733.3 322.65 L733.6 322.66 L733.9 322.6 L734.2 322.35 L734.5 322.63 L734.8 322.38 L735 322.61 L735.1 322.25 L735.4 322.54 L735.7 322.8 L736 323.32 L736.3 323.27 L736.6 323.67 L736.9 323.83 L737.2 323.95 L737.5 323.96 L737.8 324.36 L738.1 324.27 L738.4 324.35 L738.7 324.79 L739 324.84 L739 325.1 L739.3 318.94 L739.6 313.35 L739.7 310.99 L739.9 311.25 L740.2 311.38 L740.5 311.73 L740.8 311.83 L741.1 312.04 L741.4 312.21 L741.7 312.43 L742 312.4 L742.3 312.57 L742.6 312.67 L742.9 312.76 L743.2 313.16 L743.5 313.5 L743.8 313.67 L744.1 313.89 L744.4 313.67 L744.7 314.15 L745 314.04 L745.3 314.58 L745.6 314.79 L745.9 314.81 L746.2 315.24 L746.5 315.23 L746.8 315.51 L747.1 315.65 L747.4 316.12 L747.7 316.24 L748 316.4 L748.3 316.53 L748.6 316.85 L748.9 316.69 L749.2 317.12 L749.5 317.05 L749.8 317.38 L750.1 317.55 L750.4 318.04 L750.5 318.33 L750.7 316.36 L751 313.87 L751.3 311.49 L751.6 308.68 L751.9 306.26 L752 305.44 L752.2 305.39 L752.5 305.94 L752.8 305.97 L753.1 306.38 L753.4 306.47 L753.7 307.18 L754 307.12 L754.3 307.53 L754.6 307.57 L754.9 307.81 L755.2 308.01 L755.5 308.34 L755.8 308.41 L756.1 308.81 L756.4 309.07 L756.7 309.12 L757 309.61 L757.3 309.5 L757.6 310.02 L757.9 310.44 L758 310.45 L758.2 308.41 L758.5 305.8 L758.8 303.15 L759 301.44 L759.1 301.69 L759.4 302.11 L759.7 302.04 L760 302.45 L760.3 302.42 L760.6 302.96 L760.9 302.88 L761.2 302.98 L761.5 303.18 L761.8 303.33 L762.1 303.51 L762.4 304.13 L762.7 304.27 L763 304.24 L763 304.45 L763.3 301.83 L763.6 299.08 L763.7 298.66 L763.9 298.45 L764.2 298.81 L764.5 298.92 L764.8 299.18 L765.1 299.62 L765.4 299.72 L765.7 299.7 L766 300.14 L766.3 300.25 L766.6 300.36 L766.9 300.73 L767.2 300.83 L767.5 301.36 L767.8 301.38 L768.1 301.55 L768.4 302.17 L768.7 302.09 L769 302.56 L769.3 302.86 L769.6 303.01 L769.9 303.34 L770.2 303.24 L770.5 303.48 L770.8 303.8 L771.1 303.75 L771.4 304.35 L771.7 304.39 L772 304.61 L772.3 304.8 L772.6 304.99 L772.9 305.08 L773.2 305.27 L773.5 305.59 L773.8 305.77 L774.1 306.33 L774.4 306.41 L774.7 307.04 L775 306.94 L775.3 307.21 L775.6 307.62 L775.9 307.68 L776.2 307.75 L776.5 308.06 L776.8 308.12 L777.1 308.24 L777.4 308.86 L777.7 309.04 L778 309.22 L778.3 309.22 L778.6 309.52 L778.9 309.52 L779.2 309.69 L779.5 310.31 L779.8 310.26 L780.1 310.38 L780.4 310.85 L780.7 310.94 L781 311.22 L781.3 311.17 L781.6 311.58 L781.9 311.84 L782.2 312.06 L782.5 312.28 L782.8 312.87 L783.1 313.06 L783.4 313.17 L783.7 313.22 L784 313.58 L784.3 313.67 L784.6 313.67 L784.9 314.22 L785.2 314.51 L785.5 314.91 L785.8 315.12 L786.1 315.04 L786.4 315.35 L786.7 315.41 L787 315.6 L787.3 315.96 L787.6 316.02 L787.9 316.15 L788.2 316.64 L788.5 317.01 L788.8 317.2 L789.1 317.08 L789.4 317.43 L789.7 317.56 L790 317.98 L790.3 318.47 L790.6 318.37 L790.9 318.86 L791.2 318.99 L791.5 319.23 L791.8 319.6 L792.1 319.58 L792.4 319.82 L792.7 320.22 L793 320.14 L793.3 320.32 L793.6 320.65 L793.9 320.83 L794 320.86 L794.2 314.06 L794.5 304.26 L794.8 293.95 L794.8 293.91 L795.1 294.39 L795.4 294.67 L795.7 294.87 L796 295.22 L796.3 295.04 L796.6 295.4 L796.9 295.78 L797.2 296.07 L797.5 295.94 L797.8 296.44 L798.1 296.44 L798.4 296.78 L798.7 297.19 L799 297.45 L799.3 297.34 L799.6 297.65 L799.9 298.2 L800.2 298.24 L800.5 298.47 L800.8 298.55 L801.1 298.87 L801.4 299.02 L801.7 299.19 L802 299.49 L802.3 299.83 L802.6 299.99 L802.9 300.17 L803.2 300.27 L803.5 300.49 L803.8 300.87 L804.1 301.1 L804.4 301.3 L804.7 301.21 L805 301.61 L805.3 301.88 L805.6 301.89 L805.9 302.18 L806.2 302.58 L806.5 302.73 L806.8 302.96 L807.1 302.89 L807.4 303.13 L807.7 303.68 L808 303.88 L808.3 303.95 L808.6 304.13 L808.9 304.47 L809.2 304.88 L809.5 305 L809.8 305.36 L810.1 305.37 L810.4 305.82 L810.7 305.79 L811 306.36 L811.3 306.28 L811.6 306.38 L811.9 306.96 L812.2 306.96 L812.5 307.22 L812.8 307.31 L813.1 307.56 L813.4 307.87 L813.7 308.07 L814 308.41 L814.3 308.56 L814.6 308.88 L814.9 308.95 L815.2 309.39 L815.5 309.65 L815.8 310 L816.1 310.14 L816.4 310.06 L816.7 310.41 L817 310.79 L817.3 310.97 L817.6 310.87 L817.9 311.07 L818.2 311.48 L818.5 311.76 L818.8 311.91 L819.1 312.26 L819.4 312.6 L819.7 313.09 L820 313.08 L820.3 313.53 L820.6 313.75 L820.9 313.68 L821.2 314.15 L821.5 314 L821.8 314.34 L822.1 314.41 L822.4 314.7 L822.7 314.88 L823 315.3 L823.3 315.57 L823.6 315.59 L823.9 315.83 L824.2 316.35 L824.5 316.23 L824.8 316.61 L825.1 316.92 L825.4 317.19 L825.7 317.21 L826 317.53 L826.3 317.69 L826.6 318.15 L826.9 318.32 L827.2 318.55 L827.5 318.56 L827.8 318.56 L828.1 319.22 L828.4 319.12 L828.7 319.44 L829 319.61 L829.3 320.04 L829.6 320.43 L829.9 320.78 L830.2 320.85 L830.5 320.89 L830.5 321.25 L830.8 317.7 L831.1 314.53 L831.2 313.45 L831.4 313.83 L831.7 313.73 L832 314.04 L832.3 314.03 L832.6 314.12 L832.9 314.45 L833.2 314.39 L833.5 314.61 L833.8 315.09 L834.1 315.15 L834.4 315.25 L834.7 315.56 L835 315.81 L835.3 316 L835.6 316.1 L835.9 316.34 L836.2 316.32 L836.5 316.58 L836.8 316.91 L837.1 317.07 L837.4 316.82 L837.5 316.97 L837.7 314.56 L838 310.97 L838.3 307.34 L838.5 304.91 L838.6 305.08 L838.9 305.2 L839.2 305.64 L839.5 305.54 L839.8 306.17 L840.1 306.04 L840.4 306.57 L840.7 306.73 L841 307.14 L841.3 307.27 L841.6 307.55 L841.9 308 L842.2 308.14 L842.5 308.5 L842.8 308.8 L843.1 308.87 L843.4 309.43 L843.7 309.53 L844 309.8 L844.3 310.1 L844.6 310.43 L844.9 310.33 L845.2 310.58 L845.5 310.78 L845.8 311.36 L846.1 311.32 L846.4 311.65 L846.7 311.61 L847 312.15 L847.3 312.07 L847.5 312.51 L847.6 309.87 L847.9 303.2 L848.2 295.95 L848.2 296.05 L848.5 296.33 L848.8 296.43 L849.1 296.82 L849.4 296.9 L849.7 297.52 L850 297.65 L850.3 297.83 L850.6 298.12 L850.9 298.36 L851.2 298.48 L851.5 298.81 L851.8 299.18 L852.1 299.43 L852.4 299.91 L852.7 300.1 L853 300.43 L853.3 300.42 L853.6 300.84 L853.9 300.94 L854.2 301.16 L854.5 301.43 L854.8 301.76 L855.1 301.91 L855.4 302.12 L855.7 302.31 L856 302.79 L856.3 302.75 L856.6 303.18 L856.9 303.5 L857.2 303.61 L857.5 304.05 L857.8 304.34 L858.1 304.54 L858.4 304.8 L858.7 304.9 L859 305.2 L859.3 305.46 L859.6 305.85 L859.9 306.28 L860.2 306.5 L860.5 306.89 L860.8 306.95 L861.1 307.35 L861.4 307.49 L861.7 307.68 L862 308.18 L862.3 308.22 L862.6 308.57 L862.9 308.7 L863.2 309.1 L863.5 309.08 L863.8 309.23 L864.1 309.68 L864.4 309.82 L864.5 309.96 L864.7 302.09 L865 291 L865 290.68 L865.3 291.3 L865.6 291.51 L865.9 291.66 L866.2 291.67 L866.5 292.06 L866.8 292.45 L867.1 292.57 L867.4 292.79 L867.7 292.76 L868 292.95 L868.3 293.38 L868.5 293.42 L868.6 293.27 L868.9 292.64 L869.2 292.19 L869.5 291.99 L869.5 291.76 L869.8 292.33 L870.1 292.27 L870.4 292.73 L870.7 293.08 L871 293.4 L871.3 293.64 L871.6 293.82 L871.9 294.04 L872.2 293.9 L872.5 294.11 L872.8 294.36 L873.1 294.64 L873.4 295.12 L873.7 295.28 L874 295.61 L874.3 295.8 L874.6 296 L874.9 296.06 L875.2 296.57 L875.5 296.75 L875.8 296.96 L876.1 297.25 L876.4 297.22 L876.7 297.44 L877 297.67 L877.3 297.82 L877.6 298.15 L877.9 298.47 L878.2 298.72 L878.5 298.82 L878.8 299.33 L879.1 299.28 L879.4 299.52 L879.7 299.78 L880 300.14 L880 299.89 L880.3 300.41 L880.6 300.58 L880.9 300.98 L881.2 301.15 L881.5 301.8 L881.8 302.01 L882.1 302.11 L882.4 302.75 L882.7 302.92 L883 303.4 L883.3 303.67 L883.6 304.1 L883.9 304.41 L884.2 304.65 L884.5 305.05 L884.8 305.09 L885.1 305.76 L885.4 306.09 L885.5 306.29 L885.7 305.94 L885.9 305.47 L886 285.5 L886.4 285.5 L886.5 304.67 L886.6 304.67 L886.9 304.22 L887 304.3 L887.2 304.24 L887.5 304.29 L887.8 304.49 L888.1 304.85 L888.4 305.11 L888.7 305.38 L889 305.4 L889.3 305.85 L889.6 306.26 L889.9 306.4 L890.2 306.61 L890.5 306.77 L890.8 307.16 L891.1 307.05 L891.4 307.58 L891.7 307.79 L892 307.87 L892.3 308.15 L892.6 308.24 L892.9 308.41 L893.2 308.78 L893.5 309.03 L893.8 309.38 L894.1 309.58 L894.4 310.09 L894.7 310.04 L895 310.61 L895 310.49 L895.3 303.72 L895.6 297.37 L895.9 290.59 L896 288.18 L896.2 289.09 L896.5 289.7 L896.8 290.73 L897.1 291.71 L897.4 292.67 L897.5 292.96 L897.7 293.18 L898 293.39 L898.3 293.39 L898.6 293.81 L898.9 294.05 L899.2 294.16 L899.5 294.55 L899.8 294.96 L900.1 295.01 L900.4 295.18 L900.7 295.4 L901 295.63 L901.3 295.9 L901.6 296.13 L901.9 296.09 L902.2 296.27 L902.5 296.49 L902.8 296.92 L903.1 297.15 L903.4 297.17 L903.7 297.63 L904 297.77 L904.3 298.2 L904.5 298.21 L904.6 297.16 L904.9 293.42 L905 292.13 L905.2 292.57 L905.5 292.69 L905.8 293.22 L906.1 293.45 L906.4 293.68 L906.7 294.06 L907 294.56 L907.3 294.62 L907.6 294.84 L907.9 295.5 L908.2 295.46 L908.5 295.8 L908.8 296.21 L909.1 296.63 L909.4 297.01 L909.5 296.8 L909.7 294.72 L910 291.91 L910.3 288.58 L910.3 288.71 L910.6 288.82 L910.9 289.11 L911.2 289.65 L911.5 289.63 L911.8 289.92 L912.1 290.24 L912.4 290.49 L912.7 290.69 L913 291 L913.3 291.22 L913.6 291.64 L913.9 291.97 L914.2 292.16 L914.5 292.23 L914.8 292.71 L915.1 293.03 L915.4 293.06 L915.7 293.45 L916 293.92 L916.3 294.12 L916.6 294.22 L916.9 294.4 L917.2 294.61 L917.5 294.83 L917.8 295.19 L918.1 295.58 L918.4 295.86 L918.7 296 L919 296.4 L919.3 296.68 L919.6 297.14 L919.9 297.48 L920.2 297.79 L920.5 297.88 L920.8 298.31 L921.1 298.49 L921.4 298.55 L921.7 298.81 L922 299.31 L922.3 299.62 L922.6 299.87 L922.9 300.08 L923.2 300.39 L923.5 300.69 L923.8 300.98 L924.1 301.05 L924.4 301.49 L924.7 301.74 L925 302.1 L925.3 302.37 L925.6 302.49 L925.9 303.02 L926.2 303.14 L926.5 303.53 L926.8 303.41 L927.1 303.67 L927.4 303.95 L927.7 304.53 L928 304.64 L928.3 305.01 L928.6 304.99 L928.9 305.56 L929.2 305.55 L929.5 306.19 L929.8 306.3 L930.1 306.77 L930.4 306.93 L930.7 307.23 L931 307.36 L931.3 307.86 L931.5 308.12 L931.6 305.79 L931.9 298.97 L932.2 292.15 L932.2 292.07 L932.5 292.36 L932.8 292.62 L933.1 292.9 L933.4 293.32 L933.7 293.75 L934 294.09 L934.3 294.2 L934.6 294.65 L934.9 295.18 L935.2 295.51 L935.5 296.01 L935.8 296.38 L936.1 296.69 L936.4 296.91 L936.7 297.31 L937 297.71 L937.3 297.76 L937.6 298.17 L937.9 298.4 L938.2 299 L938.5 299.55 L938.5 299.17 L938.8 296.07 L939.1 292.96 L939.2 292.16 L939.4 292.19 L939.7 292.43 L940 292.74 L940.3 292.88 L940.6 293.07 L940.9 293.4 L941.2 293.64 L941.5 293.68 L941.8 294.09 L942.1 294.15 L942.4 294.83 L942.7 294.74 L943 295.22 L943.3 295.6 L943.6 295.53 L943.9 295.72 L944.2 296.11 L944.5 296.2 L944.8 296.37 L945.1 296.78 L945.4 297.16 L945.7 297.37 L946 297.47 L946.3 297.89 L946.6 298.18 L946.9 298.04 L947.2 298.41 L947.5 298.52 L947.8 298.76 L948 298.71 L948.1 298.61 L948.4 298.22 L948.7 298 L949 297.37 L949 297.35 L949.3 297.77 L949.6 297.74 L949.9 298.03 L950.2 298.34 L950.5 298.47 L950.8 298.79 L951.1 299.03 L951.4 299.1 L951.7 299.36 L952 299.89 L952.3 300.01 L952.6 300.16 L952.9 300.31 L953 300.52 L953.2 300.57 L953.5 300.11 L953.8 300.25 L954 299.72 L954.1 300.11 L954.4 300.67 L954.7 301.13 L955 301.55 L955.3 302.11 L955.6 302.74 L955.9 303.39 L956.2 303.68 L956.5 304.12 L956.8 304.63 L957.1 305.35 L957.4 305.53 L957.7 305.99 L958 306.78 L958.3 306.96 L958.6 307.76 L958.9 308.17 L959.2 308.85 L959.5 309.16 L959.8 309.95 L960.1 310.21 L960.4 311.07 L960.5 311.07 L960.7 295.34 L961 271.77 L961 271.7 L961.3 271.98 L961.6 272.26 L961.9 272.8 L962.2 273.02 L962.5 273.29 L962.8 273.71 L963.1 274.23 L963.4 274.29 L963.7 274.75 L964 275.29 L964.3 275.61 L964.6 275.91 L964.9 276.17 L965.2 276.5 L965.5 277 L965.8 277.47 L966.1 277.64 L966.4 278.25 L966.7 278.47 L967 278.75 L967.3 279.17 L967.6 279.28 L967.9 279.82 L968.2 279.9 L968.5 280.05 L968.8 280.79 L969.1 280.97 L969.4 281.51 L969.7 281.55 L970 281.96 L970.3 282.45 L970.6 282.99 L970.9 283.02 L971.2 283.57 L971.5 284.03 L971.8 284.24 L972.1 284.66 L972.4 285.26 L972.7 285.5 L973 285.96 L973.3 286.35 L973.6 286.76 L973.9 286.82 L974.2 287.19 L974.5 287.34 L974.8 287.67 L975.1 288.2 L975.4 288.67 L975.7 288.82 L976 289.41 L976.3 289.73 L976.6 290.2 L976.9 290.37 L977 290.47 L977.2 289.54 L977.5 288.36 L977.8 286.88 L978.1 285.9 L978.2 285.22 L978.4 285.63 L978.7 285.95 L979 286.26 L979.3 286.88 L979.6 287.21 L979.9 287.54 L980.2 287.66 L980.5 288.17 L980.8 288.62 L981.1 288.77 L981.4 289.38 L981.7 289.81 L982 290.25 L982.3 290.45 L982.6 290.64 L982.9 291.09 L983.2 291.73 L983.5 291.86 L983.8 292.46 L984.1 292.87 L984.4 293.19 L984.7 293.72 L985 293.81 L985.3 294.37 L985.6 294.64 L985.9 295.2 L986.2 295.37 L986.5 295.61 L986.8 296 L986.8 296.07 L987.1 290.71 L987.4 285.84 L987.5 284.03 L987.7 284.15 L988 284.73 L988.3 285.37 L988.6 285.7 L988.9 286.11 L989.2 286.71 L989.5 287.19 L989.8 287.52 L990.1 287.7 L990.4 287.99 L990.7 288.47 L991 288.89 L991.3 289.48 L991.6 289.62 L991.9 290.36 L992.2 290.48 L992.5 291.02 L992.8 291.51 L993 292.04 L993.1 291.52 L993.4 289.59 L993.7 288.08 L994 286.62 L994.3 284.96 L994.5 284.17 L994.6 284.18 L994.9 284.52 L995.2 285.09 L995.5 285.57 L995.8 286.1 L996.1 286.62 L996.4 286.94 L996.7 287.58 L997 288.18 L997.3 288.51 L997.6 289.02 L997.9 289.33 L998.2 289.69 L998.5 290.02 L998.8 290.38 L999.1 290.92 L999.4 291.46 L999.7 292.08 L1000 292.65 L1000.3 293.2 L1000.6 293.75 L1000.9 294.09 L1001.2 294.49 L1001.5 294.95 L1001.8 295.41 L1002.1 295.89 L1002.4 296.13 L1002.7 296.88 L1003 297.12 L1003.3 297.55 L1003.5 298.2 L1003.6 293.91 L1003.9 281.95 L1004.2 269.48 L1004.2 269.48 L1004.5 270.26 L1004.8 270.79 L1005.1 271.08 L1005.4 272.01 L1005.7 272.41 L1006 273.3 L1006.3 274.11 L1006.6 274.77 L1006.9 275.32 L1007.2 276.16 L1007.5 276.68 L1007.8 277.13 L1008 277.83 L1008.1 276.87 L1008.4 274.36 L1008.7 272 L1009 269.48 L1009 269.64 L1009.3 270.33 L1009.6 270.86 L1009.9 271.65 L1010.2 272.29 L1010.5 273.27 L1010.8 273.72 L1011.1 274.61 L1011.4 275.35 L1011.7 276.07 L1012 276.7 L1012.3 277.36 L1012.6 277.98 L1012.9 278.76 L1013 279.22 L1013.2 274.82 L1013.5 268.61 L1013.8 262.23 L1014 257.95 L1014.1 258.08 L1014.4 258.28 L1014.7 258.07 L1015 258.05 L1015.3 258.12 L1015.6 258.04 L1015.9 257.98 L1016.2 258.02 L1016.5 258.19 L1016.5 257.93 L1016.8 258.78 L1017.1 259.85 L1017.4 260.52 L1017.7 261.36 L1018 262.26 L1018.3 263.31 L1018.6 264.15 L1018.9 264.98 L1019.2 265.61 L1019.5 266.63 L1019.8 267.2 L1020.1 268.18 L1020.4 269.05 L1020.7 269.87 L1021 270.87 L1021.3 271.66 L1021.6 272.42 L1021.9 273.33 L1022.2 274.18 L1022.5 274.84 L1022.8 275.74 L1023.1 276.59 L1023.4 277.61 L1023.7 278.45 L1024 279.16 L1024.3 280.19 L1024.6 280.81 L1024.9 281.71 L1025 281.95 L1025.2 282.76 L1025.3 170 L1025.7 170 L1025.8 285.05 L1026.1 286.05 L1026.4 287.25 L1026.7 288.52 L1027 289.56 L1027.1 290.07 L1027.3 290.71 L1027.6 291.76 L1027.9 292.79 L1028.2 293.78 L1028.5 294.72 L1028.8 295.88 L1029.1 296.85 L1029.4 297.91 L1029.7 298.8 L1030 299.86 L1030.3 300.96 L1030.6 302.04 L1030.9 302.97 L1031.2 304.08 L1031.25 304.1 L1031.5 305.17 L1031.8 306.57 L1032.1 307.9 L1032.4 309.04 L1032.7 310.31 L1033 311.58 L1033.3 312.9 L1033.6 314.14 L1033.9 315.4 L1034.2 316.75 L1034.2 316.6 L1034.5 318.45 L1034.8 320.1 L1035.1 321.82 L1035.4 323.47 L1035.7 325.14 L1036 326.71 L1036.3 328.49 L1036.6 330.12 L1036.9 331.75 L1037.2 333.52 L1037.5 335.13 L1037.8 336.9 L1038.1 338.53 L1038.3 339.68 L1038.4 340.13 L1038.7 341.42 L1039 342.84 L1039.3 344.13 L1039.6 345.47 L1039.9 346.92 L1040.2 348.22 L1040.5 349.57 L1040.8 350.98 L1041.1 352.26 L1041.4 353.49 L1041.7 354.98 L1042 356.33 L1042.3 357.7 L1042.6 359.1 L1042.9 360.41 L1043.2 361.82 L1043.5 363.13 L1043.75 364.3 L1043.8 364.5 L1044.1 366.33 L1044.4 368.25 L1044.7 370.18 L1045 372.04 L1045.3 373.87 L1045.6 375.68 L1045.9 377.52 L1046.2 379.34 L1046.5 381.28 L1046.8 383.16 L1047.1 385.12 L1047.4 386.91 L1047.7 388.77 L1047.9 389.99 L1048 390.54 L1048.3 392.5 L1048.6 394.47 L1048.9 396.39 L1049.2 398.34 L1049.5 400.15 L1049.8 402.1 L1050.1 404.02 L1050.4 405.92 L1050.7 407.7 L1051 409.76 L1051.3 411.63 L1051.6 413.52 L1051.9 415.32 L1052.2 417.38 L1052.5 419.24 L1052.5 419.14 L1052.8 420.7 L1053.1 422.1 L1053.4 423.57 L1053.7 425.19 L1054 426.68 L1054.3 428.12 L1054.6 429.53 L1054.9 431.05 L1055.2 432.49 L1055.5 434 L1055.8 435.46 L1056.1 437.06 L1056.4 438.57 L1056.7 440 L1056.7 440.03 L1057 441.45 L1057.3 443.12 L1057.6 444.57 L1057.9 446 L1058.2 447.6 L1058.5 449.1 L1058.8 450.7 L1059.1 452.2 L1059.4 453.58 L1059.7 455.21 L1060 456.61 L1060 456.7 L1060.3 458.13 L1060.6 459.37 L1060.9 460.82 L1061.2 462.14 L1061.5 463.44 L1061.8 464.96 L1062.1 466.29 L1062.4 467.57 L1062.7 468.92 L1063 470.31 L1063.3 471.75 L1063.6 473.15 L1063.9 474.44 L1064.2 475.7 L1064.2 475.7 L1064.5 476.46 L1064.8 477.27 L1065.1 477.86 L1065.4 478.65 L1065.7 479.25 L1066 480.01 L1066.1 480.28 L1066.2 451.8 L1066.6 451.8 L1066.7 481.7 L1066.9 482.14 L1067.2 482.9 L1067.5 483.66 L1067.8 484.44 L1068.1 485.28 L1068.4 485.9 L1068.7 486.68 L1069 487.48 L1069.3 488.3 L1069.6 489.05 L1069.9 489.67 L1070 490.01 L1070.2 490.71 L1070.5 491.69 L1070.8 492.8 L1071.1 493.67 L1071.4 494.79 L1071.7 495.84 L1071.7 495.9 L1072 496.11 L1072.3 496.66 L1072.6 497 L1072.9 497.49 L1073.2 497.85 L1073.5 498.32 L1073.8 498.6 L1074.1 499.16 L1074.4 499.47 L1074.7 499.96 L1075 500.27 L1075.3 500.65 L1075.6 501.1 L1075.9 501.57 L1076.2 502.03 L1076.5 502.36 L1076.8 502.73 L1077.1 503.26 L1077.4 503.64 L1077.7 503.99 L1078 504.44 L1078.3 504.77 L1078.6 505.23 L1078.8 505.48" fill="none" stroke="#000" stroke-width="2.35" stroke-linejoin="round" stroke-linecap="butt"/>
<path d="M157 60 H159.7 V501.65 L157 503.23Z" fill="#000"/>
<path d="M157 314 H162 V503.6 L157 503.23Z" fill="#000"/>
<path d="M157 395.4 H164.9 V500.43 L157 503.23Z" fill="#000"/>
<path d="M167 438 H168.9 V495.89 L167 498.23Z" fill="#000"/>
<path d="M174.1 60 H176 V484.68 L174.1 489.92Z" fill="#000"/>
<path d="M177 142.5 H179.9 V478.65 L177 482.72Z" fill="#000"/>
<path d="M172 466 H174.1 V489.92 L172 490.91Z" fill="#000"/>
<path d="M176 455 H177 V482.72 L176 484.68Z" fill="#000"/>
<path d="M184.1 436.25 H185.75 V460.28 L184.1 467.4Z" fill="#000"/>
<path d="M188.2 446.5 H189.6 V449.12 L188.2 452.69Z" fill="#000"/>
<path d="M156.3 466 H157.3 V503.32 L156.3 504.29Z" fill="#000"/>
<path d="M179.9 450 L185 464 L180.5 477 L179.9 478Z" fill="#000"/>
<circle cx="157.7" cy="478.2" r="2.65" fill="#00f"/>
<circle cx="163.3" cy="475.3" r="2.65" fill="#00f"/>
<circle cx="159.2" cy="461.5" r="2.65" fill="#00f"/>
<circle cx="162.1" cy="460.3" r="2.65" fill="#00f"/>
<circle cx="164.6" cy="459" r="2.65" fill="#00f"/>
<circle cx="174.4" cy="466.5" r="2.65" fill="#00f"/>
<circle cx="177.3" cy="453.6" r="2.65" fill="#00f"/>
<circle cx="179.3" cy="443.6" r="2.65" fill="#00f"/>
<circle cx="168.5" cy="436.5" r="2.65" fill="#00f"/>
<circle cx="185.4" cy="432.8" r="2.65" fill="#00f"/>
<circle cx="163.3" cy="389.4" r="2.65" fill="#00f"/>
<circle cx="178.3" cy="387.3" r="2.65" fill="#00f"/>
<circle cx="158.3" cy="381.5" r="2.65" fill="#00f"/>
<circle cx="161.4" cy="304.4" r="2.65" fill="#00f"/>
<circle cx="178.4" cy="124.3" r="2.65" fill="#00f"/>
<circle cx="224.4" cy="302.5" r="2.65" fill="#00f"/>
<circle cx="258.4" cy="294.5" r="2.65" fill="#00f"/>
<circle cx="706.5" cy="286.5" r="2.65" fill="#00f"/>
<circle cx="886.5" cy="272.5" r="2.65" fill="#00f"/>
<circle cx="1025.5" cy="152.5" r="2.65" fill="#00f"/>
<circle cx="1026.4" cy="227.5" r="2.65" fill="#00f"/>
<circle cx="1066.4" cy="447.5" r="2.65" fill="#00f"/>
</g>
<path d="M238.5 534.5 v4.86 M364.5 534.5 v4.86 M489.5 534.5 v4.86 M615.5 534.5 v4.86 M741.5 534.5 v4.86 M866.5 534.5 v4.86 M992.5 534.5 v4.86 M150.5 534.5 h-4.86 M150.5 476.5 h-4.86 M150.5 419.5 h-4.86 M150.5 361.5 h-4.86 M150.5 303.5 h-4.86 M150.5 245.5 h-4.86 M150.5 188.5 h-4.86 M150.5 130.5 h-4.86 M150.5 72.5 h-4.86" fill="none" stroke="#000" stroke-width="1.111"/>
<path d="M150.5 72.5 H1080.5 V534.5 H150.5 Z" fill="none" stroke="#000" stroke-width="1.111" stroke-linejoin="miter"/>
<g font-family="'DejaVu Sans', 'Liberation Sans', sans-serif" font-size="13.889px" fill="#000">
<text x="237.67" y="555" text-anchor="middle">20</text>
<text x="363.35" y="555" text-anchor="middle">30</text>
<text x="489.02" y="555" text-anchor="middle">40</text>
<text x="614.7" y="555" text-anchor="middle">50</text>
<text x="740.38" y="555" text-anchor="middle">60</text>
<text x="866.05" y="555" text-anchor="middle">70</text>
<text x="991.73" y="555" text-anchor="middle">80</text>
<text x="140.8" y="540.18" text-anchor="end">0</text>
<text x="140.3" y="481.53" text-anchor="end">5</text>
<text x="140.3" y="423.78" text-anchor="end">10</text>
<text x="140.3" y="366.03" text-anchor="end">15</text>
<text x="140.3" y="308.28" text-anchor="end">20</text>
<text x="140.3" y="250.53" text-anchor="end">25</text>
<text x="140.3" y="192.78" text-anchor="end">30</text>
<text x="140.3" y="135.03" text-anchor="end">35</text>
<text x="140.3" y="77.98" text-anchor="end">40</text>
<text x="615" y="574.3" text-anchor="middle">Frequency (MHz)</text>
<text transform="translate(113.2 304) rotate(-90)" text-anchor="middle">Power (CPU)</text>
<text x="614.65" y="63.67" text-anchor="middle" font-size="16.667px">2025-04-11 - Cor 305 - LWA229 - Pol XX</text>
</g>
<rect x="899.5" y="79.5" width="174" height="66.5" rx="2.78" ry="2.78" fill="#fff" fill-opacity="0.8" stroke="#ccc" stroke-opacity="0.8" stroke-width="1.15"/>
<path d="M904.3 90.8 H931.9" stroke="#000" stroke-width="2.083" stroke-linecap="square" fill="none"/>
<circle cx="918.5" cy="112.4" r="2.65" fill="#00f"/>
<rect x="904.5" y="128.5" width="28" height="9" fill="#808080" fill-opacity="0.4" stroke="#808080" stroke-opacity="0.4" stroke-width="1.389"/>
<g font-family="'DejaVu Sans', 'Liberation Sans', sans-serif" font-size="13.889px" fill="#000">
<text x="942.65" y="95.05">Median Spectrum</text>
<text x="942.65" y="115.95">Flagged Channels</text>
<text x="942.65" y="136.85">Median Abs. Dev.</text>
</g>
</svg>
</body>
</html>
